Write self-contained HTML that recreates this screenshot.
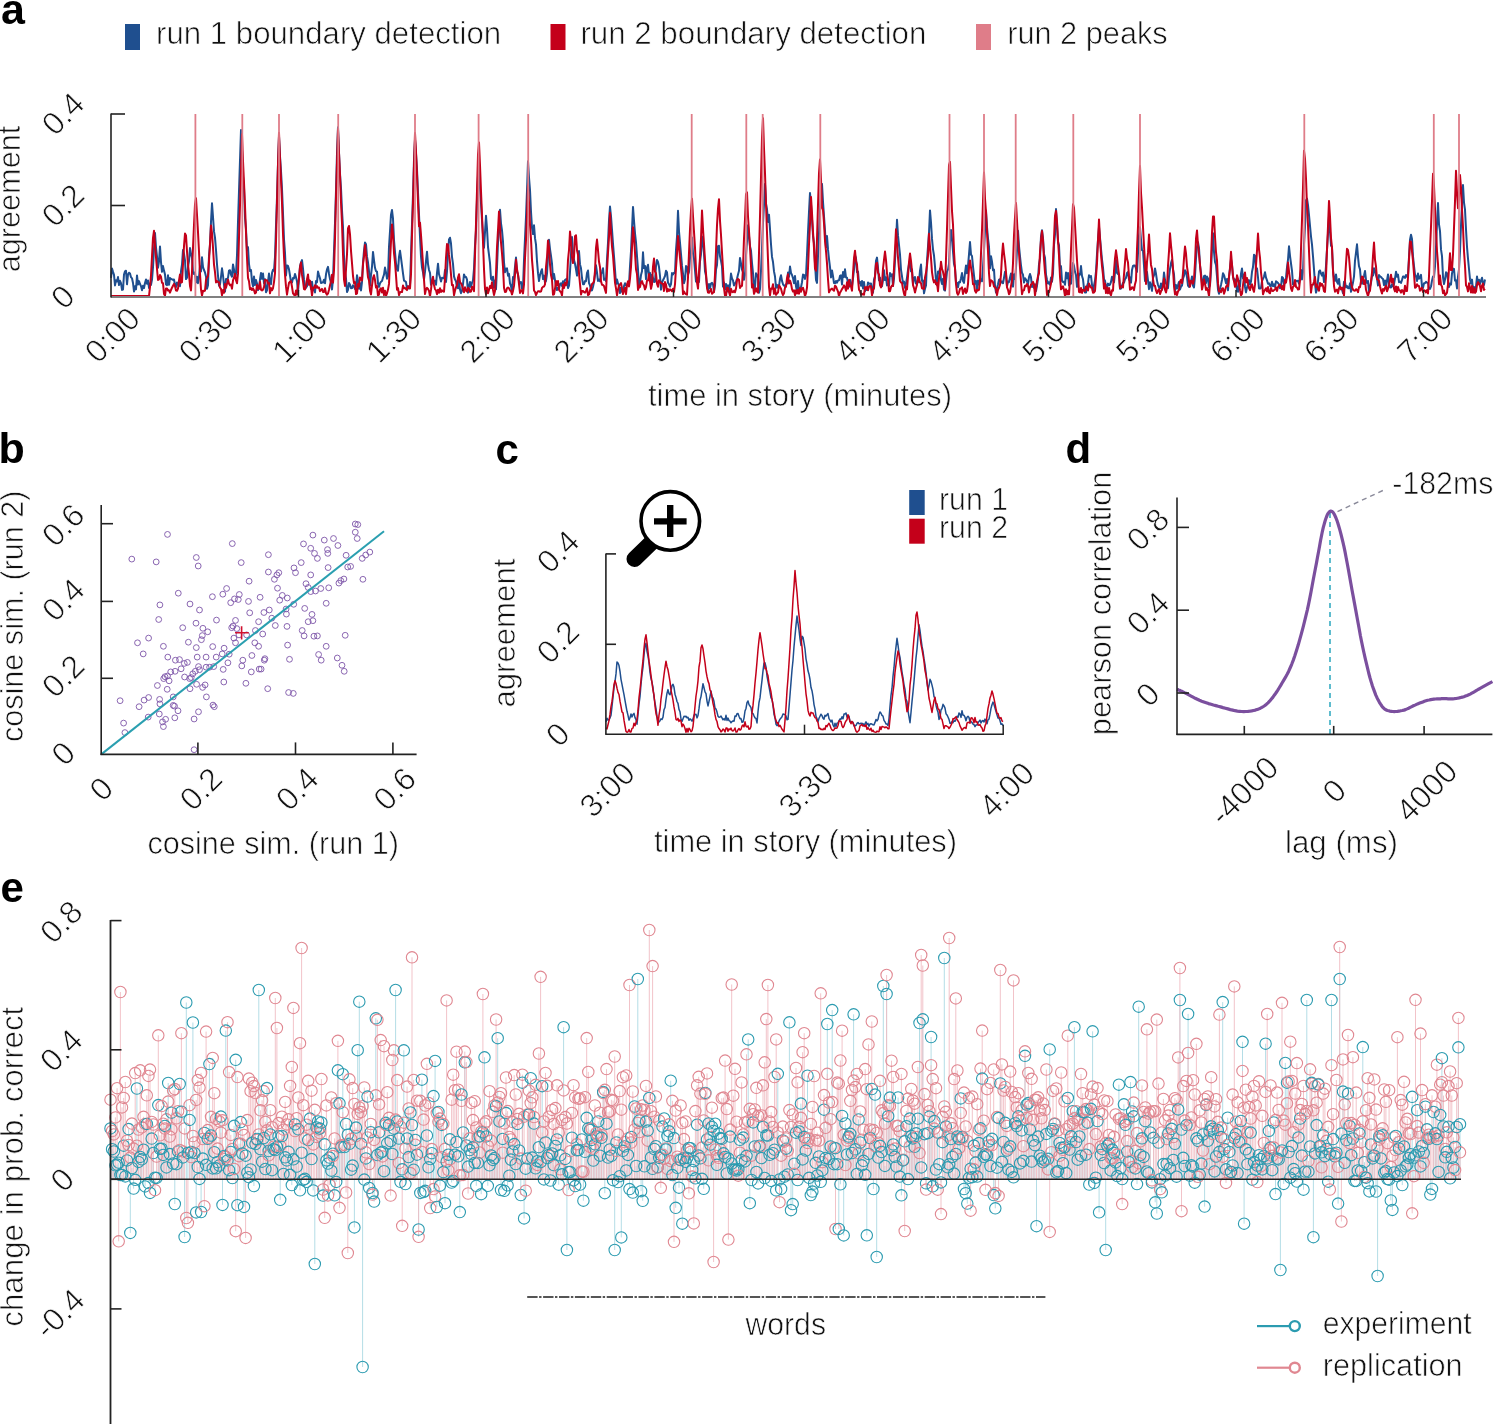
<!DOCTYPE html>
<html><head><meta charset="utf-8"><title>figure</title>
<style>
html,body{margin:0;padding:0;background:#fff;}
body{width:1493px;height:1424px;overflow:hidden;}
svg{display:block;font-family:"Liberation Sans", sans-serif;}
text.t{stroke:#fff;stroke-width:0.7px;}
svg{will-change:transform;}
</style></head><body>
<svg width="1493" height="1424" viewBox="0 0 1493 1424">
<rect width="1493" height="1424" fill="#fff"/>
<g id="panel-a">
<path d="M111.0,277.9 L112.0,268.5 L113.0,271.9 L114.0,274.8 L115.0,285.4 L116.0,280.2 L117.0,281.5 L118.0,277.1 L119.0,285.0 L120.0,280.8 L121.0,283.1 L122.0,289.9 L123.0,289.5 L124.0,274.5 L125.0,271.3 L126.0,270.7 L127.0,284.3 L128.0,274.4 L129.0,272.7 L130.0,273.6 L131.0,277.2 L132.0,278.3 L133.0,283.0 L134.0,291.5 L135.0,286.2 L136.0,289.4 L137.0,275.4 L138.0,284.6 L139.0,281.1 L140.0,284.0 L141.0,286.1 L142.0,290.3 L143.0,285.8 L144.0,288.0 L145.0,283.0 L146.0,279.5 L147.0,283.7 L148.0,280.4 L149.0,287.9 L150.0,283.6 L151.0,284.9 L152.0,279.6 L153.0,267.2 L154.0,249.0 L155.0,233.0 L156.0,247.6 L157.0,256.4 L158.0,267.8 L159.0,261.3 L160.0,246.6 L161.0,262.1 L162.0,271.8 L163.0,266.1 L164.0,270.6 L165.0,274.6 L166.0,284.5 L167.0,285.2 L168.0,275.3 L169.0,284.8 L170.0,278.0 L171.0,278.9 L172.0,279.4 L173.0,279.9 L174.0,279.5 L175.0,284.8 L176.0,286.9 L177.0,282.6 L178.0,284.7 L179.0,281.1 L180.0,286.2 L181.0,271.2 L182.0,264.5 L183.0,250.1 L184.0,253.9 L185.0,260.4 L186.0,279.1 L187.0,277.7 L188.0,266.8 L189.0,261.0 L190.0,248.1 L191.0,253.8 L192.0,257.9 L193.0,272.2 L194.0,273.9 L195.0,272.3 L196.0,282.6 L197.0,276.7 L198.0,283.2 L199.0,277.1 L200.0,266.5 L201.0,271.4 L202.0,257.3 L203.0,267.1 L204.0,270.0 L205.0,272.4 L206.0,276.4 L207.0,288.8 L208.0,285.3 L209.0,255.6 L210.0,244.8 L211.0,221.7 L212.0,203.2 L213.0,217.1 L214.0,231.4 L215.0,237.7 L216.0,250.0 L217.0,264.3 L218.0,275.9 L219.0,285.7 L220.0,284.4 L221.0,276.9 L222.0,268.3 L223.0,275.5 L224.0,284.8 L225.0,291.6 L226.0,279.0 L227.0,279.1 L228.0,277.8 L229.0,270.7 L230.0,270.2 L231.0,274.7 L232.0,276.7 L233.0,264.4 L234.0,269.6 L235.0,278.0 L236.0,273.7 L237.0,255.3 L238.0,222.1 L239.0,191.0 L240.0,160.3 L241.0,130.1 L242.0,150.0 L243.0,176.3 L244.0,187.9 L245.0,218.0 L246.0,229.2 L247.0,250.2 L248.0,247.1 L249.0,264.1 L250.0,271.1 L251.0,270.0 L252.0,281.6 L253.0,286.4 L254.0,276.5 L255.0,285.1 L256.0,280.0 L257.0,283.6 L258.0,290.0 L259.0,287.7 L260.0,279.5 L261.0,273.0 L262.0,278.8 L263.0,273.6 L264.0,283.2 L265.0,279.2 L266.0,292.2 L267.0,290.2 L268.0,281.6 L269.0,273.6 L270.0,282.3 L271.0,284.1 L272.0,273.1 L273.0,269.8 L274.0,270.8 L275.0,257.1 L276.0,225.5 L277.0,197.5 L278.0,163.6 L279.0,136.2 L280.0,156.2 L281.0,171.0 L282.0,189.0 L283.0,213.6 L284.0,239.4 L285.0,253.0 L286.0,275.5 L287.0,265.5 L288.0,266.0 L289.0,269.3 L290.0,275.5 L291.0,282.2 L292.0,282.5 L293.0,277.9 L294.0,278.4 L295.0,274.0 L296.0,277.3 L297.0,281.4 L298.0,292.0 L299.0,279.0 L300.0,266.3 L301.0,262.6 L302.0,260.1 L303.0,268.7 L304.0,279.4 L305.0,285.4 L306.0,287.8 L307.0,286.3 L308.0,279.3 L309.0,280.9 L310.0,282.5 L311.0,288.9 L312.0,281.7 L313.0,289.9 L314.0,289.9 L315.0,292.5 L316.0,281.1 L317.0,282.2 L318.0,271.5 L319.0,275.0 L320.0,278.2 L321.0,283.1 L322.0,282.4 L323.0,282.6 L324.0,279.7 L325.0,283.3 L326.0,274.3 L327.0,269.4 L328.0,266.9 L329.0,273.7 L330.0,279.0 L331.0,282.8 L332.0,289.5 L333.0,279.2 L334.0,251.4 L335.0,222.9 L336.0,190.8 L337.0,153.4 L338.0,127.3 L339.0,152.6 L340.0,173.7 L341.0,188.2 L342.0,210.6 L343.0,227.4 L344.0,256.9 L345.0,272.2 L346.0,278.6 L347.0,292.0 L348.0,289.8 L349.0,282.9 L350.0,284.8 L351.0,288.3 L352.0,288.1 L353.0,285.3 L354.0,286.3 L355.0,289.0 L356.0,286.4 L357.0,275.3 L358.0,280.4 L359.0,288.7 L360.0,283.2 L361.0,290.4 L362.0,281.9 L363.0,262.7 L364.0,250.8 L365.0,242.4 L366.0,244.2 L367.0,256.7 L368.0,262.5 L369.0,271.2 L370.0,285.7 L371.0,275.1 L372.0,266.7 L373.0,251.9 L374.0,260.3 L375.0,267.8 L376.0,271.2 L377.0,271.7 L378.0,283.4 L379.0,286.9 L380.0,283.3 L381.0,281.7 L382.0,281.0 L383.0,277.5 L384.0,274.7 L385.0,267.6 L386.0,272.4 L387.0,278.7 L388.0,276.4 L389.0,246.8 L390.0,231.4 L391.0,214.6 L392.0,210.0 L393.0,218.7 L394.0,240.2 L395.0,252.1 L396.0,263.3 L397.0,269.7 L398.0,270.8 L399.0,256.9 L400.0,250.7 L401.0,257.9 L402.0,265.6 L403.0,273.4 L404.0,280.7 L405.0,281.2 L406.0,282.1 L407.0,288.9 L408.0,286.3 L409.0,288.5 L410.0,285.3 L411.0,255.1 L412.0,224.2 L413.0,194.7 L414.0,159.7 L415.0,139.5 L416.0,153.8 L417.0,169.5 L418.0,192.5 L419.0,214.5 L420.0,236.8 L421.0,256.3 L422.0,267.6 L423.0,272.4 L424.0,279.4 L425.0,271.7 L426.0,261.1 L427.0,251.7 L428.0,264.1 L429.0,270.0 L430.0,272.9 L431.0,284.8 L432.0,282.8 L433.0,282.5 L434.0,280.8 L435.0,280.8 L436.0,284.8 L437.0,273.2 L438.0,263.7 L439.0,274.3 L440.0,277.5 L441.0,281.5 L442.0,277.7 L443.0,277.9 L444.0,278.5 L445.0,270.1 L446.0,281.9 L447.0,271.2 L448.0,253.8 L449.0,239.5 L450.0,237.7 L451.0,243.5 L452.0,256.8 L453.0,263.9 L454.0,276.4 L455.0,279.6 L456.0,281.3 L457.0,287.5 L458.0,288.3 L459.0,279.6 L460.0,289.6 L461.0,293.2 L462.0,290.8 L463.0,284.1 L464.0,274.4 L465.0,276.9 L466.0,276.9 L467.0,279.7 L468.0,292.7 L469.0,286.5 L470.0,282.0 L471.0,287.1 L472.0,282.8 L473.0,280.4 L474.0,268.8 L475.0,245.7 L476.0,230.6 L477.0,199.8 L478.0,176.0 L479.0,164.5 L480.0,188.0 L481.0,203.2 L482.0,220.0 L483.0,234.5 L484.0,247.8 L485.0,232.1 L486.0,215.8 L487.0,228.6 L488.0,247.0 L489.0,254.8 L490.0,263.0 L491.0,278.9 L492.0,280.1 L493.0,276.7 L494.0,287.7 L495.0,280.6 L496.0,289.3 L497.0,267.3 L498.0,242.5 L499.0,232.3 L500.0,209.8 L501.0,223.5 L502.0,230.3 L503.0,241.5 L504.0,262.3 L505.0,272.3 L506.0,268.8 L507.0,268.4 L508.0,275.7 L509.0,273.8 L510.0,283.4 L511.0,286.2 L512.0,291.4 L513.0,277.0 L514.0,278.7 L515.0,266.8 L516.0,257.6 L517.0,271.7 L518.0,274.3 L519.0,281.2 L520.0,283.2 L521.0,282.0 L522.0,288.6 L523.0,287.7 L524.0,260.2 L525.0,238.5 L526.0,216.7 L527.0,190.8 L528.0,161.3 L529.0,177.6 L530.0,190.1 L531.0,211.9 L532.0,227.8 L533.0,234.1 L534.0,225.3 L535.0,238.2 L536.0,244.7 L537.0,261.2 L538.0,273.2 L539.0,281.0 L540.0,275.0 L541.0,271.7 L542.0,269.2 L543.0,279.1 L544.0,275.6 L545.0,282.6 L546.0,280.9 L547.0,273.5 L548.0,257.2 L549.0,239.8 L550.0,249.1 L551.0,255.8 L552.0,263.6 L553.0,278.9 L554.0,274.0 L555.0,280.1 L556.0,286.7 L557.0,290.1 L558.0,287.7 L559.0,288.7 L560.0,284.1 L561.0,283.2 L562.0,285.9 L563.0,281.2 L564.0,283.1 L565.0,280.1 L566.0,279.2 L567.0,279.0 L568.0,288.0 L569.0,285.6 L570.0,271.7 L571.0,254.5 L572.0,237.1 L573.0,252.6 L574.0,260.1 L575.0,263.8 L576.0,269.4 L577.0,275.6 L578.0,261.3 L579.0,251.0 L580.0,264.4 L581.0,268.3 L582.0,278.0 L583.0,284.2 L584.0,284.2 L585.0,281.1 L586.0,281.2 L587.0,273.2 L588.0,270.5 L589.0,283.0 L590.0,285.4 L591.0,290.6 L592.0,290.3 L593.0,286.8 L594.0,281.8 L595.0,274.9 L596.0,265.3 L597.0,272.5 L598.0,281.0 L599.0,279.5 L600.0,281.3 L601.0,274.0 L602.0,271.8 L603.0,268.2 L604.0,279.8 L605.0,278.9 L606.0,281.1 L607.0,259.4 L608.0,242.9 L609.0,220.4 L610.0,206.6 L611.0,216.3 L612.0,229.8 L613.0,243.8 L614.0,256.3 L615.0,269.5 L616.0,284.1 L617.0,279.6 L618.0,283.4 L619.0,285.8 L620.0,293.0 L621.0,287.7 L622.0,291.7 L623.0,290.1 L624.0,286.1 L625.0,283.3 L626.0,285.4 L627.0,285.0 L628.0,283.4 L629.0,284.4 L630.0,266.4 L631.0,251.1 L632.0,229.0 L633.0,206.9 L634.0,220.7 L635.0,233.3 L636.0,242.3 L637.0,256.3 L638.0,269.3 L639.0,287.8 L640.0,282.9 L641.0,275.0 L642.0,271.3 L643.0,252.3 L644.0,268.1 L645.0,266.0 L646.0,279.1 L647.0,267.4 L648.0,264.8 L649.0,275.2 L650.0,272.9 L651.0,285.8 L652.0,274.8 L653.0,278.0 L654.0,281.9 L655.0,281.7 L656.0,266.0 L657.0,259.9 L658.0,261.9 L659.0,267.0 L660.0,276.0 L661.0,289.7 L662.0,282.5 L663.0,280.2 L664.0,278.2 L665.0,276.0 L666.0,270.8 L667.0,272.3 L668.0,282.6 L669.0,284.2 L670.0,286.7 L671.0,284.1 L672.0,273.1 L673.0,274.5 L674.0,272.8 L675.0,273.0 L676.0,249.9 L677.0,236.9 L678.0,210.8 L679.0,231.3 L680.0,242.9 L681.0,254.1 L682.0,265.9 L683.0,273.6 L684.0,283.2 L685.0,279.4 L686.0,266.0 L687.0,266.7 L688.0,274.6 L689.0,272.0 L690.0,258.0 L691.0,251.1 L692.0,237.5 L693.0,253.5 L694.0,258.8 L695.0,270.4 L696.0,281.6 L697.0,277.6 L698.0,279.4 L699.0,282.0 L700.0,261.5 L701.0,254.0 L702.0,236.6 L703.0,241.7 L704.0,253.6 L705.0,271.3 L706.0,275.9 L707.0,285.8 L708.0,290.3 L709.0,284.1 L710.0,288.2 L711.0,283.6 L712.0,282.9 L713.0,284.4 L714.0,291.4 L715.0,285.5 L716.0,269.6 L717.0,265.0 L718.0,246.1 L719.0,245.8 L720.0,256.3 L721.0,260.8 L722.0,266.4 L723.0,286.6 L724.0,282.5 L725.0,289.2 L726.0,283.9 L727.0,291.7 L728.0,285.3 L729.0,291.2 L730.0,284.8 L731.0,273.6 L732.0,278.4 L733.0,280.5 L734.0,285.5 L735.0,283.8 L736.0,282.0 L737.0,278.7 L738.0,274.5 L739.0,270.8 L740.0,257.9 L741.0,263.4 L742.0,269.7 L743.0,272.1 L744.0,279.8 L745.0,275.1 L746.0,255.3 L747.0,241.4 L748.0,225.3 L749.0,236.1 L750.0,246.2 L751.0,250.7 L752.0,263.2 L753.0,273.1 L754.0,289.6 L755.0,287.1 L756.0,273.3 L757.0,274.9 L758.0,277.6 L759.0,292.7 L760.0,289.1 L761.0,271.3 L762.0,247.5 L763.0,222.9 L764.0,204.8 L765.0,183.9 L766.0,203.6 L767.0,209.1 L768.0,222.0 L769.0,214.8 L770.0,229.1 L771.0,244.3 L772.0,256.9 L773.0,262.0 L774.0,271.4 L775.0,276.5 L776.0,287.8 L777.0,284.9 L778.0,287.7 L779.0,286.2 L780.0,278.8 L781.0,275.3 L782.0,280.9 L783.0,284.3 L784.0,285.6 L785.0,286.0 L786.0,284.4 L787.0,283.7 L788.0,272.6 L789.0,276.9 L790.0,266.5 L791.0,272.9 L792.0,275.0 L793.0,278.1 L794.0,283.3 L795.0,276.0 L796.0,286.4 L797.0,290.7 L798.0,281.0 L799.0,290.1 L800.0,290.5 L801.0,287.3 L802.0,282.2 L803.0,274.6 L804.0,275.0 L805.0,278.9 L806.0,275.5 L807.0,254.8 L808.0,232.4 L809.0,211.7 L810.0,193.0 L811.0,204.7 L812.0,219.3 L813.0,236.0 L814.0,243.2 L815.0,263.1 L816.0,280.0 L817.0,282.9 L818.0,256.1 L819.0,233.4 L820.0,211.9 L821.0,187.1 L822.0,184.0 L823.0,201.9 L824.0,216.2 L825.0,230.7 L826.0,247.2 L827.0,236.1 L828.0,249.4 L829.0,259.1 L830.0,267.2 L831.0,277.4 L832.0,270.4 L833.0,276.1 L834.0,283.1 L835.0,283.3 L836.0,281.0 L837.0,282.6 L838.0,280.4 L839.0,280.2 L840.0,275.9 L841.0,275.2 L842.0,284.4 L843.0,272.1 L844.0,277.0 L845.0,269.3 L846.0,277.5 L847.0,277.8 L848.0,282.7 L849.0,286.8 L850.0,279.7 L851.0,286.0 L852.0,286.2 L853.0,278.6 L854.0,269.7 L855.0,255.3 L856.0,258.1 L857.0,272.2 L858.0,271.6 L859.0,283.3 L860.0,281.8 L861.0,285.7 L862.0,280.9 L863.0,288.4 L864.0,282.1 L865.0,291.3 L866.0,288.3 L867.0,290.0 L868.0,282.4 L869.0,283.7 L870.0,283.8 L871.0,283.5 L872.0,290.8 L873.0,292.6 L874.0,279.5 L875.0,276.2 L876.0,260.9 L877.0,257.6 L878.0,267.8 L879.0,280.3 L880.0,277.7 L881.0,285.4 L882.0,286.1 L883.0,280.2 L884.0,270.2 L885.0,280.1 L886.0,277.2 L887.0,285.4 L888.0,284.1 L889.0,285.8 L890.0,273.0 L891.0,276.0 L892.0,274.2 L893.0,286.1 L894.0,278.4 L895.0,260.5 L896.0,243.0 L897.0,219.8 L898.0,235.4 L899.0,245.2 L900.0,254.6 L901.0,269.8 L902.0,276.4 L903.0,283.3 L904.0,281.6 L905.0,287.8 L906.0,283.6 L907.0,277.6 L908.0,270.0 L909.0,264.1 L910.0,262.6 L911.0,271.3 L912.0,269.3 L913.0,284.3 L914.0,278.2 L915.0,277.0 L916.0,283.7 L917.0,284.2 L918.0,279.5 L919.0,281.9 L920.0,270.6 L921.0,264.6 L922.0,280.9 L923.0,280.6 L924.0,293.3 L925.0,288.8 L926.0,285.4 L927.0,260.8 L928.0,246.5 L929.0,232.8 L930.0,210.4 L931.0,222.6 L932.0,238.9 L933.0,249.3 L934.0,255.5 L935.0,266.7 L936.0,280.4 L937.0,285.2 L938.0,271.6 L939.0,273.3 L940.0,268.6 L941.0,280.1 L942.0,284.0 L943.0,278.7 L944.0,289.7 L945.0,290.6 L946.0,281.3 L947.0,271.6 L948.0,269.6 L949.0,264.0 L950.0,242.2 L951.0,229.9 L952.0,239.1 L953.0,251.3 L954.0,264.1 L955.0,267.8 L956.0,282.7 L957.0,282.7 L958.0,287.2 L959.0,281.9 L960.0,282.3 L961.0,278.2 L962.0,273.1 L963.0,281.0 L964.0,282.9 L965.0,273.1 L966.0,265.5 L967.0,273.3 L968.0,265.9 L969.0,254.3 L970.0,242.0 L971.0,254.6 L972.0,256.0 L973.0,266.7 L974.0,275.6 L975.0,283.8 L976.0,281.0 L977.0,290.4 L978.0,280.5 L979.0,284.4 L980.0,281.1 L981.0,279.4 L982.0,281.3 L983.0,267.4 L984.0,250.6 L985.0,231.0 L986.0,210.5 L987.0,227.2 L988.0,238.5 L989.0,246.8 L990.0,268.3 L991.0,256.2 L992.0,261.6 L993.0,270.3 L994.0,269.6 L995.0,285.8 L996.0,292.5 L997.0,288.3 L998.0,284.3 L999.0,279.6 L1000.0,279.3 L1001.0,282.7 L1002.0,281.5 L1003.0,283.2 L1004.0,277.8 L1005.0,271.8 L1006.0,274.6 L1007.0,286.3 L1008.0,281.6 L1009.0,282.1 L1010.0,277.4 L1011.0,273.5 L1012.0,284.5 L1013.0,286.7 L1014.0,274.3 L1015.0,279.0 L1016.0,267.8 L1017.0,250.7 L1018.0,230.7 L1019.0,246.0 L1020.0,256.4 L1021.0,265.5 L1022.0,272.8 L1023.0,274.8 L1024.0,282.5 L1025.0,278.2 L1026.0,279.5 L1027.0,281.3 L1028.0,284.1 L1029.0,277.1 L1030.0,274.0 L1031.0,277.4 L1032.0,286.9 L1033.0,285.1 L1034.0,287.8 L1035.0,284.3 L1036.0,291.0 L1037.0,285.7 L1038.0,278.7 L1039.0,264.1 L1040.0,258.5 L1041.0,236.3 L1042.0,230.2 L1043.0,238.1 L1044.0,253.9 L1045.0,257.8 L1046.0,274.7 L1047.0,279.7 L1048.0,283.6 L1049.0,282.2 L1050.0,284.8 L1051.0,277.6 L1052.0,281.7 L1053.0,273.6 L1054.0,245.0 L1055.0,234.5 L1056.0,209.1 L1057.0,223.9 L1058.0,241.9 L1059.0,245.3 L1060.0,268.2 L1061.0,266.2 L1062.0,281.0 L1063.0,281.9 L1064.0,281.7 L1065.0,284.8 L1066.0,272.5 L1067.0,278.3 L1068.0,272.9 L1069.0,285.5 L1070.0,283.0 L1071.0,283.7 L1072.0,274.7 L1073.0,262.9 L1074.0,265.9 L1075.0,271.9 L1076.0,275.0 L1077.0,286.8 L1078.0,283.9 L1079.0,274.1 L1080.0,274.8 L1081.0,266.1 L1082.0,276.0 L1083.0,279.3 L1084.0,288.5 L1085.0,292.4 L1086.0,292.6 L1087.0,286.4 L1088.0,283.0 L1089.0,275.2 L1090.0,276.9 L1091.0,276.0 L1092.0,284.8 L1093.0,291.3 L1094.0,285.5 L1095.0,280.5 L1096.0,271.3 L1097.0,253.9 L1098.0,239.6 L1099.0,227.2 L1100.0,237.8 L1101.0,248.8 L1102.0,259.5 L1103.0,267.6 L1104.0,279.3 L1105.0,280.9 L1106.0,286.6 L1107.0,287.1 L1108.0,283.6 L1109.0,285.3 L1110.0,284.7 L1111.0,281.9 L1112.0,276.7 L1113.0,279.1 L1114.0,282.4 L1115.0,272.7 L1116.0,260.1 L1117.0,272.8 L1118.0,274.0 L1119.0,274.9 L1120.0,288.8 L1121.0,288.5 L1122.0,285.5 L1123.0,282.8 L1124.0,282.6 L1125.0,279.2 L1126.0,277.8 L1127.0,272.9 L1128.0,272.0 L1129.0,279.7 L1130.0,277.4 L1131.0,282.7 L1132.0,269.9 L1133.0,266.0 L1134.0,265.5 L1135.0,265.6 L1136.0,268.5 L1137.0,271.9 L1138.0,253.2 L1139.0,235.8 L1140.0,227.3 L1141.0,239.7 L1142.0,250.2 L1143.0,250.8 L1144.0,265.8 L1145.0,280.9 L1146.0,271.0 L1147.0,272.0 L1148.0,280.5 L1149.0,289.2 L1150.0,282.3 L1151.0,285.5 L1152.0,290.9 L1153.0,278.0 L1154.0,275.2 L1155.0,268.4 L1156.0,273.8 L1157.0,280.6 L1158.0,285.0 L1159.0,287.5 L1160.0,288.3 L1161.0,283.5 L1162.0,289.7 L1163.0,284.6 L1164.0,272.6 L1165.0,280.1 L1166.0,283.6 L1167.0,284.6 L1168.0,288.2 L1169.0,276.7 L1170.0,269.0 L1171.0,263.1 L1172.0,259.8 L1173.0,269.3 L1174.0,274.3 L1175.0,291.3 L1176.0,285.0 L1177.0,288.6 L1178.0,285.2 L1179.0,281.9 L1180.0,289.5 L1181.0,286.6 L1182.0,285.5 L1183.0,278.8 L1184.0,275.6 L1185.0,270.3 L1186.0,272.0 L1187.0,277.2 L1188.0,285.7 L1189.0,287.0 L1190.0,285.1 L1191.0,281.7 L1192.0,276.5 L1193.0,285.7 L1194.0,287.4 L1195.0,275.8 L1196.0,258.3 L1197.0,246.6 L1198.0,242.2 L1199.0,248.1 L1200.0,265.5 L1201.0,273.0 L1202.0,283.4 L1203.0,284.0 L1204.0,276.1 L1205.0,275.5 L1206.0,283.0 L1207.0,276.6 L1208.0,278.5 L1209.0,287.4 L1210.0,285.3 L1211.0,270.6 L1212.0,248.7 L1213.0,233.3 L1214.0,252.0 L1215.0,262.0 L1216.0,265.0 L1217.0,276.7 L1218.0,289.7 L1219.0,293.7 L1220.0,288.6 L1221.0,284.9 L1222.0,280.0 L1223.0,273.2 L1224.0,275.1 L1225.0,279.1 L1226.0,283.2 L1227.0,278.9 L1228.0,290.3 L1229.0,276.5 L1230.0,267.8 L1231.0,259.2 L1232.0,265.0 L1233.0,276.3 L1234.0,280.9 L1235.0,279.4 L1236.0,281.3 L1237.0,291.1 L1238.0,291.7 L1239.0,281.0 L1240.0,286.3 L1241.0,273.8 L1242.0,268.5 L1243.0,278.4 L1244.0,274.5 L1245.0,286.9 L1246.0,292.4 L1247.0,287.6 L1248.0,284.2 L1249.0,280.1 L1250.0,284.6 L1251.0,281.5 L1252.0,271.8 L1253.0,267.0 L1254.0,254.8 L1255.0,255.8 L1256.0,270.8 L1257.0,268.4 L1258.0,277.5 L1259.0,288.4 L1260.0,288.6 L1261.0,287.9 L1262.0,281.2 L1263.0,278.7 L1264.0,276.6 L1265.0,272.3 L1266.0,277.6 L1267.0,280.4 L1268.0,283.8 L1269.0,283.4 L1270.0,286.0 L1271.0,286.0 L1272.0,281.8 L1273.0,286.2 L1274.0,284.4 L1275.0,287.0 L1276.0,281.3 L1277.0,282.0 L1278.0,282.9 L1279.0,284.6 L1280.0,288.2 L1281.0,286.6 L1282.0,276.9 L1283.0,278.0 L1284.0,284.4 L1285.0,281.9 L1286.0,277.7 L1287.0,267.4 L1288.0,259.7 L1289.0,246.3 L1290.0,255.8 L1291.0,263.5 L1292.0,270.8 L1293.0,284.5 L1294.0,283.8 L1295.0,282.5 L1296.0,281.1 L1297.0,280.8 L1298.0,281.0 L1299.0,283.7 L1300.0,276.0 L1301.0,269.9 L1302.0,279.4 L1303.0,272.2 L1304.0,244.1 L1305.0,226.9 L1306.0,200.3 L1307.0,198.7 L1308.0,205.1 L1309.0,215.1 L1310.0,225.8 L1311.0,236.5 L1312.0,244.6 L1313.0,256.4 L1314.0,269.4 L1315.0,283.4 L1316.0,292.6 L1317.0,289.2 L1318.0,280.9 L1319.0,271.5 L1320.0,270.4 L1321.0,273.5 L1322.0,275.7 L1323.0,272.5 L1324.0,282.1 L1325.0,279.9 L1326.0,265.7 L1327.0,249.3 L1328.0,233.7 L1329.0,215.9 L1330.0,231.3 L1331.0,245.5 L1332.0,247.3 L1333.0,269.8 L1334.0,278.5 L1335.0,280.9 L1336.0,274.5 L1337.0,281.9 L1338.0,283.7 L1339.0,278.9 L1340.0,287.4 L1341.0,288.7 L1342.0,289.5 L1343.0,293.2 L1344.0,281.8 L1345.0,281.9 L1346.0,287.4 L1347.0,286.0 L1348.0,288.2 L1349.0,288.2 L1350.0,283.2 L1351.0,291.8 L1352.0,287.2 L1353.0,282.6 L1354.0,276.6 L1355.0,260.8 L1356.0,252.7 L1357.0,244.3 L1358.0,256.8 L1359.0,266.3 L1360.0,269.4 L1361.0,281.0 L1362.0,283.7 L1363.0,278.6 L1364.0,275.8 L1365.0,270.9 L1366.0,279.8 L1367.0,282.9 L1368.0,281.0 L1369.0,292.0 L1370.0,286.8 L1371.0,282.9 L1372.0,276.2 L1373.0,275.5 L1374.0,268.2 L1375.0,270.7 L1376.0,275.3 L1377.0,278.5 L1378.0,285.5 L1379.0,275.0 L1380.0,276.3 L1381.0,277.0 L1382.0,278.2 L1383.0,279.0 L1384.0,285.0 L1385.0,280.4 L1386.0,287.9 L1387.0,280.4 L1388.0,274.4 L1389.0,283.4 L1390.0,287.3 L1391.0,287.5 L1392.0,284.2 L1393.0,286.4 L1394.0,284.2 L1395.0,278.3 L1396.0,271.8 L1397.0,276.8 L1398.0,274.6 L1399.0,282.2 L1400.0,281.7 L1401.0,282.9 L1402.0,279.9 L1403.0,276.6 L1404.0,276.6 L1405.0,278.0 L1406.0,275.0 L1407.0,276.7 L1408.0,274.6 L1409.0,257.1 L1410.0,239.8 L1411.0,234.8 L1412.0,239.0 L1413.0,256.3 L1414.0,266.0 L1415.0,274.3 L1416.0,276.5 L1417.0,281.0 L1418.0,273.6 L1419.0,278.7 L1420.0,277.5 L1421.0,274.9 L1422.0,286.6 L1423.0,287.9 L1424.0,283.2 L1425.0,283.2 L1426.0,281.9 L1427.0,282.6 L1428.0,282.9 L1429.0,288.2 L1430.0,289.0 L1431.0,286.5 L1432.0,280.7 L1433.0,276.4 L1434.0,277.0 L1435.0,266.5 L1436.0,247.0 L1437.0,223.6 L1438.0,203.1 L1439.0,224.3 L1440.0,231.1 L1441.0,249.4 L1442.0,256.1 L1443.0,277.0 L1444.0,284.0 L1445.0,279.5 L1446.0,272.3 L1447.0,273.2 L1448.0,280.4 L1449.0,287.1 L1450.0,283.6 L1451.0,284.6 L1452.0,273.5 L1453.0,268.6 L1454.0,269.0 L1455.0,280.6 L1456.0,280.3 L1457.0,288.5 L1458.0,276.6 L1459.0,269.1 L1460.0,251.1 L1461.0,225.5 L1462.0,203.3 L1463.0,185.0 L1464.0,202.6 L1465.0,209.7 L1466.0,229.5 L1467.0,246.9 L1468.0,258.6 L1469.0,269.0 L1470.0,279.4 L1471.0,283.6 L1472.0,279.6 L1473.0,289.9 L1474.0,286.9 L1475.0,291.7 L1476.0,286.6 L1477.0,276.5 L1478.0,284.3 L1479.0,279.7 L1480.0,283.9 L1481.0,280.6 L1482.0,277.8 L1483.0,283.2 L1484.0,284.9 L1485.0,279.5" fill="none" stroke="#1f4f8f" stroke-width="2.0" stroke-linejoin="round"/>
<path d="M111.0,296.1 L112.0,296.1 L113.0,296.1 L114.0,296.1 L115.0,296.1 L116.0,296.1 L117.0,296.1 L118.0,296.1 L119.0,296.1 L120.0,296.1 L121.0,296.1 L122.0,296.1 L123.0,296.1 L124.0,296.1 L125.0,296.1 L126.0,296.1 L127.0,296.1 L128.0,296.1 L129.0,296.1 L130.0,296.1 L131.0,296.1 L132.0,296.1 L133.0,296.1 L134.0,296.1 L135.0,296.1 L136.0,296.1 L137.0,296.1 L138.0,296.1 L139.0,296.1 L140.0,296.1 L141.0,296.1 L142.0,296.1 L143.0,296.1 L144.0,296.1 L145.0,296.1 L146.0,296.1 L147.0,296.1 L148.0,296.1 L149.0,296.1 L150.0,286.8 L151.0,275.4 L152.0,256.6 L153.0,237.8 L154.0,230.8 L155.0,245.5 L156.0,257.3 L157.0,269.0 L158.0,280.0 L159.0,279.4 L160.0,275.0 L161.0,276.8 L162.0,282.8 L163.0,283.1 L164.0,294.0 L165.0,295.6 L166.0,288.4 L167.0,288.4 L168.0,290.5 L169.0,290.3 L170.0,292.7 L171.0,290.0 L172.0,287.7 L173.0,285.7 L174.0,283.9 L175.0,286.0 L176.0,290.6 L177.0,290.7 L178.0,288.6 L179.0,280.4 L180.0,274.5 L181.0,282.7 L182.0,282.2 L183.0,264.2 L184.0,246.2 L185.0,233.6 L186.0,235.4 L187.0,251.5 L188.0,264.4 L189.0,273.8 L190.0,286.0 L191.0,290.5 L192.0,271.8 L193.0,247.6 L194.0,225.1 L195.0,204.4 L196.0,198.2 L197.0,215.0 L198.0,232.1 L199.0,251.5 L200.0,273.8 L201.0,289.6 L202.0,295.6 L203.0,290.7 L204.0,291.2 L205.0,290.7 L206.0,280.0 L207.0,277.5 L208.0,276.0 L209.0,261.0 L210.0,243.7 L211.0,225.5 L212.0,233.2 L213.0,247.5 L214.0,264.6 L215.0,272.1 L216.0,282.5 L217.0,281.0 L218.0,282.0 L219.0,282.2 L220.0,287.7 L221.0,288.8 L222.0,295.4 L223.0,290.1 L224.0,292.8 L225.0,284.1 L226.0,287.7 L227.0,283.8 L228.0,279.6 L229.0,283.7 L230.0,285.3 L231.0,284.5 L232.0,288.7 L233.0,280.3 L234.0,277.7 L235.0,273.7 L236.0,280.1 L237.0,283.3 L238.0,273.4 L239.0,237.8 L240.0,205.3 L241.0,171.4 L242.0,134.3 L243.0,161.1 L244.0,182.7 L245.0,205.8 L246.0,232.4 L247.0,257.8 L248.0,277.9 L249.0,281.2 L250.0,289.3 L251.0,288.1 L252.0,290.0 L253.0,288.4 L254.0,290.3 L255.0,293.4 L256.0,292.5 L257.0,285.0 L258.0,288.1 L259.0,288.9 L260.0,281.8 L261.0,289.8 L262.0,290.5 L263.0,289.7 L264.0,287.2 L265.0,279.9 L266.0,280.3 L267.0,280.3 L268.0,283.6 L269.0,282.8 L270.0,293.3 L271.0,288.1 L272.0,290.3 L273.0,288.2 L274.0,282.1 L275.0,273.1 L276.0,241.5 L277.0,202.3 L278.0,164.8 L279.0,132.8 L280.0,158.3 L281.0,179.6 L282.0,202.7 L283.0,233.8 L284.0,256.6 L285.0,274.7 L286.0,286.7 L287.0,294.7 L288.0,288.4 L289.0,282.9 L290.0,281.6 L291.0,281.2 L292.0,286.8 L293.0,293.3 L294.0,294.6 L295.0,296.0 L296.0,290.5 L297.0,294.7 L298.0,285.7 L299.0,277.8 L300.0,267.3 L301.0,262.6 L302.0,274.9 L303.0,281.2 L304.0,289.1 L305.0,289.5 L306.0,285.8 L307.0,279.3 L308.0,274.4 L309.0,284.8 L310.0,280.6 L311.0,286.8 L312.0,295.6 L313.0,287.6 L314.0,288.3 L315.0,285.2 L316.0,287.7 L317.0,286.0 L318.0,287.9 L319.0,287.6 L320.0,291.2 L321.0,290.1 L322.0,288.9 L323.0,291.9 L324.0,292.0 L325.0,288.2 L326.0,293.1 L327.0,294.6 L328.0,293.6 L329.0,289.7 L330.0,285.2 L331.0,281.2 L332.0,274.7 L333.0,282.6 L334.0,270.2 L335.0,238.3 L336.0,196.8 L337.0,162.7 L338.0,129.2 L339.0,153.0 L340.0,175.1 L341.0,202.2 L342.0,223.2 L343.0,254.0 L344.0,279.5 L345.0,285.9 L346.0,269.2 L347.0,254.2 L348.0,228.4 L349.0,226.0 L350.0,234.3 L351.0,250.9 L352.0,263.1 L353.0,276.0 L354.0,283.0 L355.0,282.1 L356.0,294.1 L357.0,293.4 L358.0,284.1 L359.0,286.5 L360.0,277.5 L361.0,279.6 L362.0,280.5 L363.0,264.2 L364.0,256.4 L365.0,244.9 L366.0,254.7 L367.0,266.7 L368.0,277.3 L369.0,280.4 L370.0,290.7 L371.0,294.5 L372.0,285.4 L373.0,278.0 L374.0,275.2 L375.0,280.0 L376.0,287.5 L377.0,286.0 L378.0,296.2 L379.0,294.3 L380.0,289.3 L381.0,288.2 L382.0,292.6 L383.0,287.8 L384.0,295.1 L385.0,290.8 L386.0,295.8 L387.0,293.3 L388.0,289.6 L389.0,283.9 L390.0,261.3 L391.0,241.4 L392.0,224.4 L393.0,234.3 L394.0,253.1 L395.0,262.2 L396.0,275.4 L397.0,289.8 L398.0,288.0 L399.0,295.1 L400.0,292.3 L401.0,292.0 L402.0,292.0 L403.0,285.6 L404.0,288.3 L405.0,287.9 L406.0,289.1 L407.0,290.1 L408.0,286.3 L409.0,287.7 L410.0,288.4 L411.0,274.3 L412.0,234.7 L413.0,203.3 L414.0,165.6 L415.0,133.0 L416.0,151.7 L417.0,174.2 L418.0,202.2 L419.0,226.3 L420.0,222.7 L421.0,235.2 L422.0,249.3 L423.0,264.0 L424.0,279.8 L425.0,294.1 L426.0,289.4 L427.0,287.8 L428.0,289.0 L429.0,290.9 L430.0,296.3 L431.0,289.7 L432.0,280.4 L433.0,276.7 L434.0,284.9 L435.0,289.1 L436.0,290.3 L437.0,294.2 L438.0,289.8 L439.0,292.8 L440.0,288.3 L441.0,292.0 L442.0,290.3 L443.0,291.4 L444.0,291.7 L445.0,278.1 L446.0,257.9 L447.0,244.0 L448.0,244.7 L449.0,254.9 L450.0,262.3 L451.0,274.7 L452.0,285.2 L453.0,284.9 L454.0,295.2 L455.0,290.8 L456.0,287.2 L457.0,285.5 L458.0,277.5 L459.0,274.2 L460.0,282.2 L461.0,283.4 L462.0,285.3 L463.0,289.3 L464.0,292.2 L465.0,287.3 L466.0,290.6 L467.0,291.7 L468.0,287.8 L469.0,288.8 L470.0,291.9 L471.0,291.6 L472.0,286.7 L473.0,287.9 L474.0,291.3 L475.0,254.8 L476.0,223.7 L477.0,191.1 L478.0,154.7 L479.0,142.5 L480.0,165.4 L481.0,191.4 L482.0,215.3 L483.0,241.7 L484.0,268.9 L485.0,289.0 L486.0,294.4 L487.0,287.4 L488.0,293.2 L489.0,290.0 L490.0,285.9 L491.0,288.0 L492.0,282.3 L493.0,289.9 L494.0,295.1 L495.0,291.1 L496.0,273.8 L497.0,247.3 L498.0,230.0 L499.0,211.5 L500.0,227.4 L501.0,242.5 L502.0,253.4 L503.0,266.6 L504.0,287.8 L505.0,292.1 L506.0,291.8 L507.0,288.3 L508.0,287.5 L509.0,288.3 L510.0,290.4 L511.0,291.1 L512.0,294.4 L513.0,290.9 L514.0,285.9 L515.0,274.5 L516.0,259.7 L517.0,269.1 L518.0,274.7 L519.0,284.1 L520.0,292.9 L521.0,290.6 L522.0,290.0 L523.0,293.4 L524.0,284.4 L525.0,258.1 L526.0,240.3 L527.0,214.7 L528.0,184.4 L529.0,202.7 L530.0,224.9 L531.0,239.1 L532.0,259.9 L533.0,271.7 L534.0,290.5 L535.0,291.9 L536.0,295.1 L537.0,292.8 L538.0,291.3 L539.0,291.2 L540.0,291.8 L541.0,291.4 L542.0,287.9 L543.0,286.8 L544.0,286.6 L545.0,284.4 L546.0,267.0 L547.0,257.2 L548.0,240.6 L549.0,247.2 L550.0,264.7 L551.0,275.0 L552.0,279.8 L553.0,294.7 L554.0,294.4 L555.0,288.8 L556.0,281.1 L557.0,285.2 L558.0,281.0 L559.0,289.9 L560.0,291.2 L561.0,292.2 L562.0,295.4 L563.0,284.4 L564.0,288.1 L565.0,282.6 L566.0,285.3 L567.0,282.3 L568.0,259.8 L569.0,250.2 L570.0,231.6 L571.0,241.0 L572.0,257.2 L573.0,263.0 L574.0,256.7 L575.0,236.3 L576.0,235.3 L577.0,250.2 L578.0,254.7 L579.0,273.5 L580.0,284.0 L581.0,294.5 L582.0,291.1 L583.0,290.9 L584.0,292.1 L585.0,292.6 L586.0,291.1 L587.0,288.3 L588.0,295.1 L589.0,294.5 L590.0,290.4 L591.0,288.0 L592.0,284.1 L593.0,283.2 L594.0,281.3 L595.0,271.2 L596.0,247.8 L597.0,239.5 L598.0,250.2 L599.0,261.8 L600.0,267.2 L601.0,281.2 L602.0,284.8 L603.0,285.0 L604.0,285.9 L605.0,289.8 L606.0,292.9 L607.0,271.2 L608.0,252.6 L609.0,236.8 L610.0,212.8 L611.0,232.2 L612.0,246.7 L613.0,255.5 L614.0,269.3 L615.0,282.5 L616.0,288.3 L617.0,295.3 L618.0,289.8 L619.0,285.4 L620.0,284.5 L621.0,283.0 L622.0,288.3 L623.0,294.0 L624.0,290.8 L625.0,287.7 L626.0,294.2 L627.0,284.8 L628.0,281.2 L629.0,286.5 L630.0,278.5 L631.0,266.9 L632.0,247.7 L633.0,227.3 L634.0,237.0 L635.0,252.7 L636.0,269.3 L637.0,274.1 L638.0,290.0 L639.0,285.7 L640.0,287.0 L641.0,282.3 L642.0,281.1 L643.0,284.0 L644.0,285.4 L645.0,289.4 L646.0,287.0 L647.0,280.7 L648.0,280.6 L649.0,274.1 L650.0,281.3 L651.0,288.8 L652.0,284.3 L653.0,266.5 L654.0,258.5 L655.0,271.6 L656.0,273.3 L657.0,283.6 L658.0,286.8 L659.0,280.3 L660.0,282.0 L661.0,282.9 L662.0,283.7 L663.0,283.7 L664.0,291.0 L665.0,282.1 L666.0,284.4 L667.0,291.5 L668.0,289.1 L669.0,290.9 L670.0,289.4 L671.0,290.1 L672.0,291.3 L673.0,288.7 L674.0,291.8 L675.0,284.2 L676.0,267.9 L677.0,253.8 L678.0,235.9 L679.0,246.6 L680.0,257.9 L681.0,268.1 L682.0,278.2 L683.0,294.2 L684.0,291.5 L685.0,293.4 L686.0,294.1 L687.0,294.7 L688.0,277.2 L689.0,252.9 L690.0,229.2 L691.0,210.6 L692.0,198.8 L693.0,216.4 L694.0,231.8 L695.0,247.9 L696.0,268.9 L697.0,282.4 L698.0,288.6 L699.0,272.4 L700.0,257.5 L701.0,238.5 L702.0,210.6 L703.0,228.9 L704.0,244.0 L705.0,259.9 L706.0,273.4 L707.0,287.9 L708.0,292.6 L709.0,292.8 L710.0,290.9 L711.0,289.0 L712.0,293.7 L713.0,292.7 L714.0,292.1 L715.0,274.8 L716.0,251.4 L717.0,225.3 L718.0,208.6 L719.0,199.2 L720.0,220.8 L721.0,235.0 L722.0,252.4 L723.0,268.8 L724.0,288.0 L725.0,295.8 L726.0,296.3 L727.0,287.8 L728.0,288.0 L729.0,292.0 L730.0,295.5 L731.0,288.8 L732.0,291.9 L733.0,292.2 L734.0,290.7 L735.0,292.3 L736.0,288.6 L737.0,280.0 L738.0,278.9 L739.0,279.8 L740.0,288.0 L741.0,286.2 L742.0,285.9 L743.0,267.7 L744.0,238.4 L745.0,219.3 L746.0,194.3 L747.0,192.4 L748.0,216.6 L749.0,231.2 L750.0,247.3 L751.0,265.9 L752.0,287.5 L753.0,284.6 L754.0,293.8 L755.0,291.4 L756.0,288.3 L757.0,291.5 L758.0,292.6 L759.0,252.8 L760.0,216.5 L761.0,177.2 L762.0,137.5 L763.0,118.2 L764.0,148.6 L765.0,173.4 L766.0,203.4 L767.0,232.8 L768.0,259.7 L769.0,287.0 L770.0,295.4 L771.0,288.4 L772.0,288.8 L773.0,284.3 L774.0,293.8 L775.0,288.6 L776.0,294.8 L777.0,293.4 L778.0,292.5 L779.0,285.3 L780.0,286.9 L781.0,288.8 L782.0,292.6 L783.0,295.1 L784.0,293.2 L785.0,287.6 L786.0,286.8 L787.0,278.2 L788.0,274.3 L789.0,283.4 L790.0,280.7 L791.0,283.6 L792.0,289.1 L793.0,291.5 L794.0,290.3 L795.0,295.3 L796.0,290.2 L797.0,293.5 L798.0,289.7 L799.0,293.7 L800.0,288.0 L801.0,291.8 L802.0,288.5 L803.0,287.7 L804.0,291.2 L805.0,296.3 L806.0,293.2 L807.0,287.6 L808.0,268.2 L809.0,244.3 L810.0,224.0 L811.0,196.9 L812.0,213.2 L813.0,231.9 L814.0,248.1 L815.0,268.6 L816.0,270.8 L817.0,239.1 L818.0,204.5 L819.0,173.4 L820.0,159.4 L821.0,179.3 L822.0,208.1 L823.0,209.8 L824.0,223.2 L825.0,240.8 L826.0,251.1 L827.0,263.4 L828.0,279.2 L829.0,292.3 L830.0,290.2 L831.0,289.2 L832.0,288.5 L833.0,289.8 L834.0,290.8 L835.0,285.8 L836.0,286.6 L837.0,289.2 L838.0,291.6 L839.0,296.2 L840.0,292.6 L841.0,291.0 L842.0,289.1 L843.0,287.6 L844.0,285.4 L845.0,287.1 L846.0,290.8 L847.0,282.3 L848.0,288.7 L849.0,280.1 L850.0,285.3 L851.0,286.5 L852.0,290.8 L853.0,273.5 L854.0,258.2 L855.0,250.7 L856.0,260.9 L857.0,264.5 L858.0,278.9 L859.0,289.7 L860.0,291.3 L861.0,294.5 L862.0,294.6 L863.0,293.8 L864.0,294.8 L865.0,287.1 L866.0,288.6 L867.0,286.9 L868.0,290.2 L869.0,286.7 L870.0,285.9 L871.0,286.4 L872.0,295.5 L873.0,289.8 L874.0,288.5 L875.0,276.3 L876.0,263.9 L877.0,262.7 L878.0,272.6 L879.0,274.5 L880.0,285.1 L881.0,287.4 L882.0,284.1 L883.0,268.5 L884.0,259.9 L885.0,251.5 L886.0,260.0 L887.0,273.3 L888.0,279.3 L889.0,291.2 L890.0,291.2 L891.0,287.1 L892.0,285.5 L893.0,285.9 L894.0,268.2 L895.0,249.2 L896.0,229.3 L897.0,243.4 L898.0,257.7 L899.0,268.6 L900.0,281.0 L901.0,282.4 L902.0,283.1 L903.0,289.1 L904.0,293.6 L905.0,296.5 L906.0,286.8 L907.0,289.4 L908.0,276.2 L909.0,262.0 L910.0,253.5 L911.0,260.9 L912.0,271.3 L913.0,285.1 L914.0,288.1 L915.0,292.6 L916.0,288.3 L917.0,284.7 L918.0,277.0 L919.0,279.1 L920.0,282.4 L921.0,283.1 L922.0,288.4 L923.0,288.4 L924.0,288.9 L925.0,277.5 L926.0,272.8 L927.0,265.3 L928.0,255.9 L929.0,233.7 L930.0,246.9 L931.0,258.2 L932.0,272.1 L933.0,278.9 L934.0,282.4 L935.0,280.3 L936.0,284.3 L937.0,282.8 L938.0,291.2 L939.0,278.4 L940.0,272.9 L941.0,261.7 L942.0,268.8 L943.0,271.8 L944.0,276.8 L945.0,289.4 L946.0,258.7 L947.0,229.0 L948.0,196.5 L949.0,165.1 L950.0,161.9 L951.0,187.5 L952.0,211.0 L953.0,224.7 L954.0,251.4 L955.0,268.2 L956.0,284.1 L957.0,292.7 L958.0,294.7 L959.0,292.6 L960.0,288.7 L961.0,288.6 L962.0,287.3 L963.0,293.9 L964.0,290.8 L965.0,288.5 L966.0,293.1 L967.0,291.2 L968.0,284.0 L969.0,267.4 L970.0,260.5 L971.0,267.6 L972.0,273.6 L973.0,284.2 L974.0,284.0 L975.0,290.8 L976.0,292.6 L977.0,289.9 L978.0,290.4 L979.0,289.9 L980.0,279.6 L981.0,253.4 L982.0,230.2 L983.0,201.3 L984.0,172.4 L985.0,198.6 L986.0,211.9 L987.0,231.8 L988.0,251.7 L989.0,273.1 L990.0,286.1 L991.0,280.2 L992.0,281.0 L993.0,282.2 L994.0,286.4 L995.0,287.3 L996.0,289.0 L997.0,295.0 L998.0,289.8 L999.0,287.8 L1000.0,284.8 L1001.0,274.3 L1002.0,255.6 L1003.0,243.6 L1004.0,253.6 L1005.0,261.2 L1006.0,272.1 L1007.0,287.4 L1008.0,289.8 L1009.0,294.3 L1010.0,292.3 L1011.0,285.9 L1012.0,280.7 L1013.0,263.4 L1014.0,235.4 L1015.0,217.4 L1016.0,203.1 L1017.0,220.8 L1018.0,239.6 L1019.0,252.7 L1020.0,267.9 L1021.0,281.5 L1022.0,294.2 L1023.0,290.5 L1024.0,290.3 L1025.0,285.7 L1026.0,286.3 L1027.0,284.0 L1028.0,285.7 L1029.0,292.4 L1030.0,287.4 L1031.0,284.5 L1032.0,283.7 L1033.0,281.9 L1034.0,284.5 L1035.0,295.4 L1036.0,288.1 L1037.0,281.2 L1038.0,276.1 L1039.0,273.1 L1040.0,252.1 L1041.0,240.3 L1042.0,231.1 L1043.0,240.6 L1044.0,259.5 L1045.0,272.3 L1046.0,281.1 L1047.0,294.9 L1048.0,291.6 L1049.0,292.2 L1050.0,288.3 L1051.0,283.6 L1052.0,278.4 L1053.0,260.9 L1054.0,238.5 L1055.0,215.9 L1056.0,210.9 L1057.0,221.3 L1058.0,240.4 L1059.0,255.8 L1060.0,276.6 L1061.0,289.3 L1062.0,287.9 L1063.0,286.3 L1064.0,290.1 L1065.0,296.0 L1066.0,289.2 L1067.0,294.5 L1068.0,290.8 L1069.0,294.4 L1070.0,279.2 L1071.0,249.4 L1072.0,228.6 L1073.0,204.2 L1074.0,207.7 L1075.0,225.1 L1076.0,243.0 L1077.0,260.2 L1078.0,274.7 L1079.0,291.9 L1080.0,292.4 L1081.0,288.0 L1082.0,292.9 L1083.0,289.9 L1084.0,290.3 L1085.0,290.9 L1086.0,286.4 L1087.0,289.0 L1088.0,290.4 L1089.0,283.5 L1090.0,286.0 L1091.0,287.6 L1092.0,287.6 L1093.0,292.8 L1094.0,292.6 L1095.0,290.9 L1096.0,276.6 L1097.0,263.3 L1098.0,240.2 L1099.0,219.6 L1100.0,239.2 L1101.0,254.4 L1102.0,266.2 L1103.0,274.9 L1104.0,288.6 L1105.0,283.6 L1106.0,293.1 L1107.0,287.5 L1108.0,293.3 L1109.0,288.0 L1110.0,293.3 L1111.0,295.4 L1112.0,290.3 L1113.0,290.7 L1114.0,271.2 L1115.0,258.7 L1116.0,250.3 L1117.0,257.7 L1118.0,266.6 L1119.0,274.1 L1120.0,288.3 L1121.0,286.4 L1122.0,286.5 L1123.0,287.5 L1124.0,274.7 L1125.0,262.3 L1126.0,249.1 L1127.0,258.5 L1128.0,262.6 L1129.0,276.4 L1130.0,289.7 L1131.0,289.2 L1132.0,287.3 L1133.0,287.4 L1134.0,290.1 L1135.0,284.2 L1136.0,280.5 L1137.0,249.1 L1138.0,226.6 L1139.0,192.9 L1140.0,166.0 L1141.0,192.8 L1142.0,207.8 L1143.0,227.0 L1144.0,245.5 L1145.0,262.6 L1146.0,283.9 L1147.0,261.8 L1148.0,252.9 L1149.0,234.5 L1150.0,251.2 L1151.0,264.9 L1152.0,269.1 L1153.0,279.2 L1154.0,285.7 L1155.0,285.8 L1156.0,290.5 L1157.0,293.1 L1158.0,290.5 L1159.0,289.1 L1160.0,294.1 L1161.0,291.4 L1162.0,289.3 L1163.0,286.2 L1164.0,278.6 L1165.0,289.6 L1166.0,292.5 L1167.0,287.5 L1168.0,265.7 L1169.0,251.4 L1170.0,233.3 L1171.0,245.3 L1172.0,255.0 L1173.0,269.2 L1174.0,285.8 L1175.0,294.5 L1176.0,292.0 L1177.0,295.1 L1178.0,291.4 L1179.0,289.9 L1180.0,281.5 L1181.0,279.8 L1182.0,283.1 L1183.0,273.0 L1184.0,258.2 L1185.0,246.5 L1186.0,253.4 L1187.0,266.6 L1188.0,273.4 L1189.0,281.2 L1190.0,286.7 L1191.0,280.7 L1192.0,281.4 L1193.0,283.7 L1194.0,278.8 L1195.0,262.6 L1196.0,238.7 L1197.0,230.4 L1198.0,245.0 L1199.0,253.8 L1200.0,264.7 L1201.0,276.2 L1202.0,289.6 L1203.0,285.0 L1204.0,279.5 L1205.0,283.5 L1206.0,289.9 L1207.0,288.1 L1208.0,290.7 L1209.0,296.1 L1210.0,283.5 L1211.0,261.1 L1212.0,232.4 L1213.0,216.6 L1214.0,216.5 L1215.0,236.8 L1216.0,252.2 L1217.0,260.4 L1218.0,283.4 L1219.0,291.4 L1220.0,290.8 L1221.0,292.2 L1222.0,288.7 L1223.0,288.2 L1224.0,293.7 L1225.0,290.8 L1226.0,286.9 L1227.0,285.4 L1228.0,286.3 L1229.0,276.8 L1230.0,269.1 L1231.0,251.8 L1232.0,264.5 L1233.0,276.6 L1234.0,281.2 L1235.0,286.8 L1236.0,285.8 L1237.0,275.3 L1238.0,279.0 L1239.0,283.8 L1240.0,290.2 L1241.0,295.3 L1242.0,294.0 L1243.0,285.0 L1244.0,277.3 L1245.0,272.5 L1246.0,282.6 L1247.0,277.9 L1248.0,283.3 L1249.0,288.0 L1250.0,290.2 L1251.0,285.8 L1252.0,284.3 L1253.0,289.1 L1254.0,291.8 L1255.0,284.4 L1256.0,265.8 L1257.0,250.8 L1258.0,233.6 L1259.0,249.3 L1260.0,257.9 L1261.0,272.6 L1262.0,280.9 L1263.0,294.3 L1264.0,291.4 L1265.0,289.9 L1266.0,288.2 L1267.0,291.5 L1268.0,287.1 L1269.0,292.4 L1270.0,293.3 L1271.0,288.0 L1272.0,290.7 L1273.0,291.1 L1274.0,290.1 L1275.0,289.5 L1276.0,287.4 L1277.0,290.9 L1278.0,287.1 L1279.0,285.2 L1280.0,284.5 L1281.0,286.8 L1282.0,289.3 L1283.0,285.7 L1284.0,290.0 L1285.0,280.0 L1286.0,282.6 L1287.0,276.7 L1288.0,262.5 L1289.0,271.3 L1290.0,279.1 L1291.0,288.3 L1292.0,291.0 L1293.0,286.7 L1294.0,286.0 L1295.0,280.1 L1296.0,286.9 L1297.0,287.6 L1298.0,289.5 L1299.0,289.3 L1300.0,280.1 L1301.0,248.9 L1302.0,219.8 L1303.0,187.6 L1304.0,150.8 L1305.0,158.8 L1306.0,178.6 L1307.0,206.3 L1308.0,225.0 L1309.0,251.1 L1310.0,274.8 L1311.0,292.6 L1312.0,284.9 L1313.0,284.7 L1314.0,281.8 L1315.0,277.0 L1316.0,286.9 L1317.0,284.6 L1318.0,289.1 L1319.0,290.7 L1320.0,282.9 L1321.0,285.8 L1322.0,283.8 L1323.0,286.0 L1324.0,291.2 L1325.0,292.0 L1326.0,276.3 L1327.0,249.7 L1328.0,226.4 L1329.0,200.9 L1330.0,216.8 L1331.0,238.0 L1332.0,247.7 L1333.0,271.0 L1334.0,286.0 L1335.0,291.7 L1336.0,290.3 L1337.0,289.6 L1338.0,293.2 L1339.0,288.2 L1340.0,286.9 L1341.0,289.4 L1342.0,287.6 L1343.0,289.3 L1344.0,295.8 L1345.0,280.0 L1346.0,263.7 L1347.0,248.8 L1348.0,250.2 L1349.0,257.2 L1350.0,269.3 L1351.0,282.3 L1352.0,287.0 L1353.0,289.7 L1354.0,290.5 L1355.0,290.8 L1356.0,289.2 L1357.0,289.8 L1358.0,292.2 L1359.0,287.1 L1360.0,287.3 L1361.0,281.1 L1362.0,276.4 L1363.0,277.3 L1364.0,284.0 L1365.0,280.2 L1366.0,289.8 L1367.0,293.0 L1368.0,296.1 L1369.0,292.3 L1370.0,290.7 L1371.0,281.4 L1372.0,272.5 L1373.0,255.9 L1374.0,242.6 L1375.0,259.8 L1376.0,266.5 L1377.0,279.2 L1378.0,279.7 L1379.0,280.9 L1380.0,286.2 L1381.0,290.4 L1382.0,293.5 L1383.0,289.0 L1384.0,290.8 L1385.0,287.8 L1386.0,285.9 L1387.0,291.3 L1388.0,288.6 L1389.0,285.4 L1390.0,280.2 L1391.0,274.7 L1392.0,282.5 L1393.0,278.8 L1394.0,288.7 L1395.0,291.4 L1396.0,286.4 L1397.0,292.2 L1398.0,287.0 L1399.0,290.3 L1400.0,290.5 L1401.0,292.7 L1402.0,290.1 L1403.0,290.9 L1404.0,294.1 L1405.0,285.7 L1406.0,290.9 L1407.0,291.1 L1408.0,277.5 L1409.0,259.7 L1410.0,241.5 L1411.0,242.0 L1412.0,251.3 L1413.0,260.8 L1414.0,273.9 L1415.0,287.7 L1416.0,287.3 L1417.0,284.3 L1418.0,285.9 L1419.0,285.9 L1420.0,290.7 L1421.0,289.1 L1422.0,287.7 L1423.0,291.9 L1424.0,290.3 L1425.0,290.6 L1426.0,292.4 L1427.0,290.1 L1428.0,293.5 L1429.0,276.4 L1430.0,249.5 L1431.0,226.6 L1432.0,201.1 L1433.0,173.7 L1434.0,185.9 L1435.0,208.9 L1436.0,231.1 L1437.0,251.2 L1438.0,263.9 L1439.0,284.3 L1440.0,275.5 L1441.0,284.8 L1442.0,286.5 L1443.0,293.2 L1444.0,290.5 L1445.0,295.3 L1446.0,294.1 L1447.0,292.7 L1448.0,284.3 L1449.0,268.4 L1450.0,253.2 L1451.0,270.1 L1452.0,270.0 L1453.0,254.5 L1454.0,227.9 L1455.0,201.4 L1456.0,170.7 L1457.0,192.6 L1458.0,208.2 L1459.0,199.8 L1460.0,175.1 L1461.0,187.7 L1462.0,209.6 L1463.0,227.2 L1464.0,251.0 L1465.0,265.8 L1466.0,285.2 L1467.0,287.1 L1468.0,291.4 L1469.0,283.3 L1470.0,287.9 L1471.0,292.5 L1472.0,285.9 L1473.0,292.7 L1474.0,288.3 L1475.0,292.9 L1476.0,291.6 L1477.0,285.1 L1478.0,282.2 L1479.0,283.3 L1480.0,286.1 L1481.0,291.2 L1482.0,285.6 L1483.0,283.6 L1484.0,289.9 L1485.0,288.9" fill="none" stroke="#c4001a" stroke-width="2.0" stroke-linejoin="round"/>
<line x1="195.4" y1="114.0" x2="195.4" y2="297.0" stroke="#df7d89" stroke-width="1.8"/>
<line x1="242.3" y1="114.0" x2="242.3" y2="297.0" stroke="#df7d89" stroke-width="1.8"/>
<line x1="279.0" y1="114.0" x2="279.0" y2="297.0" stroke="#df7d89" stroke-width="1.8"/>
<line x1="338.2" y1="114.0" x2="338.2" y2="297.0" stroke="#df7d89" stroke-width="1.8"/>
<line x1="415.0" y1="114.0" x2="415.0" y2="297.0" stroke="#df7d89" stroke-width="1.8"/>
<line x1="478.6" y1="114.0" x2="478.6" y2="297.0" stroke="#df7d89" stroke-width="1.8"/>
<line x1="528.2" y1="114.0" x2="528.2" y2="297.0" stroke="#df7d89" stroke-width="1.8"/>
<line x1="691.7" y1="114.0" x2="691.7" y2="297.0" stroke="#df7d89" stroke-width="1.8"/>
<line x1="746.3" y1="114.0" x2="746.3" y2="297.0" stroke="#df7d89" stroke-width="1.8"/>
<line x1="762.7" y1="114.0" x2="762.7" y2="297.0" stroke="#df7d89" stroke-width="1.8"/>
<line x1="820.3" y1="114.0" x2="820.3" y2="297.0" stroke="#df7d89" stroke-width="1.8"/>
<line x1="949.5" y1="114.0" x2="949.5" y2="297.0" stroke="#df7d89" stroke-width="1.8"/>
<line x1="984.0" y1="114.0" x2="984.0" y2="297.0" stroke="#df7d89" stroke-width="1.8"/>
<line x1="1015.7" y1="114.0" x2="1015.7" y2="297.0" stroke="#df7d89" stroke-width="1.8"/>
<line x1="1073.3" y1="114.0" x2="1073.3" y2="297.0" stroke="#df7d89" stroke-width="1.8"/>
<line x1="1140.0" y1="114.0" x2="1140.0" y2="297.0" stroke="#df7d89" stroke-width="1.8"/>
<line x1="1304.3" y1="114.0" x2="1304.3" y2="297.0" stroke="#df7d89" stroke-width="1.8"/>
<line x1="1433.8" y1="114.0" x2="1433.8" y2="297.0" stroke="#df7d89" stroke-width="1.8"/>
<line x1="1459.0" y1="114.0" x2="1459.0" y2="297.0" stroke="#df7d89" stroke-width="1.8"/>
<line x1="111.0" y1="297.0" x2="1486.0" y2="297.0" stroke="#808080" stroke-width="2"/>
<line x1="111.0" y1="113.5" x2="111.0" y2="297.5" stroke="#222" stroke-width="1.6"/>
<line x1="111.0" y1="114.0" x2="125.0" y2="114.0" stroke="#222" stroke-width="1.6"/>
<line x1="111.0" y1="205.5" x2="125.0" y2="205.5" stroke="#222" stroke-width="1.6"/>
<line x1="298.5" y1="297.0" x2="298.5" y2="290.0" stroke="#222" stroke-width="1.5"/>
<line x1="486.0" y1="297.0" x2="486.0" y2="290.0" stroke="#222" stroke-width="1.5"/>
<line x1="673.5" y1="297.0" x2="673.5" y2="290.0" stroke="#222" stroke-width="1.5"/>
<line x1="861.0" y1="297.0" x2="861.0" y2="290.0" stroke="#222" stroke-width="1.5"/>
<line x1="1048.5" y1="297.0" x2="1048.5" y2="290.0" stroke="#222" stroke-width="1.5"/>
<line x1="1236.0" y1="297.0" x2="1236.0" y2="290.0" stroke="#222" stroke-width="1.5"/>
<line x1="1423.5" y1="297.0" x2="1423.5" y2="290.0" stroke="#222" stroke-width="1.5"/>
</g>
<rect x="125" y="24" width="15" height="26" fill="#1f4f8f"/>
<rect x="550.5" y="24" width="15" height="26" fill="#c4001a"/>
<rect x="976" y="24" width="15" height="26" fill="#df7d89"/>
<text class="t" x="156.1" y="43.7" font-size="31" text-anchor="start" font-weight="normal" fill="#111" textLength="345" lengthAdjust="spacingAndGlyphs">run 1 boundary detection</text>
<text class="t" x="580.4" y="43.7" font-size="31" text-anchor="start" font-weight="normal" fill="#111" textLength="346" lengthAdjust="spacingAndGlyphs">run 2 boundary detection</text>
<text class="t" x="1007.2" y="43.7" font-size="31" text-anchor="start" font-weight="normal" fill="#111" textLength="160.5" lengthAdjust="spacingAndGlyphs">run 2 peaks</text>
<text x="1.0" y="23.5" font-size="43" text-anchor="start" font-weight="bold" fill="#000">a</text>
<text class="t" x="0.0" y="0.0" transform="translate(20.0,199.0) rotate(-90)" font-size="31" text-anchor="middle" font-weight="normal" fill="#111" textLength="146.5" lengthAdjust="spacingAndGlyphs">agreement</text>
<text class="t" transform="translate(62.5,113.5) rotate(-45)" x="0" y="11.5" font-size="32" text-anchor="middle" fill="#111">0.4</text>
<text class="t" transform="translate(62.5,205.0) rotate(-45)" x="0" y="11.5" font-size="32" text-anchor="middle" fill="#111">0.2</text>
<text class="t" transform="translate(62.5,296.5) rotate(-45)" x="0" y="11.5" font-size="32" text-anchor="middle" fill="#111">0</text>
<text class="t" transform="translate(112.0,334.5) rotate(-45)" x="0" y="11.5" font-size="32" text-anchor="middle" fill="#111">0:00</text>
<text class="t" transform="translate(205.8,334.5) rotate(-45)" x="0" y="11.5" font-size="32" text-anchor="middle" fill="#111">0:30</text>
<text class="t" transform="translate(299.5,334.5) rotate(-45)" x="0" y="11.5" font-size="32" text-anchor="middle" fill="#111">1:00</text>
<text class="t" transform="translate(393.2,334.5) rotate(-45)" x="0" y="11.5" font-size="32" text-anchor="middle" fill="#111">1:30</text>
<text class="t" transform="translate(487.0,334.5) rotate(-45)" x="0" y="11.5" font-size="32" text-anchor="middle" fill="#111">2:00</text>
<text class="t" transform="translate(580.8,334.5) rotate(-45)" x="0" y="11.5" font-size="32" text-anchor="middle" fill="#111">2:30</text>
<text class="t" transform="translate(674.5,334.5) rotate(-45)" x="0" y="11.5" font-size="32" text-anchor="middle" fill="#111">3:00</text>
<text class="t" transform="translate(768.2,334.5) rotate(-45)" x="0" y="11.5" font-size="32" text-anchor="middle" fill="#111">3:30</text>
<text class="t" transform="translate(862.0,334.5) rotate(-45)" x="0" y="11.5" font-size="32" text-anchor="middle" fill="#111">4:00</text>
<text class="t" transform="translate(955.8,334.5) rotate(-45)" x="0" y="11.5" font-size="32" text-anchor="middle" fill="#111">4:30</text>
<text class="t" transform="translate(1049.5,334.5) rotate(-45)" x="0" y="11.5" font-size="32" text-anchor="middle" fill="#111">5:00</text>
<text class="t" transform="translate(1143.2,334.5) rotate(-45)" x="0" y="11.5" font-size="32" text-anchor="middle" fill="#111">5:30</text>
<text class="t" transform="translate(1237.0,334.5) rotate(-45)" x="0" y="11.5" font-size="32" text-anchor="middle" fill="#111">6:00</text>
<text class="t" transform="translate(1330.8,334.5) rotate(-45)" x="0" y="11.5" font-size="32" text-anchor="middle" fill="#111">6:30</text>
<text class="t" transform="translate(1424.5,334.5) rotate(-45)" x="0" y="11.5" font-size="32" text-anchor="middle" fill="#111">7:00</text>
<text class="t" x="648.0" y="406.4" font-size="31" text-anchor="start" font-weight="normal" fill="#111" textLength="304" lengthAdjust="spacingAndGlyphs">time in story (minutes)</text>
<g id="panel-b">
<g fill="none" stroke="#7d55a8" stroke-width="0.9"><circle cx="167.5" cy="534.4" r="2.9"/><circle cx="131.8" cy="559.1" r="2.9"/><circle cx="156.2" cy="561.9" r="2.9"/><circle cx="196.3" cy="557.5" r="2.9"/><circle cx="198.2" cy="566.0" r="2.9"/><circle cx="232.3" cy="543.6" r="2.9"/><circle cx="241.2" cy="562.6" r="2.9"/><circle cx="268.4" cy="554.7" r="2.9"/><circle cx="355.3" cy="524.0" r="2.9"/><circle cx="357.8" cy="524.6" r="2.9"/><circle cx="355.3" cy="532.2" r="2.9"/><circle cx="357.2" cy="538.5" r="2.9"/><circle cx="312.9" cy="535.1" r="2.9"/><circle cx="324.3" cy="540.1" r="2.9"/><circle cx="333.5" cy="538.5" r="2.9"/><circle cx="337.9" cy="545.5" r="2.9"/><circle cx="303.5" cy="543.9" r="2.9"/><circle cx="310.7" cy="548.3" r="2.9"/><circle cx="314.5" cy="553.4" r="2.9"/><circle cx="317.4" cy="558.4" r="2.9"/><circle cx="327.5" cy="549.6" r="2.9"/><circle cx="327.8" cy="553.4" r="2.9"/><circle cx="346.1" cy="555.3" r="2.9"/><circle cx="301.2" cy="562.6" r="2.9"/><circle cx="294.0" cy="567.9" r="2.9"/><circle cx="295.5" cy="572.7" r="2.9"/><circle cx="328.1" cy="567.6" r="2.9"/><circle cx="347.7" cy="567.0" r="2.9"/><circle cx="350.6" cy="566.4" r="2.9"/><circle cx="362.2" cy="558.4" r="2.9"/><circle cx="365.7" cy="555.0" r="2.9"/><circle cx="369.8" cy="552.1" r="2.9"/><circle cx="362.9" cy="579.3" r="2.9"/><circle cx="343.9" cy="579.0" r="2.9"/><circle cx="340.8" cy="580.6" r="2.9"/><circle cx="338.9" cy="583.1" r="2.9"/><circle cx="268.4" cy="572.0" r="2.9"/><circle cx="278.8" cy="572.7" r="2.9"/><circle cx="276.9" cy="574.9" r="2.9"/><circle cx="274.4" cy="579.3" r="2.9"/><circle cx="249.1" cy="581.2" r="2.9"/><circle cx="310.7" cy="574.9" r="2.9"/><circle cx="306.0" cy="583.7" r="2.9"/><circle cx="308.2" cy="587.5" r="2.9"/><circle cx="310.7" cy="591.6" r="2.9"/><circle cx="315.5" cy="591.0" r="2.9"/><circle cx="320.8" cy="588.5" r="2.9"/><circle cx="328.7" cy="587.8" r="2.9"/><circle cx="326.2" cy="603.3" r="2.9"/><circle cx="178.3" cy="593.2" r="2.9"/><circle cx="159.9" cy="604.9" r="2.9"/><circle cx="158.7" cy="619.5" r="2.9"/><circle cx="190.0" cy="604.0" r="2.9"/><circle cx="199.5" cy="610.0" r="2.9"/><circle cx="212.4" cy="596.7" r="2.9"/><circle cx="222.8" cy="594.2" r="2.9"/><circle cx="226.6" cy="588.5" r="2.9"/><circle cx="230.7" cy="602.7" r="2.9"/><circle cx="234.5" cy="598.9" r="2.9"/><circle cx="239.3" cy="594.5" r="2.9"/><circle cx="238.3" cy="599.5" r="2.9"/><circle cx="248.5" cy="601.4" r="2.9"/><circle cx="260.1" cy="597.3" r="2.9"/><circle cx="249.7" cy="612.8" r="2.9"/><circle cx="263.9" cy="612.5" r="2.9"/><circle cx="269.3" cy="610.0" r="2.9"/><circle cx="271.8" cy="618.2" r="2.9"/><circle cx="277.5" cy="588.2" r="2.9"/><circle cx="282.3" cy="595.4" r="2.9"/><circle cx="279.7" cy="600.2" r="2.9"/><circle cx="287.3" cy="598.0" r="2.9"/><circle cx="286.1" cy="609.0" r="2.9"/><circle cx="286.4" cy="614.1" r="2.9"/><circle cx="293.7" cy="604.3" r="2.9"/><circle cx="304.7" cy="608.4" r="2.9"/><circle cx="216.5" cy="620.1" r="2.9"/><circle cx="196.0" cy="623.2" r="2.9"/><circle cx="202.9" cy="628.3" r="2.9"/><circle cx="207.7" cy="631.8" r="2.9"/><circle cx="202.3" cy="635.6" r="2.9"/><circle cx="201.4" cy="639.7" r="2.9"/><circle cx="182.7" cy="627.7" r="2.9"/><circle cx="235.5" cy="620.4" r="2.9"/><circle cx="231.7" cy="627.7" r="2.9"/><circle cx="236.8" cy="628.6" r="2.9"/><circle cx="233.0" cy="626.1" r="2.9"/><circle cx="239.0" cy="634.9" r="2.9"/><circle cx="233.9" cy="638.1" r="2.9"/><circle cx="235.5" cy="642.8" r="2.9"/><circle cx="246.6" cy="634.9" r="2.9"/><circle cx="255.4" cy="630.5" r="2.9"/><circle cx="258.6" cy="621.7" r="2.9"/><circle cx="262.7" cy="634.0" r="2.9"/><circle cx="275.3" cy="625.5" r="2.9"/><circle cx="287.0" cy="626.4" r="2.9"/><circle cx="302.2" cy="630.5" r="2.9"/><circle cx="304.1" cy="635.9" r="2.9"/><circle cx="308.2" cy="621.7" r="2.9"/><circle cx="312.9" cy="620.7" r="2.9"/><circle cx="312.0" cy="614.4" r="2.9"/><circle cx="313.9" cy="636.2" r="2.9"/><circle cx="317.4" cy="635.9" r="2.9"/><circle cx="345.2" cy="635.3" r="2.9"/><circle cx="137.5" cy="642.8" r="2.9"/><circle cx="148.6" cy="638.1" r="2.9"/><circle cx="163.4" cy="646.3" r="2.9"/><circle cx="188.4" cy="642.2" r="2.9"/><circle cx="196.3" cy="647.6" r="2.9"/><circle cx="212.7" cy="646.6" r="2.9"/><circle cx="224.1" cy="648.2" r="2.9"/><circle cx="229.2" cy="654.2" r="2.9"/><circle cx="222.2" cy="653.9" r="2.9"/><circle cx="206.1" cy="657.1" r="2.9"/><circle cx="197.2" cy="657.1" r="2.9"/><circle cx="167.8" cy="657.1" r="2.9"/><circle cx="175.4" cy="660.2" r="2.9"/><circle cx="179.5" cy="659.6" r="2.9"/><circle cx="187.4" cy="662.4" r="2.9"/><circle cx="184.3" cy="663.4" r="2.9"/><circle cx="181.1" cy="668.8" r="2.9"/><circle cx="175.1" cy="671.3" r="2.9"/><circle cx="170.7" cy="671.9" r="2.9"/><circle cx="167.5" cy="676.0" r="2.9"/><circle cx="165.0" cy="676.7" r="2.9"/><circle cx="163.7" cy="678.6" r="2.9"/><circle cx="169.1" cy="680.8" r="2.9"/><circle cx="184.6" cy="677.0" r="2.9"/><circle cx="189.7" cy="678.6" r="2.9"/><circle cx="191.2" cy="677.6" r="2.9"/><circle cx="192.8" cy="673.8" r="2.9"/><circle cx="195.3" cy="671.3" r="2.9"/><circle cx="199.5" cy="669.7" r="2.9"/><circle cx="198.5" cy="666.6" r="2.9"/><circle cx="206.1" cy="667.2" r="2.9"/><circle cx="209.6" cy="667.2" r="2.9"/><circle cx="213.7" cy="666.6" r="2.9"/><circle cx="216.2" cy="657.1" r="2.9"/><circle cx="227.9" cy="662.8" r="2.9"/><circle cx="223.2" cy="669.4" r="2.9"/><circle cx="251.9" cy="655.5" r="2.9"/><circle cx="242.8" cy="660.2" r="2.9"/><circle cx="241.8" cy="665.9" r="2.9"/><circle cx="251.3" cy="671.9" r="2.9"/><circle cx="258.6" cy="646.3" r="2.9"/><circle cx="254.8" cy="642.8" r="2.9"/><circle cx="259.2" cy="669.1" r="2.9"/><circle cx="261.1" cy="669.1" r="2.9"/><circle cx="264.3" cy="660.2" r="2.9"/><circle cx="264.9" cy="658.7" r="2.9"/><circle cx="287.6" cy="645.1" r="2.9"/><circle cx="289.5" cy="659.3" r="2.9"/><circle cx="318.6" cy="654.5" r="2.9"/><circle cx="321.2" cy="660.2" r="2.9"/><circle cx="326.2" cy="646.3" r="2.9"/><circle cx="337.3" cy="658.0" r="2.9"/><circle cx="342.0" cy="665.3" r="2.9"/><circle cx="344.2" cy="671.3" r="2.9"/><circle cx="143.2" cy="653.9" r="2.9"/><circle cx="157.4" cy="685.5" r="2.9"/><circle cx="167.2" cy="689.3" r="2.9"/><circle cx="190.0" cy="688.7" r="2.9"/><circle cx="196.6" cy="684.3" r="2.9"/><circle cx="202.6" cy="687.4" r="2.9"/><circle cx="205.1" cy="684.9" r="2.9"/><circle cx="206.4" cy="696.9" r="2.9"/><circle cx="223.8" cy="682.0" r="2.9"/><circle cx="245.9" cy="683.3" r="2.9"/><circle cx="267.7" cy="688.7" r="2.9"/><circle cx="288.6" cy="692.5" r="2.9"/><circle cx="293.3" cy="693.4" r="2.9"/><circle cx="120.1" cy="700.7" r="2.9"/><circle cx="139.1" cy="706.7" r="2.9"/><circle cx="144.1" cy="700.1" r="2.9"/><circle cx="148.6" cy="697.5" r="2.9"/><circle cx="159.6" cy="699.4" r="2.9"/><circle cx="159.9" cy="703.9" r="2.9"/><circle cx="173.2" cy="696.9" r="2.9"/><circle cx="173.2" cy="705.4" r="2.9"/><circle cx="174.5" cy="706.1" r="2.9"/><circle cx="178.0" cy="710.8" r="2.9"/><circle cx="148.2" cy="717.1" r="2.9"/><circle cx="159.3" cy="714.0" r="2.9"/><circle cx="162.5" cy="721.9" r="2.9"/><circle cx="165.6" cy="719.3" r="2.9"/><circle cx="163.4" cy="726.6" r="2.9"/><circle cx="174.8" cy="717.8" r="2.9"/><circle cx="194.1" cy="719.0" r="2.9"/><circle cx="198.5" cy="711.8" r="2.9"/><circle cx="213.0" cy="705.1" r="2.9"/><circle cx="214.3" cy="706.7" r="2.9"/><circle cx="123.6" cy="723.1" r="2.9"/><circle cx="124.9" cy="732.6" r="2.9"/><circle cx="194.1" cy="749.7" r="2.9"/></g>
<line x1="101.2" y1="754.4" x2="384.0" y2="531.3" stroke="#2a9fb0" stroke-width="2"/>
<path d="M235,632.8 H248.7 M241.6,626.2 V639.6" stroke="#d0102e" stroke-width="1.6" fill="none"/>
<line x1="101.2" y1="505.0" x2="101.2" y2="755.0" stroke="#222" stroke-width="1.6"/>
<line x1="100.5" y1="754.4" x2="416.6" y2="754.4" stroke="#222" stroke-width="1.6"/>
<line x1="101.2" y1="523.7" x2="113.0" y2="523.7" stroke="#222" stroke-width="1.6"/>
<line x1="101.2" y1="601.4" x2="113.0" y2="601.4" stroke="#222" stroke-width="1.6"/>
<line x1="101.2" y1="678.3" x2="113.0" y2="678.3" stroke="#222" stroke-width="1.6"/>
<line x1="197.9" y1="754.4" x2="197.9" y2="742.4" stroke="#222" stroke-width="1.6"/>
<line x1="295.5" y1="754.4" x2="295.5" y2="742.4" stroke="#222" stroke-width="1.6"/>
<line x1="392.9" y1="754.4" x2="392.9" y2="742.4" stroke="#222" stroke-width="1.6"/>
</g>
<text x="-1.5" y="463.3" font-size="43" text-anchor="start" font-weight="bold" fill="#000">b</text>
<text class="t" x="0.0" y="0.0" transform="translate(23.3,616.3) rotate(-90)" font-size="31" text-anchor="middle" font-weight="normal" fill="#111" textLength="251.5" lengthAdjust="spacingAndGlyphs">cosine sim. (run 2)</text>
<text class="t" transform="translate(62.8,524.7) rotate(-45)" x="0" y="11.5" font-size="32" text-anchor="middle" fill="#111">0.6</text>
<text class="t" transform="translate(62.8,599.5) rotate(-45)" x="0" y="11.5" font-size="32" text-anchor="middle" fill="#111">0.4</text>
<text class="t" transform="translate(62.8,675.7) rotate(-45)" x="0" y="11.5" font-size="32" text-anchor="middle" fill="#111">0.2</text>
<text class="t" transform="translate(62.8,753.0) rotate(-45)" x="0" y="11.5" font-size="32" text-anchor="middle" fill="#111">0</text>
<text class="t" transform="translate(100.9,788.6) rotate(-45)" x="0" y="11.5" font-size="32" text-anchor="middle" fill="#111">0</text>
<text class="t" transform="translate(200.5,788.6) rotate(-45)" x="0" y="11.5" font-size="32" text-anchor="middle" fill="#111">0.2</text>
<text class="t" transform="translate(296.8,788.6) rotate(-45)" x="0" y="11.5" font-size="32" text-anchor="middle" fill="#111">0.4</text>
<text class="t" transform="translate(394.3,788.6) rotate(-45)" x="0" y="11.5" font-size="32" text-anchor="middle" fill="#111">0.6</text>
<text class="t" x="147.4" y="853.7" font-size="31" text-anchor="start" font-weight="normal" fill="#111" textLength="251.5" lengthAdjust="spacingAndGlyphs">cosine sim. (run 1)</text>
<g id="panel-c">
<path d="M606.0,721.7 L607.0,718.2 L608.0,720.1 L609.0,719.8 L610.0,717.9 L611.0,715.3 L612.0,706.3 L613.0,697.1 L614.0,687.9 L615.0,681.6 L616.0,673.9 L617.0,661.9 L618.0,663.0 L619.0,665.6 L620.0,671.4 L621.0,679.3 L622.0,684.4 L623.0,689.7 L624.0,694.6 L625.0,700.4 L626.0,706.0 L627.0,711.3 L628.0,715.4 L629.0,720.1 L630.0,717.8 L631.0,713.9 L632.0,716.9 L633.0,714.5 L634.0,713.4 L635.0,717.6 L636.0,719.6 L637.0,724.2 L638.0,714.3 L639.0,703.9 L640.0,696.6 L641.0,684.2 L642.0,674.4 L643.0,667.2 L644.0,654.9 L645.0,645.9 L646.0,643.3 L647.0,651.3 L648.0,656.2 L649.0,662.5 L650.0,672.3 L651.0,678.6 L652.0,682.3 L653.0,687.5 L654.0,697.2 L655.0,702.8 L656.0,708.7 L657.0,716.4 L658.0,722.6 L659.0,721.9 L660.0,720.7 L661.0,718.8 L662.0,719.5 L663.0,717.1 L664.0,709.7 L665.0,707.5 L666.0,699.5 L667.0,693.2 L668.0,689.6 L669.0,693.7 L670.0,694.8 L671.0,691.5 L672.0,685.4 L673.0,684.3 L674.0,687.3 L675.0,694.2 L676.0,697.4 L677.0,701.5 L678.0,703.4 L679.0,709.4 L680.0,711.7 L681.0,719.0 L682.0,721.5 L683.0,718.7 L684.0,716.2 L685.0,716.7 L686.0,716.3 L687.0,717.7 L688.0,717.3 L689.0,720.3 L690.0,718.9 L691.0,719.7 L692.0,721.1 L693.0,719.1 L694.0,715.2 L695.0,714.4 L696.0,714.3 L697.0,717.9 L698.0,715.5 L699.0,708.7 L700.0,700.3 L701.0,696.6 L702.0,690.1 L703.0,683.7 L704.0,687.8 L705.0,691.9 L706.0,693.6 L707.0,701.1 L708.0,705.9 L709.0,701.4 L710.0,696.6 L711.0,691.1 L712.0,696.9 L713.0,698.0 L714.0,701.5 L715.0,708.1 L716.0,709.1 L717.0,712.1 L718.0,716.2 L719.0,717.2 L720.0,717.0 L721.0,716.1 L722.0,717.9 L723.0,719.8 L724.0,718.7 L725.0,720.1 L726.0,715.3 L727.0,720.4 L728.0,718.1 L729.0,720.6 L730.0,721.1 L731.0,722.8 L732.0,721.6 L733.0,720.9 L734.0,721.3 L735.0,715.9 L736.0,716.4 L737.0,713.7 L738.0,713.4 L739.0,716.2 L740.0,718.8 L741.0,718.6 L742.0,722.2 L743.0,722.0 L744.0,718.1 L745.0,711.0 L746.0,708.4 L747.0,702.7 L748.0,701.0 L749.0,704.6 L750.0,706.0 L751.0,707.6 L752.0,713.4 L753.0,713.5 L754.0,715.8 L755.0,717.8 L756.0,718.5 L757.0,722.9 L758.0,711.8 L759.0,702.5 L760.0,697.9 L761.0,688.6 L762.0,680.3 L763.0,670.9 L764.0,663.1 L765.0,662.8 L766.0,667.0 L767.0,676.0 L768.0,681.3 L769.0,686.5 L770.0,692.0 L771.0,697.8 L772.0,699.2 L773.0,705.3 L774.0,714.2 L775.0,717.9 L776.0,724.2 L777.0,725.6 L778.0,724.6 L779.0,721.1 L780.0,719.2 L781.0,718.1 L782.0,716.7 L783.0,713.9 L784.0,714.3 L785.0,714.6 L786.0,716.0 L787.0,719.7 L788.0,719.4 L789.0,707.4 L790.0,695.0 L791.0,682.4 L792.0,670.0 L793.0,660.3 L794.0,646.8 L795.0,636.1 L796.0,625.4 L797.0,616.1 L798.0,623.2 L799.0,630.0 L800.0,638.9 L801.0,645.4 L802.0,636.2 L803.0,637.2 L804.0,642.8 L805.0,649.0 L806.0,658.8 L807.0,664.1 L808.0,670.8 L809.0,674.2 L810.0,679.5 L811.0,687.6 L812.0,690.7 L813.0,696.7 L814.0,704.6 L815.0,709.2 L816.0,716.3 L817.0,718.7 L818.0,721.9 L819.0,718.3 L820.0,716.2 L821.0,714.2 L822.0,715.6 L823.0,718.1 L824.0,719.1 L825.0,715.2 L826.0,716.1 L827.0,714.8 L828.0,713.6 L829.0,718.7 L830.0,720.2 L831.0,721.9 L832.0,720.1 L833.0,725.0 L834.0,727.0 L835.0,723.3 L836.0,726.6 L837.0,723.3 L838.0,722.9 L839.0,720.8 L840.0,718.9 L841.0,719.2 L842.0,716.8 L843.0,718.8 L844.0,714.1 L845.0,713.9 L846.0,713.0 L847.0,717.1 L848.0,715.6 L849.0,716.2 L850.0,721.5 L851.0,721.7 L852.0,722.0 L853.0,722.2 L854.0,725.9 L855.0,725.9 L856.0,725.3 L857.0,723.4 L858.0,722.5 L859.0,723.8 L860.0,723.7 L861.0,723.2 L862.0,723.5 L863.0,723.5 L864.0,725.3 L865.0,723.7 L866.0,721.8 L867.0,724.6 L868.0,723.4 L869.0,726.3 L870.0,724.0 L871.0,723.7 L872.0,724.1 L873.0,724.8 L874.0,724.9 L875.0,722.4 L876.0,719.4 L877.0,720.9 L878.0,719.3 L879.0,714.5 L880.0,711.9 L881.0,713.2 L882.0,715.4 L883.0,716.1 L884.0,720.3 L885.0,721.8 L886.0,724.0 L887.0,724.1 L888.0,725.7 L889.0,718.6 L890.0,706.5 L891.0,695.3 L892.0,688.2 L893.0,676.4 L894.0,667.7 L895.0,655.7 L896.0,646.9 L897.0,638.3 L898.0,645.2 L899.0,652.8 L900.0,657.4 L901.0,664.5 L902.0,672.1 L903.0,677.9 L904.0,684.8 L905.0,689.4 L906.0,698.9 L907.0,701.8 L908.0,710.8 L909.0,716.9 L910.0,722.7 L911.0,712.5 L912.0,701.6 L913.0,691.9 L914.0,681.4 L915.0,669.4 L916.0,657.9 L917.0,649.1 L918.0,636.7 L919.0,624.7 L920.0,630.6 L921.0,638.9 L922.0,646.2 L923.0,651.3 L924.0,658.7 L925.0,664.7 L926.0,672.4 L927.0,682.5 L928.0,690.0 L929.0,685.6 L930.0,679.3 L931.0,681.4 L932.0,685.1 L933.0,689.4 L934.0,696.7 L935.0,698.3 L936.0,705.2 L937.0,709.2 L938.0,712.2 L939.0,719.5 L940.0,717.3 L941.0,710.0 L942.0,708.5 L943.0,704.3 L944.0,705.9 L945.0,708.1 L946.0,713.7 L947.0,714.9 L948.0,717.0 L949.0,719.4 L950.0,723.3 L951.0,723.3 L952.0,721.5 L953.0,722.7 L954.0,720.7 L955.0,721.3 L956.0,719.3 L957.0,716.2 L958.0,717.3 L959.0,712.9 L960.0,714.1 L961.0,717.4 L962.0,710.7 L963.0,715.2 L964.0,715.3 L965.0,717.2 L966.0,720.8 L967.0,717.2 L968.0,716.3 L969.0,717.5 L970.0,721.9 L971.0,721.6 L972.0,722.5 L973.0,724.1 L974.0,724.7 L975.0,726.6 L976.0,724.9 L977.0,725.1 L978.0,722.9 L979.0,721.4 L980.0,720.1 L981.0,723.0 L982.0,721.0 L983.0,720.5 L984.0,722.0 L985.0,719.1 L986.0,720.7 L987.0,723.7 L988.0,719.8 L989.0,719.2 L990.0,714.2 L991.0,708.3 L992.0,704.7 L993.0,702.1 L994.0,704.5 L995.0,708.1 L996.0,711.5 L997.0,714.9 L998.0,718.1 L999.0,718.0 L1000.0,720.6 L1001.0,724.3 L1002.0,723.8 L1003.0,725.5" fill="none" stroke="#1f4f8f" stroke-width="1.5" stroke-linejoin="round"/>
<path d="M606.0,727.7 L607.0,728.9 L608.0,724.8 L609.0,720.6 L610.0,714.4 L611.0,706.6 L612.0,701.4 L613.0,693.7 L614.0,684.4 L615.0,680.7 L616.0,683.5 L617.0,688.2 L618.0,692.4 L619.0,694.5 L620.0,701.2 L621.0,706.3 L622.0,712.0 L623.0,712.8 L624.0,720.2 L625.0,726.0 L626.0,731.4 L627.0,732.3 L628.0,731.8 L629.0,729.5 L630.0,731.9 L631.0,731.9 L632.0,728.4 L633.0,728.1 L634.0,723.2 L635.0,725.7 L636.0,722.4 L637.0,719.4 L638.0,710.7 L639.0,697.7 L640.0,689.7 L641.0,680.4 L642.0,669.3 L643.0,660.7 L644.0,648.6 L645.0,639.1 L646.0,634.8 L647.0,642.5 L648.0,651.6 L649.0,661.2 L650.0,667.7 L651.0,675.3 L652.0,682.9 L653.0,690.3 L654.0,695.0 L655.0,705.8 L656.0,713.7 L657.0,717.3 L658.0,725.3 L659.0,715.1 L660.0,709.5 L661.0,699.0 L662.0,691.8 L663.0,682.9 L664.0,674.9 L665.0,667.7 L666.0,661.2 L667.0,666.7 L668.0,669.8 L669.0,675.7 L670.0,681.6 L671.0,690.2 L672.0,694.8 L673.0,700.2 L674.0,706.9 L675.0,712.2 L676.0,719.5 L677.0,720.0 L678.0,718.4 L679.0,721.4 L680.0,719.9 L681.0,721.2 L682.0,726.7 L683.0,724.1 L684.0,725.7 L685.0,728.5 L686.0,732.3 L687.0,728.5 L688.0,732.0 L689.0,728.2 L690.0,729.5 L691.0,731.8 L692.0,730.8 L693.0,726.3 L694.0,716.9 L695.0,706.5 L696.0,696.0 L697.0,689.5 L698.0,680.8 L699.0,667.0 L700.0,661.4 L701.0,647.8 L702.0,644.9 L703.0,648.8 L704.0,656.0 L705.0,662.6 L706.0,671.1 L707.0,676.7 L708.0,681.1 L709.0,683.6 L710.0,689.9 L711.0,692.0 L712.0,697.2 L713.0,703.3 L714.0,707.7 L715.0,714.7 L716.0,719.4 L717.0,721.5 L718.0,726.7 L719.0,728.6 L720.0,729.8 L721.0,731.9 L722.0,730.9 L723.0,729.0 L724.0,729.9 L725.0,732.0 L726.0,728.1 L727.0,728.0 L728.0,731.2 L729.0,728.9 L730.0,729.8 L731.0,728.1 L732.0,730.5 L733.0,731.0 L734.0,730.0 L735.0,728.0 L736.0,732.1 L737.0,732.0 L738.0,729.7 L739.0,728.5 L740.0,730.2 L741.0,729.4 L742.0,726.1 L743.0,725.1 L744.0,726.9 L745.0,721.8 L746.0,726.1 L747.0,727.0 L748.0,725.9 L749.0,729.2 L750.0,728.9 L751.0,726.4 L752.0,712.8 L753.0,705.4 L754.0,695.0 L755.0,683.0 L756.0,673.2 L757.0,661.8 L758.0,649.7 L759.0,640.0 L760.0,632.7 L761.0,639.0 L762.0,645.6 L763.0,653.5 L764.0,660.1 L765.0,668.7 L766.0,668.1 L767.0,672.9 L768.0,675.8 L769.0,683.6 L770.0,687.4 L771.0,692.0 L772.0,699.2 L773.0,704.6 L774.0,710.5 L775.0,717.4 L776.0,720.3 L777.0,723.2 L778.0,722.5 L779.0,726.6 L780.0,725.4 L781.0,727.2 L782.0,729.3 L783.0,730.5 L784.0,731.9 L785.0,720.6 L786.0,707.4 L787.0,690.9 L788.0,678.2 L789.0,663.3 L790.0,648.0 L791.0,629.9 L792.0,617.6 L793.0,599.3 L794.0,586.6 L795.0,570.6 L796.0,582.6 L797.0,592.3 L798.0,605.7 L799.0,615.3 L800.0,623.8 L801.0,638.2 L802.0,647.0 L803.0,659.5 L804.0,670.6 L805.0,682.8 L806.0,693.8 L807.0,700.6 L808.0,710.2 L809.0,714.1 L810.0,716.0 L811.0,712.3 L812.0,712.9 L813.0,713.1 L814.0,715.7 L815.0,717.6 L816.0,718.1 L817.0,721.1 L818.0,722.4 L819.0,728.4 L820.0,728.2 L821.0,729.5 L822.0,729.2 L823.0,729.8 L824.0,728.3 L825.0,729.5 L826.0,725.5 L827.0,726.6 L828.0,724.6 L829.0,723.3 L830.0,725.4 L831.0,728.3 L832.0,729.9 L833.0,730.6 L834.0,729.7 L835.0,728.0 L836.0,728.3 L837.0,728.0 L838.0,725.5 L839.0,721.1 L840.0,721.0 L841.0,721.5 L842.0,725.8 L843.0,727.5 L844.0,726.0 L845.0,722.9 L846.0,720.9 L847.0,719.7 L848.0,714.7 L849.0,717.9 L850.0,721.7 L851.0,723.8 L852.0,721.4 L853.0,723.1 L854.0,725.1 L855.0,728.2 L856.0,731.1 L857.0,732.1 L858.0,731.3 L859.0,730.4 L860.0,726.0 L861.0,725.1 L862.0,724.5 L863.0,726.2 L864.0,725.5 L865.0,726.4 L866.0,724.6 L867.0,729.3 L868.0,727.6 L869.0,729.2 L870.0,730.1 L871.0,728.2 L872.0,731.4 L873.0,730.2 L874.0,731.8 L875.0,732.1 L876.0,732.4 L877.0,731.1 L878.0,731.7 L879.0,731.5 L880.0,726.8 L881.0,729.6 L882.0,726.4 L883.0,726.8 L884.0,727.0 L885.0,727.8 L886.0,726.9 L887.0,727.6 L888.0,728.8 L889.0,728.7 L890.0,718.9 L891.0,709.6 L892.0,701.2 L893.0,692.2 L894.0,684.6 L895.0,672.3 L896.0,664.7 L897.0,657.4 L898.0,651.0 L899.0,654.4 L900.0,663.9 L901.0,670.0 L902.0,675.4 L903.0,681.2 L904.0,690.3 L905.0,696.8 L906.0,703.3 L907.0,711.7 L908.0,709.4 L909.0,701.3 L910.0,685.2 L911.0,676.9 L912.0,664.9 L913.0,649.8 L914.0,638.0 L915.0,628.7 L916.0,615.3 L917.0,612.0 L918.0,619.6 L919.0,630.7 L920.0,636.5 L921.0,644.4 L922.0,649.4 L923.0,655.0 L924.0,661.5 L925.0,670.6 L926.0,675.0 L927.0,681.6 L928.0,689.3 L929.0,698.0 L930.0,702.3 L931.0,707.5 L932.0,712.4 L933.0,706.3 L934.0,700.6 L935.0,697.3 L936.0,703.2 L937.0,703.9 L938.0,708.9 L939.0,709.5 L940.0,713.7 L941.0,718.7 L942.0,719.4 L943.0,723.9 L944.0,728.5 L945.0,725.7 L946.0,725.7 L947.0,726.3 L948.0,726.9 L949.0,728.5 L950.0,727.3 L951.0,725.2 L952.0,723.1 L953.0,718.6 L954.0,719.0 L955.0,717.7 L956.0,716.7 L957.0,719.4 L958.0,721.0 L959.0,722.6 L960.0,725.9 L961.0,727.9 L962.0,730.3 L963.0,728.9 L964.0,727.9 L965.0,727.4 L966.0,728.5 L967.0,723.2 L968.0,722.4 L969.0,722.3 L970.0,723.2 L971.0,717.9 L972.0,717.8 L973.0,719.3 L974.0,722.8 L975.0,717.5 L976.0,722.2 L977.0,721.7 L978.0,724.8 L979.0,725.3 L980.0,724.5 L981.0,726.7 L982.0,727.9 L983.0,731.2 L984.0,730.8 L985.0,726.0 L986.0,723.2 L987.0,716.2 L988.0,708.3 L989.0,703.9 L990.0,698.0 L991.0,695.2 L992.0,690.9 L993.0,694.3 L994.0,698.6 L995.0,703.7 L996.0,708.8 L997.0,713.4 L998.0,713.4 L999.0,717.1 L1000.0,718.4 L1001.0,717.6 L1002.0,720.9 L1003.0,721.7" fill="none" stroke="#c4001a" stroke-width="1.5" stroke-linejoin="round"/>
<line x1="605.9" y1="553.4" x2="605.9" y2="734.5" stroke="#222" stroke-width="1.6"/>
<line x1="605.3" y1="734.2" x2="1003.9" y2="734.2" stroke="#222" stroke-width="1.6"/>
<line x1="605.9" y1="553.9" x2="616.0" y2="553.9" stroke="#222" stroke-width="1.6"/>
<line x1="605.9" y1="644.3" x2="616.0" y2="644.3" stroke="#222" stroke-width="1.6"/>
<line x1="804.5" y1="734.2" x2="804.5" y2="724.7" stroke="#222" stroke-width="1.5"/>
<line x1="1003.2" y1="734.2" x2="1003.2" y2="724.7" stroke="#222" stroke-width="1.5"/>
<line x1="652" y1="542" x2="634.5" y2="559" stroke="#000" stroke-width="16" stroke-linecap="round"/>
<circle cx="670.3" cy="520.9" r="29.3" fill="#fff" stroke="#000" stroke-width="3.6"/>
<path d="M654,521.4 H686.6 M670.2,505 V537" stroke="#000" stroke-width="6.4" fill="none"/>
</g>
<text x="495.5" y="463.5" font-size="42" text-anchor="start" font-weight="bold" fill="#000">c</text>
<rect x="909.2" y="490" width="15.5" height="25" fill="#1f4f8f"/>
<rect x="909.2" y="518.7" width="15.5" height="25" fill="#c4001a"/>
<text class="t" x="939.0" y="510.0" font-size="31" text-anchor="start" font-weight="normal" fill="#111" textLength="69" lengthAdjust="spacingAndGlyphs">run 1</text>
<text class="t" x="939.0" y="538.0" font-size="31" text-anchor="start" font-weight="normal" fill="#111" textLength="69" lengthAdjust="spacingAndGlyphs">run 2</text>
<text class="t" x="0.0" y="0.0" transform="translate(515.0,633.1) rotate(-90)" font-size="31" text-anchor="middle" font-weight="normal" fill="#111" textLength="149" lengthAdjust="spacingAndGlyphs">agreement</text>
<text class="t" transform="translate(557.5,551.2) rotate(-45)" x="0" y="11.5" font-size="32" text-anchor="middle" fill="#111">0.4</text>
<text class="t" transform="translate(557.5,641.6) rotate(-45)" x="0" y="11.5" font-size="32" text-anchor="middle" fill="#111">0.2</text>
<text class="t" transform="translate(557.5,734.0) rotate(-45)" x="0" y="11.5" font-size="32" text-anchor="middle" fill="#111">0</text>
<text class="t" transform="translate(607.0,789.2) rotate(-45)" x="0" y="11.5" font-size="32" text-anchor="middle" fill="#111">3:00</text>
<text class="t" transform="translate(805.8,789.2) rotate(-45)" x="0" y="11.5" font-size="32" text-anchor="middle" fill="#111">3:30</text>
<text class="t" transform="translate(1006.3,789.2) rotate(-45)" x="0" y="11.5" font-size="32" text-anchor="middle" fill="#111">4:00</text>
<text class="t" x="654.0" y="852.2" font-size="31" text-anchor="start" font-weight="normal" fill="#111" textLength="303" lengthAdjust="spacingAndGlyphs">time in story (minutes)</text>
<g id="panel-d">
<line x1="1330.0" y1="513.0" x2="1330.0" y2="734.0" stroke="#2aa7bf" stroke-width="1.5" stroke-dasharray="5,4"/>
<line x1="1337.5" y1="511.6" x2="1385.0" y2="489.5" stroke="#8a8a9a" stroke-width="1.4" stroke-dasharray="5,4"/>
<path d="M1177.0,689.2 L1177.7,689.5 L1178.4,689.9 L1179.4,690.3 L1180.5,690.8 L1181.7,691.3 L1183.0,691.9 L1184.4,692.6 L1185.9,693.3 L1187.5,694.1 L1189.3,695.1 L1191.1,696.1 L1193.1,697.2 L1195.2,698.3 L1197.3,699.3 L1199.5,700.3 L1201.7,701.2 L1203.9,702.0 L1206.2,702.8 L1208.5,703.6 L1211.0,704.3 L1213.4,705.0 L1215.8,705.6 L1218.2,706.3 L1220.6,706.9 L1223.0,707.6 L1225.4,708.2 L1227.9,708.9 L1230.3,709.6 L1232.7,710.1 L1235.1,710.7 L1237.4,711.1 L1239.6,711.3 L1241.7,711.5 L1243.8,711.6 L1245.9,711.5 L1247.9,711.4 L1249.8,711.2 L1251.7,710.9 L1253.6,710.5 L1255.4,710.1 L1257.1,709.5 L1258.8,708.9 L1260.4,708.2 L1261.9,707.4 L1263.4,706.5 L1264.9,705.5 L1266.5,704.2 L1268.0,702.8 L1269.6,701.2 L1271.2,699.3 L1272.8,697.4 L1274.3,695.2 L1275.9,693.0 L1277.5,690.6 L1279.1,688.0 L1280.7,685.4 L1282.2,682.8 L1283.8,680.1 L1285.4,677.4 L1287.0,674.5 L1288.6,671.4 L1290.1,668.0 L1291.7,664.3 L1293.3,660.1 L1294.9,655.5 L1296.5,650.5 L1298.2,645.1 L1299.8,639.4 L1301.4,633.6 L1303.0,627.6 L1304.5,621.7 L1305.9,615.9 L1307.3,610.1 L1308.6,604.1 L1309.8,598.1 L1311.0,592.0 L1312.1,586.0 L1313.2,580.0 L1314.3,574.2 L1315.4,568.5 L1316.5,562.9 L1317.5,557.2 L1318.6,551.5 L1319.6,546.0 L1320.5,540.7 L1321.5,535.8 L1322.4,531.3 L1323.3,527.4 L1324.2,524.1 L1325.0,521.2 L1325.8,518.7 L1326.6,516.6 L1327.3,514.8 L1328.1,513.4 L1328.9,512.4 L1329.6,511.6 L1330.4,511.2 L1331.2,511.1 L1331.9,511.4 L1332.7,512.0 L1333.5,513.0 L1334.3,514.3 L1335.1,516.0 L1336.0,518.0 L1336.9,520.3 L1337.8,523.0 L1338.7,526.0 L1339.7,529.4 L1340.7,533.1 L1341.7,537.2 L1342.8,541.6 L1343.9,546.4 L1345.0,551.7 L1346.1,557.5 L1347.3,563.7 L1348.5,570.3 L1349.7,577.0 L1350.9,583.8 L1352.1,590.5 L1353.3,596.9 L1354.5,603.4 L1355.7,609.9 L1356.9,616.5 L1358.1,623.0 L1359.3,629.5 L1360.4,635.8 L1361.6,641.8 L1362.8,647.5 L1364.0,653.0 L1365.2,658.3 L1366.4,663.4 L1367.6,668.3 L1368.7,673.0 L1369.9,677.5 L1371.1,681.6 L1372.3,685.4 L1373.5,688.9 L1374.7,692.1 L1375.8,695.1 L1377.0,697.7 L1378.2,700.1 L1379.4,702.3 L1380.6,704.2 L1381.8,706.0 L1382.9,707.4 L1384.1,708.5 L1385.2,709.4 L1386.3,710.0 L1387.5,710.5 L1388.7,710.8 L1389.9,711.1 L1391.3,711.3 L1392.7,711.5 L1394.2,711.6 L1395.8,711.5 L1397.4,711.4 L1399.0,711.2 L1400.7,710.8 L1402.3,710.5 L1403.9,710.1 L1405.5,709.6 L1407.1,708.9 L1408.6,708.2 L1410.2,707.4 L1411.8,706.6 L1413.4,705.8 L1415.0,705.1 L1416.5,704.4 L1418.1,703.7 L1419.7,703.1 L1421.3,702.5 L1422.9,701.9 L1424.4,701.3 L1426.0,700.8 L1427.6,700.3 L1429.2,700.0 L1430.8,699.6 L1432.3,699.4 L1433.9,699.2 L1435.5,699.0 L1437.1,698.9 L1438.7,698.8 L1440.2,698.8 L1441.8,698.7 L1443.4,698.7 L1445.0,698.7 L1446.5,698.7 L1448.1,698.8 L1449.7,698.9 L1451.3,698.9 L1452.9,698.8 L1454.4,698.7 L1456.0,698.5 L1457.6,698.2 L1459.2,697.9 L1460.8,697.5 L1462.3,697.1 L1463.9,696.7 L1465.5,696.1 L1467.1,695.5 L1468.7,694.8 L1470.2,694.1 L1471.8,693.2 L1473.4,692.3 L1475.0,691.4 L1476.6,690.4 L1478.1,689.5 L1479.7,688.6 L1481.4,687.7 L1483.2,686.7 L1485.0,685.7 L1486.8,684.7 L1488.6,683.7 L1490.1,682.9 L1491.4,682.2 L1492.4,681.6" fill="none" stroke="#7b4f9e" stroke-width="3.2" stroke-linejoin="round"/>
<line x1="1177.0" y1="497.4" x2="1177.0" y2="734.9" stroke="#222" stroke-width="1.6"/>
<line x1="1176.5" y1="734.4" x2="1492.4" y2="734.4" stroke="#222" stroke-width="1.6"/>
<line x1="1177.0" y1="527.4" x2="1189.0" y2="527.4" stroke="#222" stroke-width="1.6"/>
<line x1="1177.0" y1="610.2" x2="1189.0" y2="610.2" stroke="#222" stroke-width="1.6"/>
<line x1="1177.0" y1="693.0" x2="1189.0" y2="693.0" stroke="#222" stroke-width="1.6"/>
<line x1="1244.3" y1="734.4" x2="1244.3" y2="725.9" stroke="#222" stroke-width="1.6"/>
<line x1="1333.7" y1="734.4" x2="1333.7" y2="725.9" stroke="#222" stroke-width="1.6"/>
<line x1="1424.1" y1="734.4" x2="1424.1" y2="725.9" stroke="#222" stroke-width="1.6"/>
</g>
<text x="1065.5" y="463.3" font-size="42" text-anchor="start" font-weight="bold" fill="#000">d</text>
<text class="t" x="1392.3" y="494.3" font-size="31" text-anchor="start" font-weight="normal" fill="#111" textLength="101" lengthAdjust="spacingAndGlyphs">-182ms</text>
<text class="t" x="0.0" y="0.0" transform="translate(1111.0,603.4) rotate(-90)" font-size="31" text-anchor="middle" font-weight="normal" fill="#111" textLength="263.5" lengthAdjust="spacingAndGlyphs">pearson correlation</text>
<text class="t" transform="translate(1147.5,529.0) rotate(-45)" x="0" y="11.5" font-size="32" text-anchor="middle" fill="#111">0.8</text>
<text class="t" transform="translate(1147.5,612.7) rotate(-45)" x="0" y="11.5" font-size="32" text-anchor="middle" fill="#111">0.4</text>
<text class="t" transform="translate(1147.5,694.0) rotate(-45)" x="0" y="11.5" font-size="32" text-anchor="middle" fill="#111">0</text>
<text class="t" transform="translate(1243.5,790.5) rotate(-45)" x="0" y="11.5" font-size="32" text-anchor="middle" fill="#111">-4000</text>
<text class="t" transform="translate(1334.0,790.5) rotate(-45)" x="0" y="11.5" font-size="32" text-anchor="middle" fill="#111">0</text>
<text class="t" transform="translate(1426.4,790.5) rotate(-45)" x="0" y="11.5" font-size="32" text-anchor="middle" fill="#111">4000</text>
<text class="t" x="1285.0" y="853.0" font-size="31" text-anchor="start" font-weight="normal" fill="#111" textLength="113" lengthAdjust="spacingAndGlyphs">lag (ms)</text>
<g id="panel-e">
<path d="M110.5,1179.3V1128.4M112.1,1179.3V1149.2M113.8,1179.3V1151.5M115.4,1179.3V1165.3M117.1,1179.3V1164.6M118.7,1179.3V1162.7M120.4,1179.3V1175.0M122.0,1179.3V1174.9M123.7,1179.3V1145.7M125.3,1179.3V1176.4M127.0,1179.3V1160.4M128.6,1179.3V1129.1M130.3,1179.3V1232.9M131.9,1179.3V1168.0M133.6,1179.3V1188.6M135.2,1179.3V1179.8M136.9,1179.3V1088.5M138.5,1179.3V1161.9M140.2,1179.3V1156.9M141.8,1179.3V1159.3M143.5,1179.3V1149.7M145.1,1179.3V1186.4M146.8,1179.3V1123.9M148.4,1179.3V1183.1M150.0,1179.3V1192.9M151.7,1179.3V1138.6M153.3,1179.3V1153.0M155.0,1179.3V1177.7M156.6,1179.3V1177.9M158.3,1179.3V1105.1M159.9,1179.3V1148.8M161.6,1179.3V1148.7M163.2,1179.3V1154.9M164.9,1179.3V1125.9M166.5,1179.3V1167.4M168.2,1179.3V1083.0M169.8,1179.3V1154.1M171.5,1179.3V1112.7M173.1,1179.3V1163.5M174.8,1179.3V1204.0M176.4,1179.3V1164.2M178.1,1179.3V1151.4M179.7,1179.3V1084.0M181.4,1179.3V1111.7M183.0,1179.3V1157.4M184.6,1179.3V1237.0M186.3,1179.3V1002.5M187.9,1179.3V1152.9M189.6,1179.3V1119.9M191.2,1179.3V1152.1M192.9,1179.3V1022.5M194.5,1179.3V1153.1M196.2,1179.3V1212.4M197.8,1179.3V1167.0M199.5,1179.3V1178.9M201.1,1179.3V1212.0M202.8,1179.3V1158.6M204.4,1179.3V1133.0M206.1,1179.3V1164.8M207.7,1179.3V1138.8M209.4,1179.3V1064.1M211.0,1179.3V1135.5M212.7,1179.3V1168.4M214.3,1179.3V1152.2M216.0,1179.3V1168.3M217.6,1179.3V1162.0M219.3,1179.3V1165.5M220.9,1179.3V1116.6M222.5,1179.3V1204.9M224.2,1179.3V1156.0M225.8,1179.3V1030.6M227.5,1179.3V1160.4M229.1,1179.3V1170.2M230.8,1179.3V1151.9M232.4,1179.3V1178.0M234.1,1179.3V1125.8M235.7,1179.3V1059.8M237.4,1179.3V1205.2M239.0,1179.3V1143.7M240.7,1179.3V1122.1M242.3,1179.3V1153.5M244.0,1179.3V1206.9M245.6,1179.3V1155.7M247.3,1179.3V1172.7M248.9,1179.3V1177.2M250.6,1179.3V1169.4M252.2,1179.3V1142.8M253.9,1179.3V1186.0M255.5,1179.3V1144.1M257.1,1179.3V1139.0M258.8,1179.3V990.0M260.4,1179.3V1149.2M262.1,1179.3V1161.7M263.7,1179.3V1138.0M265.4,1179.3V1169.0M267.0,1179.3V1088.1M268.7,1179.3V1151.0M270.3,1179.3V1134.4M272.0,1179.3V1170.2M273.6,1179.3V1149.1M275.3,1179.3V1150.1M276.9,1179.3V1146.9M278.6,1179.3V1136.2M280.2,1179.3V1199.8M281.9,1179.3V1136.0M283.5,1179.3V1173.9M285.2,1179.3V1157.3M286.8,1179.3V1160.4M288.5,1179.3V1151.8M290.1,1179.3V1174.8M291.8,1179.3V1185.1M293.4,1179.3V1159.3M295.0,1179.3V1124.4M296.7,1179.3V1166.5M298.3,1179.3V1129.3M300.0,1179.3V1190.3M301.6,1179.3V1152.7M303.3,1179.3V1179.9M304.9,1179.3V1178.8M306.6,1179.3V1181.8M308.2,1179.3V1140.1M309.9,1179.3V1118.6M311.5,1179.3V1159.1M313.2,1179.3V1190.4M314.8,1179.3V1264.0M316.5,1179.3V1127.4M318.1,1179.3V1121.5M319.8,1179.3V1128.6M321.4,1179.3V1122.5M323.1,1179.3V1195.6M324.7,1179.3V1144.3M326.4,1179.3V1160.3M328.0,1179.3V1163.5M329.6,1179.3V1157.6M331.3,1179.3V1170.7M332.9,1179.3V1153.7M334.6,1179.3V1195.3M336.2,1179.3V1181.9M337.9,1179.3V1070.3M339.5,1179.3V1103.3M341.2,1179.3V1147.1M342.8,1179.3V1074.2M344.5,1179.3V1147.0M346.1,1179.3V1124.0M347.8,1179.3V1134.7M349.4,1179.3V1143.8M351.1,1179.3V1169.7M352.7,1179.3V1165.6M354.4,1179.3V1227.4M356.0,1179.3V1127.6M357.7,1179.3V1050.2M359.3,1179.3V1001.7M361.0,1179.3V1143.7M362.6,1179.3V1367.0M364.3,1179.3V1179.6M365.9,1179.3V1158.4M367.5,1179.3V1096.6M369.2,1179.3V1187.9M370.8,1179.3V1132.2M372.5,1179.3V1193.0M374.1,1179.3V1201.6M375.8,1179.3V1018.3M377.4,1179.3V1155.0M379.1,1179.3V1132.3M380.7,1179.3V1152.7M382.4,1179.3V1151.7M384.0,1179.3V1171.2M385.7,1179.3V1122.8M387.3,1179.3V1143.2M389.0,1179.3V1124.8M390.6,1179.3V1141.0M392.3,1179.3V1154.0M393.9,1179.3V1128.7M395.6,1179.3V990.0M397.2,1179.3V1121.5M398.9,1179.3V1138.6M400.5,1179.3V1181.8M402.2,1179.3V1169.3M403.8,1179.3V1050.3M405.4,1179.3V1184.1M407.1,1179.3V1138.4M408.7,1179.3V1157.1M410.4,1179.3V1112.5M412.0,1179.3V1125.0M413.7,1179.3V1169.7M415.3,1179.3V1139.9M417.0,1179.3V1154.7M418.6,1179.3V1229.5M420.3,1179.3V1192.9M421.9,1179.3V1079.7M423.6,1179.3V1192.0M425.2,1179.3V1190.8M426.9,1179.3V1135.5M428.5,1179.3V1167.3M430.2,1179.3V1159.1M431.8,1179.3V1153.2M433.5,1179.3V1096.1M435.1,1179.3V1060.9M436.8,1179.3V1207.0M438.4,1179.3V1111.9M440.0,1179.3V1185.7M441.7,1179.3V1124.9M443.3,1179.3V1172.1M445.0,1179.3V1203.2M446.6,1179.3V1161.6M448.3,1179.3V1154.7M449.9,1179.3V1139.3M451.6,1179.3V1182.5M453.2,1179.3V1180.9M454.9,1179.3V1154.7M456.5,1179.3V1142.0M458.2,1179.3V1156.3M459.8,1179.3V1212.1M461.5,1179.3V1094.5M463.1,1179.3V1132.5M464.8,1179.3V1062.3M466.4,1179.3V1145.5M468.1,1179.3V1166.6M469.7,1179.3V1150.1M471.4,1179.3V1154.0M473.0,1179.3V1147.3M474.7,1179.3V1162.9M476.3,1179.3V1185.8M477.9,1179.3V1162.9M479.6,1179.3V1136.3M481.2,1179.3V1194.2M482.9,1179.3V1132.4M484.5,1179.3V1057.3M486.2,1179.3V1136.4M487.8,1179.3V1185.8M489.5,1179.3V1165.3M491.1,1179.3V1155.4M492.8,1179.3V1159.9M494.4,1179.3V1158.1M496.1,1179.3V1106.2M497.7,1179.3V1038.2M499.4,1179.3V1121.4M501.0,1179.3V1190.0M502.7,1179.3V1138.9M504.3,1179.3V1190.8M506.0,1179.3V1113.1M507.6,1179.3V1185.3M509.3,1179.3V1175.7M510.9,1179.3V1159.6M512.5,1179.3V1151.5M514.2,1179.3V1144.1M515.8,1179.3V1164.0M517.5,1179.3V1123.9M519.1,1179.3V1150.4M520.8,1179.3V1195.0M522.4,1179.3V1082.7M524.1,1179.3V1218.4M525.7,1179.3V1168.7M527.4,1179.3V1158.6M529.0,1179.3V1114.5M530.7,1179.3V1078.2M532.3,1179.3V1157.6M534.0,1179.3V1123.6M535.6,1179.3V1168.3M537.3,1179.3V1161.2M538.9,1179.3V1147.2M540.6,1179.3V1162.2M542.2,1179.3V1086.2M543.9,1179.3V1179.4M545.5,1179.3V1142.5M547.2,1179.3V1158.0M548.8,1179.3V1155.0M550.4,1179.3V1180.5M552.1,1179.3V1153.4M553.7,1179.3V1165.1M555.4,1179.3V1146.0M557.0,1179.3V1139.4M558.7,1179.3V1184.7M560.3,1179.3V1155.3M562.0,1179.3V1174.3M563.6,1179.3V1027.2M565.3,1179.3V1158.9M566.9,1179.3V1250.0M568.6,1179.3V1172.0M570.2,1179.3V1172.0M571.9,1179.3V1137.7M573.5,1179.3V1180.4M575.2,1179.3V1186.1M576.8,1179.3V1150.3M578.5,1179.3V1150.1M580.1,1179.3V1184.5M581.8,1179.3V1139.4M583.4,1179.3V1200.7M585.0,1179.3V1151.8M586.7,1179.3V1117.8M588.3,1179.3V1128.3M590.0,1179.3V1129.8M591.6,1179.3V1139.9M593.3,1179.3V1160.6M594.9,1179.3V1144.3M596.6,1179.3V1136.3M598.2,1179.3V1121.4M599.9,1179.3V1155.7M601.5,1179.3V1137.8M603.2,1179.3V1091.9M604.8,1179.3V1193.2M606.5,1179.3V1123.7M608.1,1179.3V1157.5M609.8,1179.3V1149.5M611.4,1179.3V1155.8M613.1,1179.3V1180.2M614.7,1179.3V1250.0M616.4,1179.3V1142.4M618.0,1179.3V1182.0M619.7,1179.3V1176.2M621.3,1179.3V1237.4M622.9,1179.3V1150.8M624.6,1179.3V1146.4M626.2,1179.3V1170.4M627.9,1179.3V1154.9M629.5,1179.3V1189.1M631.2,1179.3V1137.0M632.8,1179.3V1192.6M634.5,1179.3V1106.5M636.1,1179.3V1166.0M637.8,1179.3V979.0M639.4,1179.3V1120.5M641.1,1179.3V1191.2M642.7,1179.3V1200.8M644.4,1179.3V1166.3M646.0,1179.3V1121.6M647.7,1179.3V1130.6M649.3,1179.3V1097.9M651.0,1179.3V1157.5M652.6,1179.3V1168.8M654.3,1179.3V1149.0M655.9,1179.3V1146.2M657.6,1179.3V1167.2M659.2,1179.3V1157.9M660.8,1179.3V1155.2M662.5,1179.3V1126.6M664.1,1179.3V1118.5M665.8,1179.3V1149.4M667.4,1179.3V1135.9M669.1,1179.3V1131.3M670.7,1179.3V1080.7M672.4,1179.3V1175.1M674.0,1179.3V1138.1M675.7,1179.3V1207.8M677.3,1179.3V1167.8M679.0,1179.3V1187.7M680.6,1179.3V1160.0M682.3,1179.3V1223.7M683.9,1179.3V1158.0M685.6,1179.3V1161.8M687.2,1179.3V1157.9M688.9,1179.3V1147.9M690.5,1179.3V1148.2M692.2,1179.3V1170.0M693.8,1179.3V1161.2M695.4,1179.3V1178.3M697.1,1179.3V1124.7M698.7,1179.3V1155.6M700.4,1179.3V1158.3M702.0,1179.3V1178.8M703.7,1179.3V1188.8M705.3,1179.3V1092.9M707.0,1179.3V1139.4M708.6,1179.3V1123.5M710.3,1179.3V1144.7M711.9,1179.3V1126.9M713.6,1179.3V1131.0M715.2,1179.3V1123.7M716.9,1179.3V1164.8M718.5,1179.3V1133.7M720.2,1179.3V1138.1M721.8,1179.3V1138.8M723.5,1179.3V1153.3M725.1,1179.3V1157.0M726.8,1179.3V1173.5M728.4,1179.3V1158.6M730.1,1179.3V1136.6M731.7,1179.3V1163.5M733.3,1179.3V1169.6M735.0,1179.3V1169.6M736.6,1179.3V1170.5M738.3,1179.3V1169.2M739.9,1179.3V1139.8M741.6,1179.3V1160.2M743.2,1179.3V1137.6M744.9,1179.3V1161.4M746.5,1179.3V1155.8M748.2,1179.3V1039.4M749.8,1179.3V1203.2M751.5,1179.3V1180.0M753.1,1179.3V1122.4M754.8,1179.3V1146.5M756.4,1179.3V1172.0M758.1,1179.3V1183.4M759.7,1179.3V1145.7M761.4,1179.3V1158.1M763.0,1179.3V1127.0M764.7,1179.3V1178.0M766.3,1179.3V1135.3M767.9,1179.3V1135.6M769.6,1179.3V1154.8M771.2,1179.3V1180.9M772.9,1179.3V1153.2M774.5,1179.3V1149.7M776.2,1179.3V1190.4M777.8,1179.3V1073.8M779.5,1179.3V1179.4M781.1,1179.3V1188.9M782.8,1179.3V1140.4M784.4,1179.3V1176.7M786.1,1179.3V1148.7M787.7,1179.3V1174.5M789.4,1179.3V1022.3M791.0,1179.3V1210.2M792.7,1179.3V1204.1M794.3,1179.3V1163.7M796.0,1179.3V1132.7M797.6,1179.3V1180.0M799.3,1179.3V1131.4M800.9,1179.3V1103.6M802.6,1179.3V1159.4M804.2,1179.3V1137.1M805.8,1179.3V1150.6M807.5,1179.3V1075.7M809.1,1179.3V1177.8M810.8,1179.3V1195.1M812.4,1179.3V1191.6M814.1,1179.3V1183.5M815.7,1179.3V1162.8M817.4,1179.3V1175.5M819.0,1179.3V1156.4M820.7,1179.3V1181.8M822.3,1179.3V1170.4M824.0,1179.3V1109.7M825.6,1179.3V1157.9M827.3,1179.3V1024.0M828.9,1179.3V1159.0M830.6,1179.3V1146.5M832.2,1179.3V1010.1M833.9,1179.3V1164.2M835.5,1179.3V1148.2M837.2,1179.3V1164.2M838.8,1179.3V1228.9M840.4,1179.3V1184.3M842.1,1179.3V1115.9M843.7,1179.3V1235.4M845.4,1179.3V1123.4M847.0,1179.3V1154.5M848.7,1179.3V1136.6M850.3,1179.3V1133.8M852.0,1179.3V1153.0M853.6,1179.3V1014.3M855.3,1179.3V1149.3M856.9,1179.3V1173.9M858.6,1179.3V1119.4M860.2,1179.3V1142.5M861.9,1179.3V1165.3M863.5,1179.3V1160.8M865.2,1179.3V1174.8M866.8,1179.3V1235.3M868.5,1179.3V1153.9M870.1,1179.3V1138.0M871.8,1179.3V1089.0M873.4,1179.3V1189.0M875.1,1179.3V1094.6M876.7,1179.3V1257.0M878.3,1179.3V1157.5M880.0,1179.3V1145.8M881.6,1179.3V1152.0M883.3,1179.3V986.0M884.9,1179.3V1165.9M886.6,1179.3V994.0M888.2,1179.3V1116.2M889.9,1179.3V1097.6M891.5,1179.3V1150.2M893.2,1179.3V1144.4M894.8,1179.3V1156.8M896.5,1179.3V1166.5M898.1,1179.3V1097.5M899.8,1179.3V1176.6M901.4,1179.3V1195.3M903.1,1179.3V1160.4M904.7,1179.3V1141.3M906.4,1179.3V1126.2M908.0,1179.3V1179.1M909.7,1179.3V1118.6M911.3,1179.3V1136.1M912.9,1179.3V1138.4M914.6,1179.3V1146.8M916.2,1179.3V1133.3M917.9,1179.3V1118.7M919.5,1179.3V1023.0M921.2,1179.3V1167.4M922.8,1179.3V1019.3M924.5,1179.3V1134.2M926.1,1179.3V1183.3M927.8,1179.3V1133.2M929.4,1179.3V1116.7M931.1,1179.3V1037.0M932.7,1179.3V1186.3M934.4,1179.3V1121.1M936.0,1179.3V1169.5M937.7,1179.3V1132.5M939.3,1179.3V1164.2M941.0,1179.3V1182.4M942.6,1179.3V1142.2M944.3,1179.3V958.0M945.9,1179.3V1126.4M947.6,1179.3V1167.3M949.2,1179.3V1164.3M950.8,1179.3V1139.0M952.5,1179.3V1156.8M954.1,1179.3V1173.6M955.8,1179.3V1154.0M957.4,1179.3V1136.4M959.1,1179.3V1139.2M960.7,1179.3V1098.4M962.4,1179.3V1137.0M964.0,1179.3V1189.0M965.7,1179.3V1193.2M967.3,1179.3V1203.6M969.0,1179.3V1177.8M970.6,1179.3V1168.7M972.3,1179.3V1177.2M973.9,1179.3V1145.6M975.6,1179.3V1162.6M977.2,1179.3V1176.6M978.9,1179.3V1143.1M980.5,1179.3V1128.3M982.2,1179.3V1078.6M983.8,1179.3V1156.8M985.5,1179.3V1154.2M987.1,1179.3V1155.3M988.7,1179.3V1141.4M990.4,1179.3V1166.0M992.0,1179.3V1138.8M993.7,1179.3V1195.1M995.3,1179.3V1208.3M997.0,1179.3V1167.7M998.6,1179.3V1118.1M1000.3,1179.3V1083.4M1001.9,1179.3V1161.8M1003.6,1179.3V1141.9M1005.2,1179.3V1122.8M1006.9,1179.3V1150.5M1008.5,1179.3V1169.6M1010.2,1179.3V1146.3M1011.8,1179.3V1171.9M1013.5,1179.3V1177.3M1015.1,1179.3V1123.2M1016.8,1179.3V1126.1M1018.4,1179.3V1116.3M1020.1,1179.3V1163.4M1021.7,1179.3V1130.4M1023.3,1179.3V1160.8M1025.0,1179.3V1055.8M1026.6,1179.3V1104.7M1028.3,1179.3V1103.1M1029.9,1179.3V1129.4M1031.6,1179.3V1161.6M1033.2,1179.3V1140.6M1034.9,1179.3V1145.2M1036.5,1179.3V1226.2M1038.2,1179.3V1136.6M1039.8,1179.3V1155.7M1041.5,1179.3V1158.5M1043.1,1179.3V1162.2M1044.8,1179.3V1160.3M1046.4,1179.3V1133.9M1048.1,1179.3V1158.8M1049.7,1179.3V1049.4M1051.4,1179.3V1130.9M1053.0,1179.3V1128.9M1054.7,1179.3V1124.0M1056.3,1179.3V1172.4M1058.0,1179.3V1171.1M1059.6,1179.3V1142.9M1061.2,1179.3V1147.8M1062.9,1179.3V1163.2M1064.5,1179.3V1147.2M1066.2,1179.3V1173.1M1067.8,1179.3V1098.0M1069.5,1179.3V1149.6M1071.1,1179.3V1136.3M1072.8,1179.3V1111.2M1074.4,1179.3V1027.2M1076.1,1179.3V1142.0M1077.7,1179.3V1159.7M1079.4,1179.3V1136.5M1081.0,1179.3V1155.8M1082.7,1179.3V1112.1M1084.3,1179.3V1112.2M1086.0,1179.3V1154.7M1087.6,1179.3V1122.7M1089.3,1179.3V1184.5M1090.9,1179.3V1108.8M1092.6,1179.3V1031.3M1094.2,1179.3V1182.9M1095.8,1179.3V1177.7M1097.5,1179.3V1121.1M1099.1,1179.3V1212.3M1100.8,1179.3V1155.0M1102.4,1179.3V1149.2M1104.1,1179.3V1163.0M1105.7,1179.3V1250.0M1107.4,1179.3V1145.7M1109.0,1179.3V1143.6M1110.7,1179.3V1170.4M1112.3,1179.3V1149.6M1114.0,1179.3V1152.9M1115.6,1179.3V1162.4M1117.3,1179.3V1176.1M1118.9,1179.3V1084.7M1120.6,1179.3V1168.0M1122.2,1179.3V1179.1M1123.9,1179.3V1104.3M1125.5,1179.3V1124.8M1127.2,1179.3V1151.6M1128.8,1179.3V1161.9M1130.5,1179.3V1082.1M1132.1,1179.3V1111.4M1133.7,1179.3V1116.3M1135.4,1179.3V1168.4M1137.0,1179.3V1184.1M1138.7,1179.3V1006.7M1140.3,1179.3V1155.0M1142.0,1179.3V1138.3M1143.6,1179.3V1156.9M1145.3,1179.3V1121.2M1146.9,1179.3V1171.5M1148.6,1179.3V1173.2M1150.2,1179.3V1132.5M1151.9,1179.3V1182.4M1153.5,1179.3V1137.8M1155.2,1179.3V1202.3M1156.8,1179.3V1213.5M1158.5,1179.3V1142.5M1160.1,1179.3V1179.2M1161.8,1179.3V1192.3M1163.4,1179.3V1164.1M1165.1,1179.3V1175.6M1166.7,1179.3V1163.9M1168.3,1179.3V1133.4M1170.0,1179.3V1168.2M1171.6,1179.3V1128.8M1173.3,1179.3V1159.9M1174.9,1179.3V1143.8M1176.6,1179.3V1176.7M1178.2,1179.3V1109.4M1179.9,1179.3V1000.0M1181.5,1179.3V1129.5M1183.2,1179.3V1157.8M1184.8,1179.3V1166.0M1186.5,1179.3V1125.1M1188.1,1179.3V1013.9M1189.8,1179.3V1175.7M1191.4,1179.3V1165.3M1193.1,1179.3V1166.7M1194.7,1179.3V1182.7M1196.4,1179.3V1138.3M1198.0,1179.3V1140.9M1199.7,1179.3V1174.5M1201.3,1179.3V1163.6M1203.0,1179.3V1134.5M1204.6,1179.3V1206.6M1206.2,1179.3V1104.8M1207.9,1179.3V1140.8M1209.5,1179.3V1131.2M1211.2,1179.3V1126.3M1212.8,1179.3V1128.8M1214.5,1179.3V1171.4M1216.1,1179.3V1156.5M1217.8,1179.3V1130.1M1219.4,1179.3V1151.8M1221.1,1179.3V1137.1M1222.7,1179.3V1002.1M1224.4,1179.3V1149.0M1226.0,1179.3V1169.3M1227.7,1179.3V1117.7M1229.3,1179.3V1151.9M1231.0,1179.3V1171.9M1232.6,1179.3V1165.5M1234.3,1179.3V1138.0M1235.9,1179.3V1134.1M1237.6,1179.3V1173.1M1239.2,1179.3V1142.0M1240.9,1179.3V1121.0M1242.5,1179.3V1041.8M1244.1,1179.3V1223.7M1245.8,1179.3V1149.3M1247.4,1179.3V1164.2M1249.1,1179.3V1153.1M1250.7,1179.3V1132.6M1252.4,1179.3V1179.7M1254.0,1179.3V1162.1M1255.7,1179.3V1169.6M1257.3,1179.3V1165.7M1259.0,1179.3V1155.2M1260.6,1179.3V1159.1M1262.3,1179.3V1169.4M1263.9,1179.3V1156.2M1265.6,1179.3V1043.7M1267.2,1179.3V1158.3M1268.9,1179.3V1130.9M1270.5,1179.3V1147.6M1272.2,1179.3V1170.2M1273.8,1179.3V1122.5M1275.5,1179.3V1194.1M1277.1,1179.3V1158.6M1278.7,1179.3V1159.4M1280.4,1179.3V1270.0M1282.0,1179.3V1150.5M1283.7,1179.3V1183.9M1285.3,1179.3V1062.9M1287.0,1179.3V1082.7M1288.6,1179.3V1152.0M1290.3,1179.3V1177.7M1291.9,1179.3V1146.1M1293.6,1179.3V1169.1M1295.2,1179.3V1173.2M1296.9,1179.3V1181.6M1298.5,1179.3V1137.4M1300.2,1179.3V1118.5M1301.8,1179.3V1155.6M1303.5,1179.3V1189.7M1305.1,1179.3V1171.6M1306.8,1179.3V1000.0M1308.4,1179.3V1171.7M1310.1,1179.3V1146.4M1311.7,1179.3V1082.8M1313.4,1179.3V1237.2M1315.0,1179.3V1153.4M1316.6,1179.3V1125.1M1318.3,1179.3V1084.6M1319.9,1179.3V1146.0M1321.6,1179.3V1152.3M1323.2,1179.3V1135.3M1324.9,1179.3V1156.2M1326.5,1179.3V1148.9M1328.2,1179.3V1181.7M1329.8,1179.3V1153.8M1331.5,1179.3V1000.0M1333.1,1179.3V1139.1M1334.8,1179.3V1156.3M1336.4,1179.3V1152.7M1338.1,1179.3V1203.6M1339.7,1179.3V979.0M1341.4,1179.3V1133.6M1343.0,1179.3V1091.6M1344.7,1179.3V1162.8M1346.3,1179.3V1140.0M1348.0,1179.3V1093.6M1349.6,1179.3V1125.9M1351.2,1179.3V1155.2M1352.9,1179.3V1138.5M1354.5,1179.3V1180.9M1356.2,1179.3V1180.9M1357.8,1179.3V1170.5M1359.5,1179.3V1133.5M1361.1,1179.3V1170.9M1362.8,1179.3V1047.1M1364.4,1179.3V1162.2M1366.1,1179.3V1177.7M1367.7,1179.3V1183.2M1369.4,1179.3V1191.4M1371.0,1179.3V1144.5M1372.7,1179.3V1158.4M1374.3,1179.3V1155.7M1376.0,1179.3V1191.5M1377.6,1179.3V1276.0M1379.3,1179.3V1136.3M1380.9,1179.3V1158.4M1382.6,1179.3V1135.2M1384.2,1179.3V1172.6M1385.9,1179.3V1171.1M1387.5,1179.3V1179.0M1389.1,1179.3V1179.7M1390.8,1179.3V1200.4M1392.4,1179.3V1209.9M1394.1,1179.3V1172.5M1395.7,1179.3V1136.0M1397.4,1179.3V1176.1M1399.0,1179.3V1148.5M1400.7,1179.3V1170.5M1402.3,1179.3V1185.1M1404.0,1179.3V1146.4M1405.6,1179.3V1166.3M1407.3,1179.3V1164.6M1408.9,1179.3V1158.0M1410.6,1179.3V1154.2M1412.2,1179.3V1096.8M1413.9,1179.3V1157.5M1415.5,1179.3V1155.3M1417.2,1179.3V1110.2M1418.8,1179.3V1151.5M1420.5,1179.3V1166.4M1422.1,1179.3V1146.0M1423.7,1179.3V1153.0M1425.4,1179.3V1106.7M1427.0,1179.3V1129.3M1428.7,1179.3V1138.8M1430.3,1179.3V1194.6M1432.0,1179.3V1188.9M1433.6,1179.3V1112.0M1435.3,1179.3V1133.3M1436.9,1179.3V1139.1M1438.6,1179.3V1171.9M1440.2,1179.3V1114.9M1441.9,1179.3V1058.2M1443.5,1179.3V1126.4M1445.2,1179.3V1157.3M1446.8,1179.3V1151.8M1448.5,1179.3V1126.7M1450.1,1179.3V1178.3M1451.8,1179.3V1157.9M1453.4,1179.3V1167.5M1455.1,1179.3V1146.9M1456.7,1179.3V1127.0M1458.4,1179.3V1047.3M1460.0,1179.3V1124.2" stroke="#acd9e3" stroke-width="0.9" fill="none"/>
<path d="M110.5,1179.3V1099.7M112.1,1179.3V1131.0M113.8,1179.3V1134.4M115.4,1179.3V1117.4M117.1,1179.3V1088.2M118.7,1179.3V1241.3M120.4,1179.3V992.0M122.0,1179.3V1107.4M123.7,1179.3V1097.9M125.3,1179.3V1082.0M127.0,1179.3V1140.7M128.6,1179.3V1145.0M130.3,1179.3V1157.6M131.9,1179.3V1123.6M133.6,1179.3V1148.6M135.2,1179.3V1073.1M136.9,1179.3V1145.7M138.5,1179.3V1129.6M140.2,1179.3V1070.3M141.8,1179.3V1127.3M143.5,1179.3V1116.8M145.1,1179.3V1123.9M146.8,1179.3V1095.3M148.4,1179.3V1075.9M150.0,1179.3V1069.6M151.7,1179.3V1121.9M153.3,1179.3V1124.5M155.0,1179.3V1190.2M156.6,1179.3V1156.6M158.3,1179.3V1035.3M159.9,1179.3V1135.3M161.6,1179.3V1106.1M163.2,1179.3V1123.7M164.9,1179.3V1128.6M166.5,1179.3V1119.3M168.2,1179.3V1101.6M169.8,1179.3V1136.6M171.5,1179.3V1129.4M173.1,1179.3V1090.3M174.8,1179.3V1089.1M176.4,1179.3V1118.3M178.1,1179.3V1111.2M179.7,1179.3V1149.9M181.4,1179.3V1033.2M183.0,1179.3V1151.4M184.6,1179.3V1128.4M186.3,1179.3V1218.0M187.9,1179.3V1222.8M189.6,1179.3V1105.2M191.2,1179.3V1157.0M192.9,1179.3V1136.0M194.5,1179.3V1142.4M196.2,1179.3V1099.9M197.8,1179.3V1080.1M199.5,1179.3V1087.6M201.1,1179.3V1072.9M202.8,1179.3V1139.0M204.4,1179.3V1206.2M206.1,1179.3V1031.6M207.7,1179.3V1130.1M209.4,1179.3V1137.8M211.0,1179.3V1116.8M212.7,1179.3V1057.9M214.3,1179.3V1093.2M216.0,1179.3V1118.9M217.6,1179.3V1148.6M219.3,1179.3V1121.4M220.9,1179.3V1132.7M222.5,1179.3V1120.3M224.2,1179.3V1159.2M225.8,1179.3V1156.8M227.5,1179.3V1022.2M229.1,1179.3V1072.1M230.8,1179.3V1134.9M232.4,1179.3V1149.0M234.1,1179.3V1168.9M235.7,1179.3V1231.2M237.4,1179.3V1077.1M239.0,1179.3V1156.2M240.7,1179.3V1143.8M242.3,1179.3V1129.5M244.0,1179.3V1134.9M245.6,1179.3V1237.9M247.3,1179.3V1120.1M248.9,1179.3V1078.6M250.6,1179.3V1091.2M252.2,1179.3V1082.7M253.9,1179.3V1086.1M255.5,1179.3V1093.0M257.1,1179.3V1139.9M258.8,1179.3V1134.5M260.4,1179.3V1110.3M262.1,1179.3V1100.3M263.7,1179.3V1091.1M265.4,1179.3V1121.8M267.0,1179.3V1130.3M268.7,1179.3V1155.3M270.3,1179.3V1110.2M272.0,1179.3V1127.2M273.6,1179.3V1146.7M275.3,1179.3V998.0M276.9,1179.3V1028.0M278.6,1179.3V1123.1M280.2,1179.3V1145.8M281.9,1179.3V1116.7M283.5,1179.3V1129.7M285.2,1179.3V1101.9M286.8,1179.3V1124.4M288.5,1179.3V1119.3M290.1,1179.3V1085.9M291.8,1179.3V1066.9M293.4,1179.3V1007.9M295.0,1179.3V1131.1M296.7,1179.3V1118.2M298.3,1179.3V1097.5M300.0,1179.3V1043.2M301.6,1179.3V948.0M303.3,1179.3V1105.2M304.9,1179.3V1138.5M306.6,1179.3V1124.7M308.2,1179.3V1080.8M309.9,1179.3V1128.9M311.5,1179.3V1090.7M313.2,1179.3V1144.4M314.8,1179.3V1109.8M316.5,1179.3V1136.9M318.1,1179.3V1129.4M319.8,1179.3V1133.2M321.4,1179.3V1079.0M323.1,1179.3V1189.5M324.7,1179.3V1217.8M326.4,1179.3V1105.4M328.0,1179.3V1195.4M329.6,1179.3V1185.0M331.3,1179.3V1097.4M332.9,1179.3V1156.1M334.6,1179.3V1138.4M336.2,1179.3V1103.2M337.9,1179.3V1040.8M339.5,1179.3V1207.8M341.2,1179.3V1145.3M342.8,1179.3V1112.2M344.5,1179.3V1144.9M346.1,1179.3V1192.5M347.8,1179.3V1253.0M349.4,1179.3V1079.3M351.1,1179.3V1139.0M352.7,1179.3V1088.1M354.4,1179.3V1103.9M356.0,1179.3V1136.0M357.7,1179.3V1113.8M359.3,1179.3V1107.4M361.0,1179.3V1112.1M362.6,1179.3V1106.2M364.3,1179.3V1087.5M365.9,1179.3V1152.3M367.5,1179.3V1137.4M369.2,1179.3V1164.1M370.8,1179.3V1124.0M372.5,1179.3V1194.6M374.1,1179.3V1139.9M375.8,1179.3V1095.3M377.4,1179.3V1019.8M379.1,1179.3V1104.3M380.7,1179.3V1040.1M382.4,1179.3V1156.4M384.0,1179.3V1046.2M385.7,1179.3V1124.8M387.3,1179.3V1092.2M389.0,1179.3V1117.8M390.6,1179.3V1195.6M392.3,1179.3V1060.0M393.9,1179.3V1050.3M395.6,1179.3V1119.6M397.2,1179.3V1080.1M398.9,1179.3V1163.0M400.5,1179.3V1126.7M402.2,1179.3V1225.8M403.8,1179.3V1122.7M405.4,1179.3V1148.6M407.1,1179.3V1086.6M408.7,1179.3V1108.4M410.4,1179.3V1173.1M412.0,1179.3V957.3M413.7,1179.3V1079.9M415.3,1179.3V1144.7M417.0,1179.3V1100.7M418.6,1179.3V1236.8M420.3,1179.3V1100.8M421.9,1179.3V1152.0M423.6,1179.3V1119.6M425.2,1179.3V1105.5M426.9,1179.3V1063.8M428.5,1179.3V1103.0M430.2,1179.3V1208.1M431.8,1179.3V1149.1M433.5,1179.3V1189.1M435.1,1179.3V1196.4M436.8,1179.3V1113.0M438.4,1179.3V1121.6M440.0,1179.3V1118.6M441.7,1179.3V1157.2M443.3,1179.3V1123.9M445.0,1179.3V1148.8M446.6,1179.3V1000.4M448.3,1179.3V1170.1M449.9,1179.3V1159.4M451.6,1179.3V1099.7M453.2,1179.3V1074.7M454.9,1179.3V1090.2M456.5,1179.3V1051.7M458.2,1179.3V1089.7M459.8,1179.3V1175.3M461.5,1179.3V1100.8M463.1,1179.3V1174.9M464.8,1179.3V1051.6M466.4,1179.3V1062.1M468.1,1179.3V1193.5M469.7,1179.3V1138.3M471.4,1179.3V1102.9M473.0,1179.3V1120.1M474.7,1179.3V1101.2M476.3,1179.3V1127.4M477.9,1179.3V1137.2M479.6,1179.3V1152.5M481.2,1179.3V1131.6M482.9,1179.3V994.0M484.5,1179.3V1123.4M486.2,1179.3V1121.3M487.8,1179.3V1146.0M489.5,1179.3V1091.2M491.1,1179.3V1140.6M492.8,1179.3V1111.8M494.4,1179.3V1105.4M496.1,1179.3V1019.5M497.7,1179.3V1102.4M499.4,1179.3V1097.0M501.0,1179.3V1093.2M502.7,1179.3V1152.7M504.3,1179.3V1123.4M506.0,1179.3V1077.5M507.6,1179.3V1111.1M509.3,1179.3V1137.0M510.9,1179.3V1139.5M512.5,1179.3V1121.9M514.2,1179.3V1075.1M515.8,1179.3V1094.5M517.5,1179.3V1118.9M519.1,1179.3V1113.8M520.8,1179.3V1158.6M522.4,1179.3V1074.7M524.1,1179.3V1116.7M525.7,1179.3V1190.7M527.4,1179.3V1114.6M529.0,1179.3V1090.7M530.7,1179.3V1103.0M532.3,1179.3V1097.3M534.0,1179.3V1117.1M535.6,1179.3V1084.8M537.3,1179.3V1164.9M538.9,1179.3V1053.5M540.6,1179.3V976.8M542.2,1179.3V1132.5M543.9,1179.3V1121.4M545.5,1179.3V1072.9M547.2,1179.3V1085.8M548.8,1179.3V1116.7M550.4,1179.3V1156.1M552.1,1179.3V1109.9M553.7,1179.3V1124.0M555.4,1179.3V1108.1M557.0,1179.3V1085.3M558.7,1179.3V1132.7M560.3,1179.3V1169.3M562.0,1179.3V1119.9M563.6,1179.3V1090.4M565.3,1179.3V1117.1M566.9,1179.3V1123.5M568.6,1179.3V1190.0M570.2,1179.3V1151.2M571.9,1179.3V1112.9M573.5,1179.3V1085.2M575.2,1179.3V1097.4M576.8,1179.3V1144.2M578.5,1179.3V1098.8M580.1,1179.3V1098.4M581.8,1179.3V1171.5M583.4,1179.3V1171.7M585.0,1179.3V1097.2M586.7,1179.3V1038.1M588.3,1179.3V1071.9M590.0,1179.3V1146.9M591.6,1179.3V1128.6M593.3,1179.3V1148.7M594.9,1179.3V1105.5M596.6,1179.3V1133.0M598.2,1179.3V1135.9M599.9,1179.3V1112.7M601.5,1179.3V1135.0M603.2,1179.3V1093.1M604.8,1179.3V1089.8M606.5,1179.3V1069.1M608.1,1179.3V1112.2M609.8,1179.3V1111.3M611.4,1179.3V1099.8M613.1,1179.3V1100.6M614.7,1179.3V1056.5M616.4,1179.3V1150.9M618.0,1179.3V1134.5M619.7,1179.3V1091.1M621.3,1179.3V1109.7M622.9,1179.3V1077.2M624.6,1179.3V1142.1M626.2,1179.3V1075.5M627.9,1179.3V1138.4M629.5,1179.3V985.0M631.2,1179.3V1142.5M632.8,1179.3V1091.5M634.5,1179.3V1129.5M636.1,1179.3V1108.5M637.8,1179.3V1122.9M639.4,1179.3V1132.1M641.1,1179.3V1109.3M642.7,1179.3V1105.5M644.4,1179.3V1110.0M646.0,1179.3V1085.9M647.7,1179.3V1140.7M649.3,1179.3V930.0M651.0,1179.3V1111.2M652.6,1179.3V966.1M654.3,1179.3V1116.7M655.9,1179.3V1096.5M657.6,1179.3V1167.6M659.2,1179.3V1120.6M660.8,1179.3V1187.8M662.5,1179.3V1154.7M664.1,1179.3V1158.7M665.8,1179.3V1148.5M667.4,1179.3V1168.8M669.1,1179.3V1124.3M670.7,1179.3V1161.1M672.4,1179.3V1100.8M674.0,1179.3V1241.8M675.7,1179.3V1110.6M677.3,1179.3V1156.7M679.0,1179.3V1159.4M680.6,1179.3V1105.4M682.3,1179.3V1123.1M683.9,1179.3V1139.1M685.6,1179.3V1121.5M687.2,1179.3V1150.0M688.9,1179.3V1193.3M690.5,1179.3V1151.8M692.2,1179.3V1176.6M693.8,1179.3V1223.4M695.4,1179.3V1111.1M697.1,1179.3V1085.3M698.7,1179.3V1076.8M700.4,1179.3V1093.6M702.0,1179.3V1147.6M703.7,1179.3V1120.4M705.3,1179.3V1093.8M707.0,1179.3V1073.4M708.6,1179.3V1160.3M710.3,1179.3V1137.0M711.9,1179.3V1107.7M713.6,1179.3V1262.0M715.2,1179.3V1149.5M716.9,1179.3V1156.0M718.5,1179.3V1157.8M720.2,1179.3V1149.2M721.8,1179.3V1098.2M723.5,1179.3V1097.6M725.1,1179.3V1060.6M726.8,1179.3V1109.1M728.4,1179.3V1239.6M730.1,1179.3V1129.6M731.7,1179.3V984.5M733.3,1179.3V1095.7M735.0,1179.3V1068.8M736.6,1179.3V1121.7M738.3,1179.3V1175.7M739.9,1179.3V1152.7M741.6,1179.3V1082.4M743.2,1179.3V1134.4M744.9,1179.3V1122.5M746.5,1179.3V1054.3M748.2,1179.3V1121.2M749.8,1179.3V1108.8M751.5,1179.3V1155.7M753.1,1179.3V1114.2M754.8,1179.3V1109.5M756.4,1179.3V1087.8M758.1,1179.3V1115.8M759.7,1179.3V1146.8M761.4,1179.3V1115.4M763.0,1179.3V1085.3M764.7,1179.3V1062.3M766.3,1179.3V1019.1M767.9,1179.3V985.0M769.6,1179.3V1121.5M771.2,1179.3V1112.1M772.9,1179.3V1126.9M774.5,1179.3V1077.0M776.2,1179.3V1039.4M777.8,1179.3V1132.5M779.5,1179.3V1202.2M781.1,1179.3V1155.7M782.8,1179.3V1126.6M784.4,1179.3V1141.7M786.1,1179.3V1138.5M787.7,1179.3V1150.8M789.4,1179.3V1110.1M791.0,1179.3V1127.0M792.7,1179.3V1114.4M794.3,1179.3V1173.8M796.0,1179.3V1068.0M797.6,1179.3V1082.3M799.3,1179.3V1126.8M800.9,1179.3V1117.8M802.6,1179.3V1052.2M804.2,1179.3V1033.2M805.8,1179.3V1138.2M807.5,1179.3V1142.9M809.1,1179.3V1138.6M810.8,1179.3V1123.9M812.4,1179.3V1106.9M814.1,1179.3V1076.0M815.7,1179.3V1140.3M817.4,1179.3V1132.7M819.0,1179.3V1140.7M820.7,1179.3V993.3M822.3,1179.3V1162.2M824.0,1179.3V1095.1M825.6,1179.3V1127.8M827.3,1179.3V1073.8M828.9,1179.3V1102.6M830.6,1179.3V1119.2M832.2,1179.3V1102.1M833.9,1179.3V1147.7M835.5,1179.3V1229.0M837.2,1179.3V1082.6M838.8,1179.3V1083.7M840.4,1179.3V1060.5M842.1,1179.3V1030.7M843.7,1179.3V1134.8M845.4,1179.3V1165.0M847.0,1179.3V1140.6M848.7,1179.3V1138.0M850.3,1179.3V1100.8M852.0,1179.3V1090.0M853.6,1179.3V1080.6M855.3,1179.3V1087.1M856.9,1179.3V1073.9M858.6,1179.3V1153.3M860.2,1179.3V1111.4M861.9,1179.3V1139.7M863.5,1179.3V1129.7M865.2,1179.3V1069.1M866.8,1179.3V1089.2M868.5,1179.3V1044.4M870.1,1179.3V1129.4M871.8,1179.3V1021.5M873.4,1179.3V1130.1M875.1,1179.3V1146.1M876.7,1179.3V1133.0M878.3,1179.3V1142.7M880.0,1179.3V1080.8M881.6,1179.3V1110.3M883.3,1179.3V1113.1M884.9,1179.3V1123.6M886.6,1179.3V975.0M888.2,1179.3V1105.3M889.9,1179.3V1106.2M891.5,1179.3V1060.7M893.2,1179.3V1076.9M894.8,1179.3V1148.6M896.5,1179.3V1125.9M898.1,1179.3V1125.8M899.8,1179.3V1131.2M901.4,1179.3V1073.9M903.1,1179.3V1159.8M904.7,1179.3V1231.0M906.4,1179.3V1111.0M908.0,1179.3V1098.6M909.7,1179.3V1146.6M911.3,1179.3V1088.9M912.9,1179.3V1100.6M914.6,1179.3V1103.7M916.2,1179.3V1136.9M917.9,1179.3V1067.0M919.5,1179.3V1153.1M921.2,1179.3V955.0M922.8,1179.3V965.5M924.5,1179.3V1094.1M926.1,1179.3V1189.6M927.8,1179.3V1104.9M929.4,1179.3V1111.2M931.1,1179.3V1065.2M932.7,1179.3V1079.1M934.4,1179.3V1128.6M936.0,1179.3V1088.2M937.7,1179.3V1189.7M939.3,1179.3V1133.2M941.0,1179.3V1214.1M942.6,1179.3V1116.8M944.3,1179.3V1106.5M945.9,1179.3V1111.8M947.6,1179.3V1135.7M949.2,1179.3V938.0M950.8,1179.3V1123.3M952.5,1179.3V1128.2M954.1,1179.3V1079.1M955.8,1179.3V998.4M957.4,1179.3V1070.5M959.1,1179.3V1148.2M960.7,1179.3V1112.9M962.4,1179.3V1138.4M964.0,1179.3V1092.6M965.7,1179.3V1126.4M967.3,1179.3V1140.9M969.0,1179.3V1098.1M970.6,1179.3V1210.7M972.3,1179.3V1096.6M973.9,1179.3V1169.3M975.6,1179.3V1151.3M977.2,1179.3V1104.2M978.9,1179.3V1129.7M980.5,1179.3V1068.6M982.2,1179.3V1030.6M983.8,1179.3V1120.7M985.5,1179.3V1189.8M987.1,1179.3V1089.2M988.7,1179.3V1145.4M990.4,1179.3V1082.9M992.0,1179.3V1145.1M993.7,1179.3V1069.5M995.3,1179.3V1193.1M997.0,1179.3V1117.1M998.6,1179.3V1195.9M1000.3,1179.3V970.0M1001.9,1179.3V1064.4M1003.6,1179.3V1090.5M1005.2,1179.3V1086.9M1006.9,1179.3V1125.9M1008.5,1179.3V1148.5M1010.2,1179.3V1071.6M1011.8,1179.3V1092.0M1013.5,1179.3V980.4M1015.1,1179.3V1097.1M1016.8,1179.3V1107.4M1018.4,1179.3V1093.2M1020.1,1179.3V1120.4M1021.7,1179.3V1110.2M1023.3,1179.3V1146.2M1025.0,1179.3V1051.3M1026.6,1179.3V1117.9M1028.3,1179.3V1073.0M1029.9,1179.3V1105.9M1031.6,1179.3V1078.8M1033.2,1179.3V1119.8M1034.9,1179.3V1099.7M1036.5,1179.3V1100.0M1038.2,1179.3V1097.3M1039.8,1179.3V1110.6M1041.5,1179.3V1118.3M1043.1,1179.3V1103.4M1044.8,1179.3V1110.1M1046.4,1179.3V1069.5M1048.1,1179.3V1169.4M1049.7,1179.3V1231.9M1051.4,1179.3V1152.2M1053.0,1179.3V1090.9M1054.7,1179.3V1123.4M1056.3,1179.3V1088.5M1058.0,1179.3V1130.4M1059.6,1179.3V1155.8M1061.2,1179.3V1072.5M1062.9,1179.3V1149.8M1064.5,1179.3V1101.3M1066.2,1179.3V1129.2M1067.8,1179.3V1035.7M1069.5,1179.3V1125.5M1071.1,1179.3V1142.2M1072.8,1179.3V1123.7M1074.4,1179.3V1118.3M1076.1,1179.3V1111.2M1077.7,1179.3V1120.0M1079.4,1179.3V1118.7M1081.0,1179.3V1074.0M1082.7,1179.3V1093.2M1084.3,1179.3V1124.0M1086.0,1179.3V1109.1M1087.6,1179.3V1110.2M1089.3,1179.3V1149.1M1090.9,1179.3V1094.4M1092.6,1179.3V1086.6M1094.2,1179.3V1104.6M1095.8,1179.3V1134.1M1097.5,1179.3V1088.1M1099.1,1179.3V1112.0M1100.8,1179.3V1146.4M1102.4,1179.3V1114.1M1104.1,1179.3V1100.4M1105.7,1179.3V1143.1M1107.4,1179.3V1101.2M1109.0,1179.3V1135.0M1110.7,1179.3V1158.0M1112.3,1179.3V1158.4M1114.0,1179.3V1136.8M1115.6,1179.3V1114.4M1117.3,1179.3V1154.6M1118.9,1179.3V1118.9M1120.6,1179.3V1118.2M1122.2,1179.3V1204.1M1123.9,1179.3V1122.1M1125.5,1179.3V1120.9M1127.2,1179.3V1141.1M1128.8,1179.3V1119.0M1130.5,1179.3V1160.7M1132.1,1179.3V1167.2M1133.7,1179.3V1102.6M1135.4,1179.3V1150.8M1137.0,1179.3V1133.1M1138.7,1179.3V1163.2M1140.3,1179.3V1141.3M1142.0,1179.3V1085.4M1143.6,1179.3V1111.9M1145.3,1179.3V1107.4M1146.9,1179.3V1029.3M1148.6,1179.3V1113.6M1150.2,1179.3V1111.7M1151.9,1179.3V1180.3M1153.5,1179.3V1111.2M1155.2,1179.3V1111.2M1156.8,1179.3V1019.6M1158.5,1179.3V1083.6M1160.1,1179.3V1189.2M1161.8,1179.3V1132.4M1163.4,1179.3V1098.9M1165.1,1179.3V1120.3M1166.7,1179.3V1139.0M1168.3,1179.3V1115.6M1170.0,1179.3V1109.9M1171.6,1179.3V1124.6M1173.3,1179.3V1137.1M1174.9,1179.3V1098.2M1176.6,1179.3V1100.2M1178.2,1179.3V1057.4M1179.9,1179.3V968.0M1181.5,1179.3V1211.2M1183.2,1179.3V1086.1M1184.8,1179.3V1120.6M1186.5,1179.3V1080.9M1188.1,1179.3V1052.9M1189.8,1179.3V1125.1M1191.4,1179.3V1117.5M1193.1,1179.3V1080.2M1194.7,1179.3V1094.5M1196.4,1179.3V1043.8M1198.0,1179.3V1176.8M1199.7,1179.3V1110.3M1201.3,1179.3V1122.5M1203.0,1179.3V1150.6M1204.6,1179.3V1098.9M1206.2,1179.3V1104.3M1207.9,1179.3V1096.4M1209.5,1179.3V1164.2M1211.2,1179.3V1077.2M1212.8,1179.3V1134.0M1214.5,1179.3V1106.4M1216.1,1179.3V1099.2M1217.8,1179.3V1121.8M1219.4,1179.3V1014.6M1221.1,1179.3V1127.6M1222.7,1179.3V1156.7M1224.4,1179.3V1139.3M1226.0,1179.3V1182.9M1227.7,1179.3V1145.0M1229.3,1179.3V1173.6M1231.0,1179.3V1171.9M1232.6,1179.3V1094.6M1234.3,1179.3V986.4M1235.9,1179.3V1121.7M1237.6,1179.3V1102.3M1239.2,1179.3V1130.0M1240.9,1179.3V1141.2M1242.5,1179.3V1070.9M1244.1,1179.3V1107.7M1245.8,1179.3V1089.7M1247.4,1179.3V1132.3M1249.1,1179.3V1107.0M1250.7,1179.3V1118.5M1252.4,1179.3V1096.7M1254.0,1179.3V1085.9M1255.7,1179.3V1105.4M1257.3,1179.3V1182.1M1259.0,1179.3V1081.3M1260.6,1179.3V1166.4M1262.3,1179.3V1115.8M1263.9,1179.3V1143.0M1265.6,1179.3V1091.9M1267.2,1179.3V1013.9M1268.9,1179.3V1150.0M1270.5,1179.3V1085.5M1272.2,1179.3V1155.8M1273.8,1179.3V1147.6M1275.5,1179.3V1120.1M1277.1,1179.3V1092.6M1278.7,1179.3V1109.9M1280.4,1179.3V1152.4M1282.0,1179.3V1002.8M1283.7,1179.3V1120.6M1285.3,1179.3V1124.7M1287.0,1179.3V1103.3M1288.6,1179.3V1081.5M1290.3,1179.3V1041.7M1291.9,1179.3V1080.9M1293.6,1179.3V1132.2M1295.2,1179.3V1093.6M1296.9,1179.3V1063.1M1298.5,1179.3V1124.6M1300.2,1179.3V1110.1M1301.8,1179.3V1104.0M1303.5,1179.3V1086.0M1305.1,1179.3V1113.8M1306.8,1179.3V1110.9M1308.4,1179.3V1161.0M1310.1,1179.3V1069.3M1311.7,1179.3V1083.7M1313.4,1179.3V1110.3M1315.0,1179.3V1086.2M1316.6,1179.3V1102.7M1318.3,1179.3V1084.0M1319.9,1179.3V1147.0M1321.6,1179.3V1167.3M1323.2,1179.3V1093.6M1324.9,1179.3V1088.7M1326.5,1179.3V1140.8M1328.2,1179.3V1126.8M1329.8,1179.3V1189.5M1331.5,1179.3V1065.2M1333.1,1179.3V1114.2M1334.8,1179.3V1154.1M1336.4,1179.3V1080.0M1338.1,1179.3V1166.8M1339.7,1179.3V947.0M1341.4,1179.3V1221.5M1343.0,1179.3V1059.4M1344.7,1179.3V1104.3M1346.3,1179.3V1123.2M1348.0,1179.3V1035.0M1349.6,1179.3V1143.2M1351.2,1179.3V1123.1M1352.9,1179.3V1057.2M1354.5,1179.3V1125.0M1356.2,1179.3V1092.6M1357.8,1179.3V1152.8M1359.5,1179.3V1129.8M1361.1,1179.3V1142.2M1362.8,1179.3V1121.3M1364.4,1179.3V1176.9M1366.1,1179.3V1110.2M1367.7,1179.3V1078.2M1369.4,1179.3V1097.8M1371.0,1179.3V1124.4M1372.7,1179.3V1156.0M1374.3,1179.3V1079.4M1376.0,1179.3V1109.6M1377.6,1179.3V1148.0M1379.3,1179.3V1139.6M1380.9,1179.3V1133.4M1382.6,1179.3V1128.3M1384.2,1179.3V1089.5M1385.9,1179.3V1101.8M1387.5,1179.3V1143.2M1389.1,1179.3V1090.2M1390.8,1179.3V1166.9M1392.4,1179.3V1155.7M1394.1,1179.3V1137.5M1395.7,1179.3V1150.1M1397.4,1179.3V1037.2M1399.0,1179.3V1142.2M1400.7,1179.3V1100.1M1402.3,1179.3V1104.7M1404.0,1179.3V1081.8M1405.6,1179.3V1122.5M1407.3,1179.3V1118.8M1408.9,1179.3V1133.3M1410.6,1179.3V1134.0M1412.2,1179.3V1213.3M1413.9,1179.3V1176.2M1415.5,1179.3V999.8M1417.2,1179.3V1126.1M1418.8,1179.3V1132.6M1420.5,1179.3V1033.6M1422.1,1179.3V1090.1M1423.7,1179.3V1162.8M1425.4,1179.3V1104.2M1427.0,1179.3V1138.4M1428.7,1179.3V1134.7M1430.3,1179.3V1137.2M1432.0,1179.3V1095.3M1433.6,1179.3V1136.9M1435.3,1179.3V1106.7M1436.9,1179.3V1064.7M1438.6,1179.3V1135.4M1440.2,1179.3V1084.7M1441.9,1179.3V1082.2M1443.5,1179.3V1095.6M1445.2,1179.3V1149.0M1446.8,1179.3V1132.3M1448.5,1179.3V1086.1M1450.1,1179.3V1071.5M1451.8,1179.3V1095.5M1453.4,1179.3V1137.4M1455.1,1179.3V1170.1M1456.7,1179.3V1083.2M1458.4,1179.3V1017.9M1460.0,1179.3V1152.3" stroke="#f1bcc3" stroke-width="0.9" fill="none"/>
<g fill="none" stroke-width="1.1"><circle cx="110.5" cy="1128.4" r="5.7" stroke="#2b9bb0"/><circle cx="110.5" cy="1099.7" r="5.7" stroke="#e08791"/><circle cx="112.1" cy="1131.0" r="5.7" stroke="#e08791"/><circle cx="112.1" cy="1149.2" r="5.7" stroke="#2b9bb0"/><circle cx="113.8" cy="1134.4" r="5.7" stroke="#e08791"/><circle cx="113.8" cy="1151.5" r="5.7" stroke="#2b9bb0"/><circle cx="115.4" cy="1165.3" r="5.7" stroke="#2b9bb0"/><circle cx="115.4" cy="1117.4" r="5.7" stroke="#e08791"/><circle cx="117.1" cy="1088.2" r="5.7" stroke="#e08791"/><circle cx="117.1" cy="1164.6" r="5.7" stroke="#2b9bb0"/><circle cx="118.7" cy="1241.3" r="5.7" stroke="#e08791"/><circle cx="118.7" cy="1162.7" r="5.7" stroke="#2b9bb0"/><circle cx="120.4" cy="1175.0" r="5.7" stroke="#2b9bb0"/><circle cx="120.4" cy="992.0" r="5.7" stroke="#e08791"/><circle cx="122.0" cy="1107.4" r="5.7" stroke="#e08791"/><circle cx="122.0" cy="1174.9" r="5.7" stroke="#2b9bb0"/><circle cx="123.7" cy="1097.9" r="5.7" stroke="#e08791"/><circle cx="123.7" cy="1145.7" r="5.7" stroke="#2b9bb0"/><circle cx="125.3" cy="1082.0" r="5.7" stroke="#e08791"/><circle cx="125.3" cy="1176.4" r="5.7" stroke="#2b9bb0"/><circle cx="127.0" cy="1160.4" r="5.7" stroke="#2b9bb0"/><circle cx="127.0" cy="1140.7" r="5.7" stroke="#e08791"/><circle cx="128.6" cy="1129.1" r="5.7" stroke="#2b9bb0"/><circle cx="128.6" cy="1145.0" r="5.7" stroke="#e08791"/><circle cx="130.3" cy="1232.9" r="5.7" stroke="#2b9bb0"/><circle cx="130.3" cy="1157.6" r="5.7" stroke="#e08791"/><circle cx="131.9" cy="1123.6" r="5.7" stroke="#e08791"/><circle cx="131.9" cy="1168.0" r="5.7" stroke="#2b9bb0"/><circle cx="133.6" cy="1148.6" r="5.7" stroke="#e08791"/><circle cx="133.6" cy="1188.6" r="5.7" stroke="#2b9bb0"/><circle cx="135.2" cy="1179.8" r="5.7" stroke="#2b9bb0"/><circle cx="135.2" cy="1073.1" r="5.7" stroke="#e08791"/><circle cx="136.9" cy="1145.7" r="5.7" stroke="#e08791"/><circle cx="136.9" cy="1088.5" r="5.7" stroke="#2b9bb0"/><circle cx="138.5" cy="1129.6" r="5.7" stroke="#e08791"/><circle cx="138.5" cy="1161.9" r="5.7" stroke="#2b9bb0"/><circle cx="140.2" cy="1070.3" r="5.7" stroke="#e08791"/><circle cx="140.2" cy="1156.9" r="5.7" stroke="#2b9bb0"/><circle cx="141.8" cy="1127.3" r="5.7" stroke="#e08791"/><circle cx="141.8" cy="1159.3" r="5.7" stroke="#2b9bb0"/><circle cx="143.5" cy="1149.7" r="5.7" stroke="#2b9bb0"/><circle cx="143.5" cy="1116.8" r="5.7" stroke="#e08791"/><circle cx="145.1" cy="1186.4" r="5.7" stroke="#2b9bb0"/><circle cx="145.1" cy="1123.9" r="5.7" stroke="#e08791"/><circle cx="146.8" cy="1095.3" r="5.7" stroke="#e08791"/><circle cx="146.8" cy="1123.9" r="5.7" stroke="#2b9bb0"/><circle cx="148.4" cy="1183.1" r="5.7" stroke="#2b9bb0"/><circle cx="148.4" cy="1075.9" r="5.7" stroke="#e08791"/><circle cx="150.0" cy="1192.9" r="5.7" stroke="#2b9bb0"/><circle cx="150.0" cy="1069.6" r="5.7" stroke="#e08791"/><circle cx="151.7" cy="1138.6" r="5.7" stroke="#2b9bb0"/><circle cx="151.7" cy="1121.9" r="5.7" stroke="#e08791"/><circle cx="153.3" cy="1153.0" r="5.7" stroke="#2b9bb0"/><circle cx="153.3" cy="1124.5" r="5.7" stroke="#e08791"/><circle cx="155.0" cy="1177.7" r="5.7" stroke="#2b9bb0"/><circle cx="155.0" cy="1190.2" r="5.7" stroke="#e08791"/><circle cx="156.6" cy="1177.9" r="5.7" stroke="#2b9bb0"/><circle cx="156.6" cy="1156.6" r="5.7" stroke="#e08791"/><circle cx="158.3" cy="1035.3" r="5.7" stroke="#e08791"/><circle cx="158.3" cy="1105.1" r="5.7" stroke="#2b9bb0"/><circle cx="159.9" cy="1135.3" r="5.7" stroke="#e08791"/><circle cx="159.9" cy="1148.8" r="5.7" stroke="#2b9bb0"/><circle cx="161.6" cy="1106.1" r="5.7" stroke="#e08791"/><circle cx="161.6" cy="1148.7" r="5.7" stroke="#2b9bb0"/><circle cx="163.2" cy="1154.9" r="5.7" stroke="#2b9bb0"/><circle cx="163.2" cy="1123.7" r="5.7" stroke="#e08791"/><circle cx="164.9" cy="1128.6" r="5.7" stroke="#e08791"/><circle cx="164.9" cy="1125.9" r="5.7" stroke="#2b9bb0"/><circle cx="166.5" cy="1167.4" r="5.7" stroke="#2b9bb0"/><circle cx="166.5" cy="1119.3" r="5.7" stroke="#e08791"/><circle cx="168.2" cy="1083.0" r="5.7" stroke="#2b9bb0"/><circle cx="168.2" cy="1101.6" r="5.7" stroke="#e08791"/><circle cx="169.8" cy="1136.6" r="5.7" stroke="#e08791"/><circle cx="169.8" cy="1154.1" r="5.7" stroke="#2b9bb0"/><circle cx="171.5" cy="1129.4" r="5.7" stroke="#e08791"/><circle cx="171.5" cy="1112.7" r="5.7" stroke="#2b9bb0"/><circle cx="173.1" cy="1090.3" r="5.7" stroke="#e08791"/><circle cx="173.1" cy="1163.5" r="5.7" stroke="#2b9bb0"/><circle cx="174.8" cy="1089.1" r="5.7" stroke="#e08791"/><circle cx="174.8" cy="1204.0" r="5.7" stroke="#2b9bb0"/><circle cx="176.4" cy="1164.2" r="5.7" stroke="#2b9bb0"/><circle cx="176.4" cy="1118.3" r="5.7" stroke="#e08791"/><circle cx="178.1" cy="1151.4" r="5.7" stroke="#2b9bb0"/><circle cx="178.1" cy="1111.2" r="5.7" stroke="#e08791"/><circle cx="179.7" cy="1084.0" r="5.7" stroke="#2b9bb0"/><circle cx="179.7" cy="1149.9" r="5.7" stroke="#e08791"/><circle cx="181.4" cy="1111.7" r="5.7" stroke="#2b9bb0"/><circle cx="181.4" cy="1033.2" r="5.7" stroke="#e08791"/><circle cx="183.0" cy="1151.4" r="5.7" stroke="#e08791"/><circle cx="183.0" cy="1157.4" r="5.7" stroke="#2b9bb0"/><circle cx="184.6" cy="1237.0" r="5.7" stroke="#2b9bb0"/><circle cx="184.6" cy="1128.4" r="5.7" stroke="#e08791"/><circle cx="186.3" cy="1218.0" r="5.7" stroke="#e08791"/><circle cx="186.3" cy="1002.5" r="5.7" stroke="#2b9bb0"/><circle cx="187.9" cy="1152.9" r="5.7" stroke="#2b9bb0"/><circle cx="187.9" cy="1222.8" r="5.7" stroke="#e08791"/><circle cx="189.6" cy="1105.2" r="5.7" stroke="#e08791"/><circle cx="189.6" cy="1119.9" r="5.7" stroke="#2b9bb0"/><circle cx="191.2" cy="1157.0" r="5.7" stroke="#e08791"/><circle cx="191.2" cy="1152.1" r="5.7" stroke="#2b9bb0"/><circle cx="192.9" cy="1022.5" r="5.7" stroke="#2b9bb0"/><circle cx="192.9" cy="1136.0" r="5.7" stroke="#e08791"/><circle cx="194.5" cy="1153.1" r="5.7" stroke="#2b9bb0"/><circle cx="194.5" cy="1142.4" r="5.7" stroke="#e08791"/><circle cx="196.2" cy="1099.9" r="5.7" stroke="#e08791"/><circle cx="196.2" cy="1212.4" r="5.7" stroke="#2b9bb0"/><circle cx="197.8" cy="1167.0" r="5.7" stroke="#2b9bb0"/><circle cx="197.8" cy="1080.1" r="5.7" stroke="#e08791"/><circle cx="199.5" cy="1087.6" r="5.7" stroke="#e08791"/><circle cx="199.5" cy="1178.9" r="5.7" stroke="#2b9bb0"/><circle cx="201.1" cy="1212.0" r="5.7" stroke="#2b9bb0"/><circle cx="201.1" cy="1072.9" r="5.7" stroke="#e08791"/><circle cx="202.8" cy="1158.6" r="5.7" stroke="#2b9bb0"/><circle cx="202.8" cy="1139.0" r="5.7" stroke="#e08791"/><circle cx="204.4" cy="1206.2" r="5.7" stroke="#e08791"/><circle cx="204.4" cy="1133.0" r="5.7" stroke="#2b9bb0"/><circle cx="206.1" cy="1031.6" r="5.7" stroke="#e08791"/><circle cx="206.1" cy="1164.8" r="5.7" stroke="#2b9bb0"/><circle cx="207.7" cy="1138.8" r="5.7" stroke="#2b9bb0"/><circle cx="207.7" cy="1130.1" r="5.7" stroke="#e08791"/><circle cx="209.4" cy="1064.1" r="5.7" stroke="#2b9bb0"/><circle cx="209.4" cy="1137.8" r="5.7" stroke="#e08791"/><circle cx="211.0" cy="1135.5" r="5.7" stroke="#2b9bb0"/><circle cx="211.0" cy="1116.8" r="5.7" stroke="#e08791"/><circle cx="212.7" cy="1057.9" r="5.7" stroke="#e08791"/><circle cx="212.7" cy="1168.4" r="5.7" stroke="#2b9bb0"/><circle cx="214.3" cy="1093.2" r="5.7" stroke="#e08791"/><circle cx="214.3" cy="1152.2" r="5.7" stroke="#2b9bb0"/><circle cx="216.0" cy="1168.3" r="5.7" stroke="#2b9bb0"/><circle cx="216.0" cy="1118.9" r="5.7" stroke="#e08791"/><circle cx="217.6" cy="1162.0" r="5.7" stroke="#2b9bb0"/><circle cx="217.6" cy="1148.6" r="5.7" stroke="#e08791"/><circle cx="219.3" cy="1165.5" r="5.7" stroke="#2b9bb0"/><circle cx="219.3" cy="1121.4" r="5.7" stroke="#e08791"/><circle cx="220.9" cy="1116.6" r="5.7" stroke="#2b9bb0"/><circle cx="220.9" cy="1132.7" r="5.7" stroke="#e08791"/><circle cx="222.5" cy="1120.3" r="5.7" stroke="#e08791"/><circle cx="222.5" cy="1204.9" r="5.7" stroke="#2b9bb0"/><circle cx="224.2" cy="1156.0" r="5.7" stroke="#2b9bb0"/><circle cx="224.2" cy="1159.2" r="5.7" stroke="#e08791"/><circle cx="225.8" cy="1156.8" r="5.7" stroke="#e08791"/><circle cx="225.8" cy="1030.6" r="5.7" stroke="#2b9bb0"/><circle cx="227.5" cy="1160.4" r="5.7" stroke="#2b9bb0"/><circle cx="227.5" cy="1022.2" r="5.7" stroke="#e08791"/><circle cx="229.1" cy="1170.2" r="5.7" stroke="#2b9bb0"/><circle cx="229.1" cy="1072.1" r="5.7" stroke="#e08791"/><circle cx="230.8" cy="1134.9" r="5.7" stroke="#e08791"/><circle cx="230.8" cy="1151.9" r="5.7" stroke="#2b9bb0"/><circle cx="232.4" cy="1178.0" r="5.7" stroke="#2b9bb0"/><circle cx="232.4" cy="1149.0" r="5.7" stroke="#e08791"/><circle cx="234.1" cy="1168.9" r="5.7" stroke="#e08791"/><circle cx="234.1" cy="1125.8" r="5.7" stroke="#2b9bb0"/><circle cx="235.7" cy="1059.8" r="5.7" stroke="#2b9bb0"/><circle cx="235.7" cy="1231.2" r="5.7" stroke="#e08791"/><circle cx="237.4" cy="1205.2" r="5.7" stroke="#2b9bb0"/><circle cx="237.4" cy="1077.1" r="5.7" stroke="#e08791"/><circle cx="239.0" cy="1143.7" r="5.7" stroke="#2b9bb0"/><circle cx="239.0" cy="1156.2" r="5.7" stroke="#e08791"/><circle cx="240.7" cy="1122.1" r="5.7" stroke="#2b9bb0"/><circle cx="240.7" cy="1143.8" r="5.7" stroke="#e08791"/><circle cx="242.3" cy="1129.5" r="5.7" stroke="#e08791"/><circle cx="242.3" cy="1153.5" r="5.7" stroke="#2b9bb0"/><circle cx="244.0" cy="1134.9" r="5.7" stroke="#e08791"/><circle cx="244.0" cy="1206.9" r="5.7" stroke="#2b9bb0"/><circle cx="245.6" cy="1155.7" r="5.7" stroke="#2b9bb0"/><circle cx="245.6" cy="1237.9" r="5.7" stroke="#e08791"/><circle cx="247.3" cy="1120.1" r="5.7" stroke="#e08791"/><circle cx="247.3" cy="1172.7" r="5.7" stroke="#2b9bb0"/><circle cx="248.9" cy="1177.2" r="5.7" stroke="#2b9bb0"/><circle cx="248.9" cy="1078.6" r="5.7" stroke="#e08791"/><circle cx="250.6" cy="1169.4" r="5.7" stroke="#2b9bb0"/><circle cx="250.6" cy="1091.2" r="5.7" stroke="#e08791"/><circle cx="252.2" cy="1082.7" r="5.7" stroke="#e08791"/><circle cx="252.2" cy="1142.8" r="5.7" stroke="#2b9bb0"/><circle cx="253.9" cy="1086.1" r="5.7" stroke="#e08791"/><circle cx="253.9" cy="1186.0" r="5.7" stroke="#2b9bb0"/><circle cx="255.5" cy="1144.1" r="5.7" stroke="#2b9bb0"/><circle cx="255.5" cy="1093.0" r="5.7" stroke="#e08791"/><circle cx="257.1" cy="1139.9" r="5.7" stroke="#e08791"/><circle cx="257.1" cy="1139.0" r="5.7" stroke="#2b9bb0"/><circle cx="258.8" cy="990.0" r="5.7" stroke="#2b9bb0"/><circle cx="258.8" cy="1134.5" r="5.7" stroke="#e08791"/><circle cx="260.4" cy="1149.2" r="5.7" stroke="#2b9bb0"/><circle cx="260.4" cy="1110.3" r="5.7" stroke="#e08791"/><circle cx="262.1" cy="1100.3" r="5.7" stroke="#e08791"/><circle cx="262.1" cy="1161.7" r="5.7" stroke="#2b9bb0"/><circle cx="263.7" cy="1138.0" r="5.7" stroke="#2b9bb0"/><circle cx="263.7" cy="1091.1" r="5.7" stroke="#e08791"/><circle cx="265.4" cy="1169.0" r="5.7" stroke="#2b9bb0"/><circle cx="265.4" cy="1121.8" r="5.7" stroke="#e08791"/><circle cx="267.0" cy="1088.1" r="5.7" stroke="#2b9bb0"/><circle cx="267.0" cy="1130.3" r="5.7" stroke="#e08791"/><circle cx="268.7" cy="1151.0" r="5.7" stroke="#2b9bb0"/><circle cx="268.7" cy="1155.3" r="5.7" stroke="#e08791"/><circle cx="270.3" cy="1110.2" r="5.7" stroke="#e08791"/><circle cx="270.3" cy="1134.4" r="5.7" stroke="#2b9bb0"/><circle cx="272.0" cy="1170.2" r="5.7" stroke="#2b9bb0"/><circle cx="272.0" cy="1127.2" r="5.7" stroke="#e08791"/><circle cx="273.6" cy="1146.7" r="5.7" stroke="#e08791"/><circle cx="273.6" cy="1149.1" r="5.7" stroke="#2b9bb0"/><circle cx="275.3" cy="1150.1" r="5.7" stroke="#2b9bb0"/><circle cx="275.3" cy="998.0" r="5.7" stroke="#e08791"/><circle cx="276.9" cy="1146.9" r="5.7" stroke="#2b9bb0"/><circle cx="276.9" cy="1028.0" r="5.7" stroke="#e08791"/><circle cx="278.6" cy="1123.1" r="5.7" stroke="#e08791"/><circle cx="278.6" cy="1136.2" r="5.7" stroke="#2b9bb0"/><circle cx="280.2" cy="1199.8" r="5.7" stroke="#2b9bb0"/><circle cx="280.2" cy="1145.8" r="5.7" stroke="#e08791"/><circle cx="281.9" cy="1116.7" r="5.7" stroke="#e08791"/><circle cx="281.9" cy="1136.0" r="5.7" stroke="#2b9bb0"/><circle cx="283.5" cy="1129.7" r="5.7" stroke="#e08791"/><circle cx="283.5" cy="1173.9" r="5.7" stroke="#2b9bb0"/><circle cx="285.2" cy="1157.3" r="5.7" stroke="#2b9bb0"/><circle cx="285.2" cy="1101.9" r="5.7" stroke="#e08791"/><circle cx="286.8" cy="1160.4" r="5.7" stroke="#2b9bb0"/><circle cx="286.8" cy="1124.4" r="5.7" stroke="#e08791"/><circle cx="288.5" cy="1119.3" r="5.7" stroke="#e08791"/><circle cx="288.5" cy="1151.8" r="5.7" stroke="#2b9bb0"/><circle cx="290.1" cy="1085.9" r="5.7" stroke="#e08791"/><circle cx="290.1" cy="1174.8" r="5.7" stroke="#2b9bb0"/><circle cx="291.8" cy="1185.1" r="5.7" stroke="#2b9bb0"/><circle cx="291.8" cy="1066.9" r="5.7" stroke="#e08791"/><circle cx="293.4" cy="1159.3" r="5.7" stroke="#2b9bb0"/><circle cx="293.4" cy="1007.9" r="5.7" stroke="#e08791"/><circle cx="295.0" cy="1131.1" r="5.7" stroke="#e08791"/><circle cx="295.0" cy="1124.4" r="5.7" stroke="#2b9bb0"/><circle cx="296.7" cy="1118.2" r="5.7" stroke="#e08791"/><circle cx="296.7" cy="1166.5" r="5.7" stroke="#2b9bb0"/><circle cx="298.3" cy="1129.3" r="5.7" stroke="#2b9bb0"/><circle cx="298.3" cy="1097.5" r="5.7" stroke="#e08791"/><circle cx="300.0" cy="1043.2" r="5.7" stroke="#e08791"/><circle cx="300.0" cy="1190.3" r="5.7" stroke="#2b9bb0"/><circle cx="301.6" cy="948.0" r="5.7" stroke="#e08791"/><circle cx="301.6" cy="1152.7" r="5.7" stroke="#2b9bb0"/><circle cx="303.3" cy="1105.2" r="5.7" stroke="#e08791"/><circle cx="303.3" cy="1179.9" r="5.7" stroke="#2b9bb0"/><circle cx="304.9" cy="1178.8" r="5.7" stroke="#2b9bb0"/><circle cx="304.9" cy="1138.5" r="5.7" stroke="#e08791"/><circle cx="306.6" cy="1181.8" r="5.7" stroke="#2b9bb0"/><circle cx="306.6" cy="1124.7" r="5.7" stroke="#e08791"/><circle cx="308.2" cy="1140.1" r="5.7" stroke="#2b9bb0"/><circle cx="308.2" cy="1080.8" r="5.7" stroke="#e08791"/><circle cx="309.9" cy="1128.9" r="5.7" stroke="#e08791"/><circle cx="309.9" cy="1118.6" r="5.7" stroke="#2b9bb0"/><circle cx="311.5" cy="1159.1" r="5.7" stroke="#2b9bb0"/><circle cx="311.5" cy="1090.7" r="5.7" stroke="#e08791"/><circle cx="313.2" cy="1144.4" r="5.7" stroke="#e08791"/><circle cx="313.2" cy="1190.4" r="5.7" stroke="#2b9bb0"/><circle cx="314.8" cy="1264.0" r="5.7" stroke="#2b9bb0"/><circle cx="314.8" cy="1109.8" r="5.7" stroke="#e08791"/><circle cx="316.5" cy="1136.9" r="5.7" stroke="#e08791"/><circle cx="316.5" cy="1127.4" r="5.7" stroke="#2b9bb0"/><circle cx="318.1" cy="1129.4" r="5.7" stroke="#e08791"/><circle cx="318.1" cy="1121.5" r="5.7" stroke="#2b9bb0"/><circle cx="319.8" cy="1128.6" r="5.7" stroke="#2b9bb0"/><circle cx="319.8" cy="1133.2" r="5.7" stroke="#e08791"/><circle cx="321.4" cy="1122.5" r="5.7" stroke="#2b9bb0"/><circle cx="321.4" cy="1079.0" r="5.7" stroke="#e08791"/><circle cx="323.1" cy="1189.5" r="5.7" stroke="#e08791"/><circle cx="323.1" cy="1195.6" r="5.7" stroke="#2b9bb0"/><circle cx="324.7" cy="1144.3" r="5.7" stroke="#2b9bb0"/><circle cx="324.7" cy="1217.8" r="5.7" stroke="#e08791"/><circle cx="326.4" cy="1160.3" r="5.7" stroke="#2b9bb0"/><circle cx="326.4" cy="1105.4" r="5.7" stroke="#e08791"/><circle cx="328.0" cy="1195.4" r="5.7" stroke="#e08791"/><circle cx="328.0" cy="1163.5" r="5.7" stroke="#2b9bb0"/><circle cx="329.6" cy="1185.0" r="5.7" stroke="#e08791"/><circle cx="329.6" cy="1157.6" r="5.7" stroke="#2b9bb0"/><circle cx="331.3" cy="1097.4" r="5.7" stroke="#e08791"/><circle cx="331.3" cy="1170.7" r="5.7" stroke="#2b9bb0"/><circle cx="332.9" cy="1153.7" r="5.7" stroke="#2b9bb0"/><circle cx="332.9" cy="1156.1" r="5.7" stroke="#e08791"/><circle cx="334.6" cy="1138.4" r="5.7" stroke="#e08791"/><circle cx="334.6" cy="1195.3" r="5.7" stroke="#2b9bb0"/><circle cx="336.2" cy="1181.9" r="5.7" stroke="#2b9bb0"/><circle cx="336.2" cy="1103.2" r="5.7" stroke="#e08791"/><circle cx="337.9" cy="1070.3" r="5.7" stroke="#2b9bb0"/><circle cx="337.9" cy="1040.8" r="5.7" stroke="#e08791"/><circle cx="339.5" cy="1103.3" r="5.7" stroke="#2b9bb0"/><circle cx="339.5" cy="1207.8" r="5.7" stroke="#e08791"/><circle cx="341.2" cy="1147.1" r="5.7" stroke="#2b9bb0"/><circle cx="341.2" cy="1145.3" r="5.7" stroke="#e08791"/><circle cx="342.8" cy="1074.2" r="5.7" stroke="#2b9bb0"/><circle cx="342.8" cy="1112.2" r="5.7" stroke="#e08791"/><circle cx="344.5" cy="1147.0" r="5.7" stroke="#2b9bb0"/><circle cx="344.5" cy="1144.9" r="5.7" stroke="#e08791"/><circle cx="346.1" cy="1124.0" r="5.7" stroke="#2b9bb0"/><circle cx="346.1" cy="1192.5" r="5.7" stroke="#e08791"/><circle cx="347.8" cy="1253.0" r="5.7" stroke="#e08791"/><circle cx="347.8" cy="1134.7" r="5.7" stroke="#2b9bb0"/><circle cx="349.4" cy="1143.8" r="5.7" stroke="#2b9bb0"/><circle cx="349.4" cy="1079.3" r="5.7" stroke="#e08791"/><circle cx="351.1" cy="1169.7" r="5.7" stroke="#2b9bb0"/><circle cx="351.1" cy="1139.0" r="5.7" stroke="#e08791"/><circle cx="352.7" cy="1088.1" r="5.7" stroke="#e08791"/><circle cx="352.7" cy="1165.6" r="5.7" stroke="#2b9bb0"/><circle cx="354.4" cy="1103.9" r="5.7" stroke="#e08791"/><circle cx="354.4" cy="1227.4" r="5.7" stroke="#2b9bb0"/><circle cx="356.0" cy="1136.0" r="5.7" stroke="#e08791"/><circle cx="356.0" cy="1127.6" r="5.7" stroke="#2b9bb0"/><circle cx="357.7" cy="1113.8" r="5.7" stroke="#e08791"/><circle cx="357.7" cy="1050.2" r="5.7" stroke="#2b9bb0"/><circle cx="359.3" cy="1107.4" r="5.7" stroke="#e08791"/><circle cx="359.3" cy="1001.7" r="5.7" stroke="#2b9bb0"/><circle cx="361.0" cy="1143.7" r="5.7" stroke="#2b9bb0"/><circle cx="361.0" cy="1112.1" r="5.7" stroke="#e08791"/><circle cx="362.6" cy="1367.0" r="5.7" stroke="#2b9bb0"/><circle cx="362.6" cy="1106.2" r="5.7" stroke="#e08791"/><circle cx="364.3" cy="1179.6" r="5.7" stroke="#2b9bb0"/><circle cx="364.3" cy="1087.5" r="5.7" stroke="#e08791"/><circle cx="365.9" cy="1152.3" r="5.7" stroke="#e08791"/><circle cx="365.9" cy="1158.4" r="5.7" stroke="#2b9bb0"/><circle cx="367.5" cy="1137.4" r="5.7" stroke="#e08791"/><circle cx="367.5" cy="1096.6" r="5.7" stroke="#2b9bb0"/><circle cx="369.2" cy="1164.1" r="5.7" stroke="#e08791"/><circle cx="369.2" cy="1187.9" r="5.7" stroke="#2b9bb0"/><circle cx="370.8" cy="1132.2" r="5.7" stroke="#2b9bb0"/><circle cx="370.8" cy="1124.0" r="5.7" stroke="#e08791"/><circle cx="372.5" cy="1194.6" r="5.7" stroke="#e08791"/><circle cx="372.5" cy="1193.0" r="5.7" stroke="#2b9bb0"/><circle cx="374.1" cy="1201.6" r="5.7" stroke="#2b9bb0"/><circle cx="374.1" cy="1139.9" r="5.7" stroke="#e08791"/><circle cx="375.8" cy="1095.3" r="5.7" stroke="#e08791"/><circle cx="375.8" cy="1018.3" r="5.7" stroke="#2b9bb0"/><circle cx="377.4" cy="1155.0" r="5.7" stroke="#2b9bb0"/><circle cx="377.4" cy="1019.8" r="5.7" stroke="#e08791"/><circle cx="379.1" cy="1104.3" r="5.7" stroke="#e08791"/><circle cx="379.1" cy="1132.3" r="5.7" stroke="#2b9bb0"/><circle cx="380.7" cy="1152.7" r="5.7" stroke="#2b9bb0"/><circle cx="380.7" cy="1040.1" r="5.7" stroke="#e08791"/><circle cx="382.4" cy="1156.4" r="5.7" stroke="#e08791"/><circle cx="382.4" cy="1151.7" r="5.7" stroke="#2b9bb0"/><circle cx="384.0" cy="1046.2" r="5.7" stroke="#e08791"/><circle cx="384.0" cy="1171.2" r="5.7" stroke="#2b9bb0"/><circle cx="385.7" cy="1124.8" r="5.7" stroke="#e08791"/><circle cx="385.7" cy="1122.8" r="5.7" stroke="#2b9bb0"/><circle cx="387.3" cy="1092.2" r="5.7" stroke="#e08791"/><circle cx="387.3" cy="1143.2" r="5.7" stroke="#2b9bb0"/><circle cx="389.0" cy="1117.8" r="5.7" stroke="#e08791"/><circle cx="389.0" cy="1124.8" r="5.7" stroke="#2b9bb0"/><circle cx="390.6" cy="1195.6" r="5.7" stroke="#e08791"/><circle cx="390.6" cy="1141.0" r="5.7" stroke="#2b9bb0"/><circle cx="392.3" cy="1060.0" r="5.7" stroke="#e08791"/><circle cx="392.3" cy="1154.0" r="5.7" stroke="#2b9bb0"/><circle cx="393.9" cy="1128.7" r="5.7" stroke="#2b9bb0"/><circle cx="393.9" cy="1050.3" r="5.7" stroke="#e08791"/><circle cx="395.6" cy="1119.6" r="5.7" stroke="#e08791"/><circle cx="395.6" cy="990.0" r="5.7" stroke="#2b9bb0"/><circle cx="397.2" cy="1080.1" r="5.7" stroke="#e08791"/><circle cx="397.2" cy="1121.5" r="5.7" stroke="#2b9bb0"/><circle cx="398.9" cy="1163.0" r="5.7" stroke="#e08791"/><circle cx="398.9" cy="1138.6" r="5.7" stroke="#2b9bb0"/><circle cx="400.5" cy="1181.8" r="5.7" stroke="#2b9bb0"/><circle cx="400.5" cy="1126.7" r="5.7" stroke="#e08791"/><circle cx="402.2" cy="1225.8" r="5.7" stroke="#e08791"/><circle cx="402.2" cy="1169.3" r="5.7" stroke="#2b9bb0"/><circle cx="403.8" cy="1122.7" r="5.7" stroke="#e08791"/><circle cx="403.8" cy="1050.3" r="5.7" stroke="#2b9bb0"/><circle cx="405.4" cy="1148.6" r="5.7" stroke="#e08791"/><circle cx="405.4" cy="1184.1" r="5.7" stroke="#2b9bb0"/><circle cx="407.1" cy="1086.6" r="5.7" stroke="#e08791"/><circle cx="407.1" cy="1138.4" r="5.7" stroke="#2b9bb0"/><circle cx="408.7" cy="1157.1" r="5.7" stroke="#2b9bb0"/><circle cx="408.7" cy="1108.4" r="5.7" stroke="#e08791"/><circle cx="410.4" cy="1173.1" r="5.7" stroke="#e08791"/><circle cx="410.4" cy="1112.5" r="5.7" stroke="#2b9bb0"/><circle cx="412.0" cy="957.3" r="5.7" stroke="#e08791"/><circle cx="412.0" cy="1125.0" r="5.7" stroke="#2b9bb0"/><circle cx="413.7" cy="1169.7" r="5.7" stroke="#2b9bb0"/><circle cx="413.7" cy="1079.9" r="5.7" stroke="#e08791"/><circle cx="415.3" cy="1144.7" r="5.7" stroke="#e08791"/><circle cx="415.3" cy="1139.9" r="5.7" stroke="#2b9bb0"/><circle cx="417.0" cy="1100.7" r="5.7" stroke="#e08791"/><circle cx="417.0" cy="1154.7" r="5.7" stroke="#2b9bb0"/><circle cx="418.6" cy="1236.8" r="5.7" stroke="#e08791"/><circle cx="418.6" cy="1229.5" r="5.7" stroke="#2b9bb0"/><circle cx="420.3" cy="1100.8" r="5.7" stroke="#e08791"/><circle cx="420.3" cy="1192.9" r="5.7" stroke="#2b9bb0"/><circle cx="421.9" cy="1079.7" r="5.7" stroke="#2b9bb0"/><circle cx="421.9" cy="1152.0" r="5.7" stroke="#e08791"/><circle cx="423.6" cy="1119.6" r="5.7" stroke="#e08791"/><circle cx="423.6" cy="1192.0" r="5.7" stroke="#2b9bb0"/><circle cx="425.2" cy="1105.5" r="5.7" stroke="#e08791"/><circle cx="425.2" cy="1190.8" r="5.7" stroke="#2b9bb0"/><circle cx="426.9" cy="1135.5" r="5.7" stroke="#2b9bb0"/><circle cx="426.9" cy="1063.8" r="5.7" stroke="#e08791"/><circle cx="428.5" cy="1103.0" r="5.7" stroke="#e08791"/><circle cx="428.5" cy="1167.3" r="5.7" stroke="#2b9bb0"/><circle cx="430.2" cy="1159.1" r="5.7" stroke="#2b9bb0"/><circle cx="430.2" cy="1208.1" r="5.7" stroke="#e08791"/><circle cx="431.8" cy="1149.1" r="5.7" stroke="#e08791"/><circle cx="431.8" cy="1153.2" r="5.7" stroke="#2b9bb0"/><circle cx="433.5" cy="1096.1" r="5.7" stroke="#2b9bb0"/><circle cx="433.5" cy="1189.1" r="5.7" stroke="#e08791"/><circle cx="435.1" cy="1196.4" r="5.7" stroke="#e08791"/><circle cx="435.1" cy="1060.9" r="5.7" stroke="#2b9bb0"/><circle cx="436.8" cy="1207.0" r="5.7" stroke="#2b9bb0"/><circle cx="436.8" cy="1113.0" r="5.7" stroke="#e08791"/><circle cx="438.4" cy="1111.9" r="5.7" stroke="#2b9bb0"/><circle cx="438.4" cy="1121.6" r="5.7" stroke="#e08791"/><circle cx="440.0" cy="1118.6" r="5.7" stroke="#e08791"/><circle cx="440.0" cy="1185.7" r="5.7" stroke="#2b9bb0"/><circle cx="441.7" cy="1124.9" r="5.7" stroke="#2b9bb0"/><circle cx="441.7" cy="1157.2" r="5.7" stroke="#e08791"/><circle cx="443.3" cy="1123.9" r="5.7" stroke="#e08791"/><circle cx="443.3" cy="1172.1" r="5.7" stroke="#2b9bb0"/><circle cx="445.0" cy="1148.8" r="5.7" stroke="#e08791"/><circle cx="445.0" cy="1203.2" r="5.7" stroke="#2b9bb0"/><circle cx="446.6" cy="1161.6" r="5.7" stroke="#2b9bb0"/><circle cx="446.6" cy="1000.4" r="5.7" stroke="#e08791"/><circle cx="448.3" cy="1154.7" r="5.7" stroke="#2b9bb0"/><circle cx="448.3" cy="1170.1" r="5.7" stroke="#e08791"/><circle cx="449.9" cy="1139.3" r="5.7" stroke="#2b9bb0"/><circle cx="449.9" cy="1159.4" r="5.7" stroke="#e08791"/><circle cx="451.6" cy="1099.7" r="5.7" stroke="#e08791"/><circle cx="451.6" cy="1182.5" r="5.7" stroke="#2b9bb0"/><circle cx="453.2" cy="1180.9" r="5.7" stroke="#2b9bb0"/><circle cx="453.2" cy="1074.7" r="5.7" stroke="#e08791"/><circle cx="454.9" cy="1154.7" r="5.7" stroke="#2b9bb0"/><circle cx="454.9" cy="1090.2" r="5.7" stroke="#e08791"/><circle cx="456.5" cy="1051.7" r="5.7" stroke="#e08791"/><circle cx="456.5" cy="1142.0" r="5.7" stroke="#2b9bb0"/><circle cx="458.2" cy="1089.7" r="5.7" stroke="#e08791"/><circle cx="458.2" cy="1156.3" r="5.7" stroke="#2b9bb0"/><circle cx="459.8" cy="1212.1" r="5.7" stroke="#2b9bb0"/><circle cx="459.8" cy="1175.3" r="5.7" stroke="#e08791"/><circle cx="461.5" cy="1100.8" r="5.7" stroke="#e08791"/><circle cx="461.5" cy="1094.5" r="5.7" stroke="#2b9bb0"/><circle cx="463.1" cy="1132.5" r="5.7" stroke="#2b9bb0"/><circle cx="463.1" cy="1174.9" r="5.7" stroke="#e08791"/><circle cx="464.8" cy="1051.6" r="5.7" stroke="#e08791"/><circle cx="464.8" cy="1062.3" r="5.7" stroke="#2b9bb0"/><circle cx="466.4" cy="1145.5" r="5.7" stroke="#2b9bb0"/><circle cx="466.4" cy="1062.1" r="5.7" stroke="#e08791"/><circle cx="468.1" cy="1166.6" r="5.7" stroke="#2b9bb0"/><circle cx="468.1" cy="1193.5" r="5.7" stroke="#e08791"/><circle cx="469.7" cy="1138.3" r="5.7" stroke="#e08791"/><circle cx="469.7" cy="1150.1" r="5.7" stroke="#2b9bb0"/><circle cx="471.4" cy="1102.9" r="5.7" stroke="#e08791"/><circle cx="471.4" cy="1154.0" r="5.7" stroke="#2b9bb0"/><circle cx="473.0" cy="1120.1" r="5.7" stroke="#e08791"/><circle cx="473.0" cy="1147.3" r="5.7" stroke="#2b9bb0"/><circle cx="474.7" cy="1162.9" r="5.7" stroke="#2b9bb0"/><circle cx="474.7" cy="1101.2" r="5.7" stroke="#e08791"/><circle cx="476.3" cy="1127.4" r="5.7" stroke="#e08791"/><circle cx="476.3" cy="1185.8" r="5.7" stroke="#2b9bb0"/><circle cx="477.9" cy="1162.9" r="5.7" stroke="#2b9bb0"/><circle cx="477.9" cy="1137.2" r="5.7" stroke="#e08791"/><circle cx="479.6" cy="1136.3" r="5.7" stroke="#2b9bb0"/><circle cx="479.6" cy="1152.5" r="5.7" stroke="#e08791"/><circle cx="481.2" cy="1194.2" r="5.7" stroke="#2b9bb0"/><circle cx="481.2" cy="1131.6" r="5.7" stroke="#e08791"/><circle cx="482.9" cy="994.0" r="5.7" stroke="#e08791"/><circle cx="482.9" cy="1132.4" r="5.7" stroke="#2b9bb0"/><circle cx="484.5" cy="1123.4" r="5.7" stroke="#e08791"/><circle cx="484.5" cy="1057.3" r="5.7" stroke="#2b9bb0"/><circle cx="486.2" cy="1121.3" r="5.7" stroke="#e08791"/><circle cx="486.2" cy="1136.4" r="5.7" stroke="#2b9bb0"/><circle cx="487.8" cy="1146.0" r="5.7" stroke="#e08791"/><circle cx="487.8" cy="1185.8" r="5.7" stroke="#2b9bb0"/><circle cx="489.5" cy="1165.3" r="5.7" stroke="#2b9bb0"/><circle cx="489.5" cy="1091.2" r="5.7" stroke="#e08791"/><circle cx="491.1" cy="1155.4" r="5.7" stroke="#2b9bb0"/><circle cx="491.1" cy="1140.6" r="5.7" stroke="#e08791"/><circle cx="492.8" cy="1159.9" r="5.7" stroke="#2b9bb0"/><circle cx="492.8" cy="1111.8" r="5.7" stroke="#e08791"/><circle cx="494.4" cy="1158.1" r="5.7" stroke="#2b9bb0"/><circle cx="494.4" cy="1105.4" r="5.7" stroke="#e08791"/><circle cx="496.1" cy="1106.2" r="5.7" stroke="#2b9bb0"/><circle cx="496.1" cy="1019.5" r="5.7" stroke="#e08791"/><circle cx="497.7" cy="1038.2" r="5.7" stroke="#2b9bb0"/><circle cx="497.7" cy="1102.4" r="5.7" stroke="#e08791"/><circle cx="499.4" cy="1097.0" r="5.7" stroke="#e08791"/><circle cx="499.4" cy="1121.4" r="5.7" stroke="#2b9bb0"/><circle cx="501.0" cy="1190.0" r="5.7" stroke="#2b9bb0"/><circle cx="501.0" cy="1093.2" r="5.7" stroke="#e08791"/><circle cx="502.7" cy="1138.9" r="5.7" stroke="#2b9bb0"/><circle cx="502.7" cy="1152.7" r="5.7" stroke="#e08791"/><circle cx="504.3" cy="1123.4" r="5.7" stroke="#e08791"/><circle cx="504.3" cy="1190.8" r="5.7" stroke="#2b9bb0"/><circle cx="506.0" cy="1077.5" r="5.7" stroke="#e08791"/><circle cx="506.0" cy="1113.1" r="5.7" stroke="#2b9bb0"/><circle cx="507.6" cy="1185.3" r="5.7" stroke="#2b9bb0"/><circle cx="507.6" cy="1111.1" r="5.7" stroke="#e08791"/><circle cx="509.3" cy="1175.7" r="5.7" stroke="#2b9bb0"/><circle cx="509.3" cy="1137.0" r="5.7" stroke="#e08791"/><circle cx="510.9" cy="1159.6" r="5.7" stroke="#2b9bb0"/><circle cx="510.9" cy="1139.5" r="5.7" stroke="#e08791"/><circle cx="512.5" cy="1121.9" r="5.7" stroke="#e08791"/><circle cx="512.5" cy="1151.5" r="5.7" stroke="#2b9bb0"/><circle cx="514.2" cy="1144.1" r="5.7" stroke="#2b9bb0"/><circle cx="514.2" cy="1075.1" r="5.7" stroke="#e08791"/><circle cx="515.8" cy="1094.5" r="5.7" stroke="#e08791"/><circle cx="515.8" cy="1164.0" r="5.7" stroke="#2b9bb0"/><circle cx="517.5" cy="1118.9" r="5.7" stroke="#e08791"/><circle cx="517.5" cy="1123.9" r="5.7" stroke="#2b9bb0"/><circle cx="519.1" cy="1150.4" r="5.7" stroke="#2b9bb0"/><circle cx="519.1" cy="1113.8" r="5.7" stroke="#e08791"/><circle cx="520.8" cy="1158.6" r="5.7" stroke="#e08791"/><circle cx="520.8" cy="1195.0" r="5.7" stroke="#2b9bb0"/><circle cx="522.4" cy="1082.7" r="5.7" stroke="#2b9bb0"/><circle cx="522.4" cy="1074.7" r="5.7" stroke="#e08791"/><circle cx="524.1" cy="1218.4" r="5.7" stroke="#2b9bb0"/><circle cx="524.1" cy="1116.7" r="5.7" stroke="#e08791"/><circle cx="525.7" cy="1168.7" r="5.7" stroke="#2b9bb0"/><circle cx="525.7" cy="1190.7" r="5.7" stroke="#e08791"/><circle cx="527.4" cy="1158.6" r="5.7" stroke="#2b9bb0"/><circle cx="527.4" cy="1114.6" r="5.7" stroke="#e08791"/><circle cx="529.0" cy="1090.7" r="5.7" stroke="#e08791"/><circle cx="529.0" cy="1114.5" r="5.7" stroke="#2b9bb0"/><circle cx="530.7" cy="1078.2" r="5.7" stroke="#2b9bb0"/><circle cx="530.7" cy="1103.0" r="5.7" stroke="#e08791"/><circle cx="532.3" cy="1157.6" r="5.7" stroke="#2b9bb0"/><circle cx="532.3" cy="1097.3" r="5.7" stroke="#e08791"/><circle cx="534.0" cy="1123.6" r="5.7" stroke="#2b9bb0"/><circle cx="534.0" cy="1117.1" r="5.7" stroke="#e08791"/><circle cx="535.6" cy="1084.8" r="5.7" stroke="#e08791"/><circle cx="535.6" cy="1168.3" r="5.7" stroke="#2b9bb0"/><circle cx="537.3" cy="1161.2" r="5.7" stroke="#2b9bb0"/><circle cx="537.3" cy="1164.9" r="5.7" stroke="#e08791"/><circle cx="538.9" cy="1053.5" r="5.7" stroke="#e08791"/><circle cx="538.9" cy="1147.2" r="5.7" stroke="#2b9bb0"/><circle cx="540.6" cy="976.8" r="5.7" stroke="#e08791"/><circle cx="540.6" cy="1162.2" r="5.7" stroke="#2b9bb0"/><circle cx="542.2" cy="1132.5" r="5.7" stroke="#e08791"/><circle cx="542.2" cy="1086.2" r="5.7" stroke="#2b9bb0"/><circle cx="543.9" cy="1121.4" r="5.7" stroke="#e08791"/><circle cx="543.9" cy="1179.4" r="5.7" stroke="#2b9bb0"/><circle cx="545.5" cy="1072.9" r="5.7" stroke="#e08791"/><circle cx="545.5" cy="1142.5" r="5.7" stroke="#2b9bb0"/><circle cx="547.2" cy="1158.0" r="5.7" stroke="#2b9bb0"/><circle cx="547.2" cy="1085.8" r="5.7" stroke="#e08791"/><circle cx="548.8" cy="1155.0" r="5.7" stroke="#2b9bb0"/><circle cx="548.8" cy="1116.7" r="5.7" stroke="#e08791"/><circle cx="550.4" cy="1180.5" r="5.7" stroke="#2b9bb0"/><circle cx="550.4" cy="1156.1" r="5.7" stroke="#e08791"/><circle cx="552.1" cy="1153.4" r="5.7" stroke="#2b9bb0"/><circle cx="552.1" cy="1109.9" r="5.7" stroke="#e08791"/><circle cx="553.7" cy="1165.1" r="5.7" stroke="#2b9bb0"/><circle cx="553.7" cy="1124.0" r="5.7" stroke="#e08791"/><circle cx="555.4" cy="1108.1" r="5.7" stroke="#e08791"/><circle cx="555.4" cy="1146.0" r="5.7" stroke="#2b9bb0"/><circle cx="557.0" cy="1139.4" r="5.7" stroke="#2b9bb0"/><circle cx="557.0" cy="1085.3" r="5.7" stroke="#e08791"/><circle cx="558.7" cy="1184.7" r="5.7" stroke="#2b9bb0"/><circle cx="558.7" cy="1132.7" r="5.7" stroke="#e08791"/><circle cx="560.3" cy="1155.3" r="5.7" stroke="#2b9bb0"/><circle cx="560.3" cy="1169.3" r="5.7" stroke="#e08791"/><circle cx="562.0" cy="1119.9" r="5.7" stroke="#e08791"/><circle cx="562.0" cy="1174.3" r="5.7" stroke="#2b9bb0"/><circle cx="563.6" cy="1090.4" r="5.7" stroke="#e08791"/><circle cx="563.6" cy="1027.2" r="5.7" stroke="#2b9bb0"/><circle cx="565.3" cy="1117.1" r="5.7" stroke="#e08791"/><circle cx="565.3" cy="1158.9" r="5.7" stroke="#2b9bb0"/><circle cx="566.9" cy="1123.5" r="5.7" stroke="#e08791"/><circle cx="566.9" cy="1250.0" r="5.7" stroke="#2b9bb0"/><circle cx="568.6" cy="1172.0" r="5.7" stroke="#2b9bb0"/><circle cx="568.6" cy="1190.0" r="5.7" stroke="#e08791"/><circle cx="570.2" cy="1151.2" r="5.7" stroke="#e08791"/><circle cx="570.2" cy="1172.0" r="5.7" stroke="#2b9bb0"/><circle cx="571.9" cy="1112.9" r="5.7" stroke="#e08791"/><circle cx="571.9" cy="1137.7" r="5.7" stroke="#2b9bb0"/><circle cx="573.5" cy="1180.4" r="5.7" stroke="#2b9bb0"/><circle cx="573.5" cy="1085.2" r="5.7" stroke="#e08791"/><circle cx="575.2" cy="1097.4" r="5.7" stroke="#e08791"/><circle cx="575.2" cy="1186.1" r="5.7" stroke="#2b9bb0"/><circle cx="576.8" cy="1144.2" r="5.7" stroke="#e08791"/><circle cx="576.8" cy="1150.3" r="5.7" stroke="#2b9bb0"/><circle cx="578.5" cy="1150.1" r="5.7" stroke="#2b9bb0"/><circle cx="578.5" cy="1098.8" r="5.7" stroke="#e08791"/><circle cx="580.1" cy="1184.5" r="5.7" stroke="#2b9bb0"/><circle cx="580.1" cy="1098.4" r="5.7" stroke="#e08791"/><circle cx="581.8" cy="1171.5" r="5.7" stroke="#e08791"/><circle cx="581.8" cy="1139.4" r="5.7" stroke="#2b9bb0"/><circle cx="583.4" cy="1171.7" r="5.7" stroke="#e08791"/><circle cx="583.4" cy="1200.7" r="5.7" stroke="#2b9bb0"/><circle cx="585.0" cy="1151.8" r="5.7" stroke="#2b9bb0"/><circle cx="585.0" cy="1097.2" r="5.7" stroke="#e08791"/><circle cx="586.7" cy="1038.1" r="5.7" stroke="#e08791"/><circle cx="586.7" cy="1117.8" r="5.7" stroke="#2b9bb0"/><circle cx="588.3" cy="1071.9" r="5.7" stroke="#e08791"/><circle cx="588.3" cy="1128.3" r="5.7" stroke="#2b9bb0"/><circle cx="590.0" cy="1146.9" r="5.7" stroke="#e08791"/><circle cx="590.0" cy="1129.8" r="5.7" stroke="#2b9bb0"/><circle cx="591.6" cy="1128.6" r="5.7" stroke="#e08791"/><circle cx="591.6" cy="1139.9" r="5.7" stroke="#2b9bb0"/><circle cx="593.3" cy="1160.6" r="5.7" stroke="#2b9bb0"/><circle cx="593.3" cy="1148.7" r="5.7" stroke="#e08791"/><circle cx="594.9" cy="1105.5" r="5.7" stroke="#e08791"/><circle cx="594.9" cy="1144.3" r="5.7" stroke="#2b9bb0"/><circle cx="596.6" cy="1136.3" r="5.7" stroke="#2b9bb0"/><circle cx="596.6" cy="1133.0" r="5.7" stroke="#e08791"/><circle cx="598.2" cy="1135.9" r="5.7" stroke="#e08791"/><circle cx="598.2" cy="1121.4" r="5.7" stroke="#2b9bb0"/><circle cx="599.9" cy="1112.7" r="5.7" stroke="#e08791"/><circle cx="599.9" cy="1155.7" r="5.7" stroke="#2b9bb0"/><circle cx="601.5" cy="1135.0" r="5.7" stroke="#e08791"/><circle cx="601.5" cy="1137.8" r="5.7" stroke="#2b9bb0"/><circle cx="603.2" cy="1093.1" r="5.7" stroke="#e08791"/><circle cx="603.2" cy="1091.9" r="5.7" stroke="#2b9bb0"/><circle cx="604.8" cy="1193.2" r="5.7" stroke="#2b9bb0"/><circle cx="604.8" cy="1089.8" r="5.7" stroke="#e08791"/><circle cx="606.5" cy="1069.1" r="5.7" stroke="#e08791"/><circle cx="606.5" cy="1123.7" r="5.7" stroke="#2b9bb0"/><circle cx="608.1" cy="1112.2" r="5.7" stroke="#e08791"/><circle cx="608.1" cy="1157.5" r="5.7" stroke="#2b9bb0"/><circle cx="609.8" cy="1111.3" r="5.7" stroke="#e08791"/><circle cx="609.8" cy="1149.5" r="5.7" stroke="#2b9bb0"/><circle cx="611.4" cy="1099.8" r="5.7" stroke="#e08791"/><circle cx="611.4" cy="1155.8" r="5.7" stroke="#2b9bb0"/><circle cx="613.1" cy="1100.6" r="5.7" stroke="#e08791"/><circle cx="613.1" cy="1180.2" r="5.7" stroke="#2b9bb0"/><circle cx="614.7" cy="1250.0" r="5.7" stroke="#2b9bb0"/><circle cx="614.7" cy="1056.5" r="5.7" stroke="#e08791"/><circle cx="616.4" cy="1150.9" r="5.7" stroke="#e08791"/><circle cx="616.4" cy="1142.4" r="5.7" stroke="#2b9bb0"/><circle cx="618.0" cy="1134.5" r="5.7" stroke="#e08791"/><circle cx="618.0" cy="1182.0" r="5.7" stroke="#2b9bb0"/><circle cx="619.7" cy="1176.2" r="5.7" stroke="#2b9bb0"/><circle cx="619.7" cy="1091.1" r="5.7" stroke="#e08791"/><circle cx="621.3" cy="1237.4" r="5.7" stroke="#2b9bb0"/><circle cx="621.3" cy="1109.7" r="5.7" stroke="#e08791"/><circle cx="622.9" cy="1150.8" r="5.7" stroke="#2b9bb0"/><circle cx="622.9" cy="1077.2" r="5.7" stroke="#e08791"/><circle cx="624.6" cy="1142.1" r="5.7" stroke="#e08791"/><circle cx="624.6" cy="1146.4" r="5.7" stroke="#2b9bb0"/><circle cx="626.2" cy="1075.5" r="5.7" stroke="#e08791"/><circle cx="626.2" cy="1170.4" r="5.7" stroke="#2b9bb0"/><circle cx="627.9" cy="1154.9" r="5.7" stroke="#2b9bb0"/><circle cx="627.9" cy="1138.4" r="5.7" stroke="#e08791"/><circle cx="629.5" cy="1189.1" r="5.7" stroke="#2b9bb0"/><circle cx="629.5" cy="985.0" r="5.7" stroke="#e08791"/><circle cx="631.2" cy="1142.5" r="5.7" stroke="#e08791"/><circle cx="631.2" cy="1137.0" r="5.7" stroke="#2b9bb0"/><circle cx="632.8" cy="1192.6" r="5.7" stroke="#2b9bb0"/><circle cx="632.8" cy="1091.5" r="5.7" stroke="#e08791"/><circle cx="634.5" cy="1129.5" r="5.7" stroke="#e08791"/><circle cx="634.5" cy="1106.5" r="5.7" stroke="#2b9bb0"/><circle cx="636.1" cy="1166.0" r="5.7" stroke="#2b9bb0"/><circle cx="636.1" cy="1108.5" r="5.7" stroke="#e08791"/><circle cx="637.8" cy="979.0" r="5.7" stroke="#2b9bb0"/><circle cx="637.8" cy="1122.9" r="5.7" stroke="#e08791"/><circle cx="639.4" cy="1132.1" r="5.7" stroke="#e08791"/><circle cx="639.4" cy="1120.5" r="5.7" stroke="#2b9bb0"/><circle cx="641.1" cy="1191.2" r="5.7" stroke="#2b9bb0"/><circle cx="641.1" cy="1109.3" r="5.7" stroke="#e08791"/><circle cx="642.7" cy="1200.8" r="5.7" stroke="#2b9bb0"/><circle cx="642.7" cy="1105.5" r="5.7" stroke="#e08791"/><circle cx="644.4" cy="1110.0" r="5.7" stroke="#e08791"/><circle cx="644.4" cy="1166.3" r="5.7" stroke="#2b9bb0"/><circle cx="646.0" cy="1085.9" r="5.7" stroke="#e08791"/><circle cx="646.0" cy="1121.6" r="5.7" stroke="#2b9bb0"/><circle cx="647.7" cy="1140.7" r="5.7" stroke="#e08791"/><circle cx="647.7" cy="1130.6" r="5.7" stroke="#2b9bb0"/><circle cx="649.3" cy="930.0" r="5.7" stroke="#e08791"/><circle cx="649.3" cy="1097.9" r="5.7" stroke="#2b9bb0"/><circle cx="651.0" cy="1111.2" r="5.7" stroke="#e08791"/><circle cx="651.0" cy="1157.5" r="5.7" stroke="#2b9bb0"/><circle cx="652.6" cy="1168.8" r="5.7" stroke="#2b9bb0"/><circle cx="652.6" cy="966.1" r="5.7" stroke="#e08791"/><circle cx="654.3" cy="1116.7" r="5.7" stroke="#e08791"/><circle cx="654.3" cy="1149.0" r="5.7" stroke="#2b9bb0"/><circle cx="655.9" cy="1146.2" r="5.7" stroke="#2b9bb0"/><circle cx="655.9" cy="1096.5" r="5.7" stroke="#e08791"/><circle cx="657.6" cy="1167.2" r="5.7" stroke="#2b9bb0"/><circle cx="657.6" cy="1167.6" r="5.7" stroke="#e08791"/><circle cx="659.2" cy="1120.6" r="5.7" stroke="#e08791"/><circle cx="659.2" cy="1157.9" r="5.7" stroke="#2b9bb0"/><circle cx="660.8" cy="1155.2" r="5.7" stroke="#2b9bb0"/><circle cx="660.8" cy="1187.8" r="5.7" stroke="#e08791"/><circle cx="662.5" cy="1154.7" r="5.7" stroke="#e08791"/><circle cx="662.5" cy="1126.6" r="5.7" stroke="#2b9bb0"/><circle cx="664.1" cy="1158.7" r="5.7" stroke="#e08791"/><circle cx="664.1" cy="1118.5" r="5.7" stroke="#2b9bb0"/><circle cx="665.8" cy="1148.5" r="5.7" stroke="#e08791"/><circle cx="665.8" cy="1149.4" r="5.7" stroke="#2b9bb0"/><circle cx="667.4" cy="1168.8" r="5.7" stroke="#e08791"/><circle cx="667.4" cy="1135.9" r="5.7" stroke="#2b9bb0"/><circle cx="669.1" cy="1124.3" r="5.7" stroke="#e08791"/><circle cx="669.1" cy="1131.3" r="5.7" stroke="#2b9bb0"/><circle cx="670.7" cy="1080.7" r="5.7" stroke="#2b9bb0"/><circle cx="670.7" cy="1161.1" r="5.7" stroke="#e08791"/><circle cx="672.4" cy="1175.1" r="5.7" stroke="#2b9bb0"/><circle cx="672.4" cy="1100.8" r="5.7" stroke="#e08791"/><circle cx="674.0" cy="1241.8" r="5.7" stroke="#e08791"/><circle cx="674.0" cy="1138.1" r="5.7" stroke="#2b9bb0"/><circle cx="675.7" cy="1110.6" r="5.7" stroke="#e08791"/><circle cx="675.7" cy="1207.8" r="5.7" stroke="#2b9bb0"/><circle cx="677.3" cy="1167.8" r="5.7" stroke="#2b9bb0"/><circle cx="677.3" cy="1156.7" r="5.7" stroke="#e08791"/><circle cx="679.0" cy="1159.4" r="5.7" stroke="#e08791"/><circle cx="679.0" cy="1187.7" r="5.7" stroke="#2b9bb0"/><circle cx="680.6" cy="1105.4" r="5.7" stroke="#e08791"/><circle cx="680.6" cy="1160.0" r="5.7" stroke="#2b9bb0"/><circle cx="682.3" cy="1123.1" r="5.7" stroke="#e08791"/><circle cx="682.3" cy="1223.7" r="5.7" stroke="#2b9bb0"/><circle cx="683.9" cy="1139.1" r="5.7" stroke="#e08791"/><circle cx="683.9" cy="1158.0" r="5.7" stroke="#2b9bb0"/><circle cx="685.6" cy="1161.8" r="5.7" stroke="#2b9bb0"/><circle cx="685.6" cy="1121.5" r="5.7" stroke="#e08791"/><circle cx="687.2" cy="1150.0" r="5.7" stroke="#e08791"/><circle cx="687.2" cy="1157.9" r="5.7" stroke="#2b9bb0"/><circle cx="688.9" cy="1193.3" r="5.7" stroke="#e08791"/><circle cx="688.9" cy="1147.9" r="5.7" stroke="#2b9bb0"/><circle cx="690.5" cy="1151.8" r="5.7" stroke="#e08791"/><circle cx="690.5" cy="1148.2" r="5.7" stroke="#2b9bb0"/><circle cx="692.2" cy="1170.0" r="5.7" stroke="#2b9bb0"/><circle cx="692.2" cy="1176.6" r="5.7" stroke="#e08791"/><circle cx="693.8" cy="1223.4" r="5.7" stroke="#e08791"/><circle cx="693.8" cy="1161.2" r="5.7" stroke="#2b9bb0"/><circle cx="695.4" cy="1111.1" r="5.7" stroke="#e08791"/><circle cx="695.4" cy="1178.3" r="5.7" stroke="#2b9bb0"/><circle cx="697.1" cy="1124.7" r="5.7" stroke="#2b9bb0"/><circle cx="697.1" cy="1085.3" r="5.7" stroke="#e08791"/><circle cx="698.7" cy="1076.8" r="5.7" stroke="#e08791"/><circle cx="698.7" cy="1155.6" r="5.7" stroke="#2b9bb0"/><circle cx="700.4" cy="1093.6" r="5.7" stroke="#e08791"/><circle cx="700.4" cy="1158.3" r="5.7" stroke="#2b9bb0"/><circle cx="702.0" cy="1178.8" r="5.7" stroke="#2b9bb0"/><circle cx="702.0" cy="1147.6" r="5.7" stroke="#e08791"/><circle cx="703.7" cy="1120.4" r="5.7" stroke="#e08791"/><circle cx="703.7" cy="1188.8" r="5.7" stroke="#2b9bb0"/><circle cx="705.3" cy="1092.9" r="5.7" stroke="#2b9bb0"/><circle cx="705.3" cy="1093.8" r="5.7" stroke="#e08791"/><circle cx="707.0" cy="1073.4" r="5.7" stroke="#e08791"/><circle cx="707.0" cy="1139.4" r="5.7" stroke="#2b9bb0"/><circle cx="708.6" cy="1123.5" r="5.7" stroke="#2b9bb0"/><circle cx="708.6" cy="1160.3" r="5.7" stroke="#e08791"/><circle cx="710.3" cy="1137.0" r="5.7" stroke="#e08791"/><circle cx="710.3" cy="1144.7" r="5.7" stroke="#2b9bb0"/><circle cx="711.9" cy="1107.7" r="5.7" stroke="#e08791"/><circle cx="711.9" cy="1126.9" r="5.7" stroke="#2b9bb0"/><circle cx="713.6" cy="1131.0" r="5.7" stroke="#2b9bb0"/><circle cx="713.6" cy="1262.0" r="5.7" stroke="#e08791"/><circle cx="715.2" cy="1123.7" r="5.7" stroke="#2b9bb0"/><circle cx="715.2" cy="1149.5" r="5.7" stroke="#e08791"/><circle cx="716.9" cy="1164.8" r="5.7" stroke="#2b9bb0"/><circle cx="716.9" cy="1156.0" r="5.7" stroke="#e08791"/><circle cx="718.5" cy="1133.7" r="5.7" stroke="#2b9bb0"/><circle cx="718.5" cy="1157.8" r="5.7" stroke="#e08791"/><circle cx="720.2" cy="1149.2" r="5.7" stroke="#e08791"/><circle cx="720.2" cy="1138.1" r="5.7" stroke="#2b9bb0"/><circle cx="721.8" cy="1098.2" r="5.7" stroke="#e08791"/><circle cx="721.8" cy="1138.8" r="5.7" stroke="#2b9bb0"/><circle cx="723.5" cy="1153.3" r="5.7" stroke="#2b9bb0"/><circle cx="723.5" cy="1097.6" r="5.7" stroke="#e08791"/><circle cx="725.1" cy="1157.0" r="5.7" stroke="#2b9bb0"/><circle cx="725.1" cy="1060.6" r="5.7" stroke="#e08791"/><circle cx="726.8" cy="1173.5" r="5.7" stroke="#2b9bb0"/><circle cx="726.8" cy="1109.1" r="5.7" stroke="#e08791"/><circle cx="728.4" cy="1239.6" r="5.7" stroke="#e08791"/><circle cx="728.4" cy="1158.6" r="5.7" stroke="#2b9bb0"/><circle cx="730.1" cy="1129.6" r="5.7" stroke="#e08791"/><circle cx="730.1" cy="1136.6" r="5.7" stroke="#2b9bb0"/><circle cx="731.7" cy="1163.5" r="5.7" stroke="#2b9bb0"/><circle cx="731.7" cy="984.5" r="5.7" stroke="#e08791"/><circle cx="733.3" cy="1095.7" r="5.7" stroke="#e08791"/><circle cx="733.3" cy="1169.6" r="5.7" stroke="#2b9bb0"/><circle cx="735.0" cy="1169.6" r="5.7" stroke="#2b9bb0"/><circle cx="735.0" cy="1068.8" r="5.7" stroke="#e08791"/><circle cx="736.6" cy="1170.5" r="5.7" stroke="#2b9bb0"/><circle cx="736.6" cy="1121.7" r="5.7" stroke="#e08791"/><circle cx="738.3" cy="1169.2" r="5.7" stroke="#2b9bb0"/><circle cx="738.3" cy="1175.7" r="5.7" stroke="#e08791"/><circle cx="739.9" cy="1152.7" r="5.7" stroke="#e08791"/><circle cx="739.9" cy="1139.8" r="5.7" stroke="#2b9bb0"/><circle cx="741.6" cy="1160.2" r="5.7" stroke="#2b9bb0"/><circle cx="741.6" cy="1082.4" r="5.7" stroke="#e08791"/><circle cx="743.2" cy="1137.6" r="5.7" stroke="#2b9bb0"/><circle cx="743.2" cy="1134.4" r="5.7" stroke="#e08791"/><circle cx="744.9" cy="1122.5" r="5.7" stroke="#e08791"/><circle cx="744.9" cy="1161.4" r="5.7" stroke="#2b9bb0"/><circle cx="746.5" cy="1155.8" r="5.7" stroke="#2b9bb0"/><circle cx="746.5" cy="1054.3" r="5.7" stroke="#e08791"/><circle cx="748.2" cy="1121.2" r="5.7" stroke="#e08791"/><circle cx="748.2" cy="1039.4" r="5.7" stroke="#2b9bb0"/><circle cx="749.8" cy="1203.2" r="5.7" stroke="#2b9bb0"/><circle cx="749.8" cy="1108.8" r="5.7" stroke="#e08791"/><circle cx="751.5" cy="1155.7" r="5.7" stroke="#e08791"/><circle cx="751.5" cy="1180.0" r="5.7" stroke="#2b9bb0"/><circle cx="753.1" cy="1122.4" r="5.7" stroke="#2b9bb0"/><circle cx="753.1" cy="1114.2" r="5.7" stroke="#e08791"/><circle cx="754.8" cy="1146.5" r="5.7" stroke="#2b9bb0"/><circle cx="754.8" cy="1109.5" r="5.7" stroke="#e08791"/><circle cx="756.4" cy="1087.8" r="5.7" stroke="#e08791"/><circle cx="756.4" cy="1172.0" r="5.7" stroke="#2b9bb0"/><circle cx="758.1" cy="1183.4" r="5.7" stroke="#2b9bb0"/><circle cx="758.1" cy="1115.8" r="5.7" stroke="#e08791"/><circle cx="759.7" cy="1145.7" r="5.7" stroke="#2b9bb0"/><circle cx="759.7" cy="1146.8" r="5.7" stroke="#e08791"/><circle cx="761.4" cy="1158.1" r="5.7" stroke="#2b9bb0"/><circle cx="761.4" cy="1115.4" r="5.7" stroke="#e08791"/><circle cx="763.0" cy="1085.3" r="5.7" stroke="#e08791"/><circle cx="763.0" cy="1127.0" r="5.7" stroke="#2b9bb0"/><circle cx="764.7" cy="1178.0" r="5.7" stroke="#2b9bb0"/><circle cx="764.7" cy="1062.3" r="5.7" stroke="#e08791"/><circle cx="766.3" cy="1135.3" r="5.7" stroke="#2b9bb0"/><circle cx="766.3" cy="1019.1" r="5.7" stroke="#e08791"/><circle cx="767.9" cy="985.0" r="5.7" stroke="#e08791"/><circle cx="767.9" cy="1135.6" r="5.7" stroke="#2b9bb0"/><circle cx="769.6" cy="1121.5" r="5.7" stroke="#e08791"/><circle cx="769.6" cy="1154.8" r="5.7" stroke="#2b9bb0"/><circle cx="771.2" cy="1112.1" r="5.7" stroke="#e08791"/><circle cx="771.2" cy="1180.9" r="5.7" stroke="#2b9bb0"/><circle cx="772.9" cy="1126.9" r="5.7" stroke="#e08791"/><circle cx="772.9" cy="1153.2" r="5.7" stroke="#2b9bb0"/><circle cx="774.5" cy="1077.0" r="5.7" stroke="#e08791"/><circle cx="774.5" cy="1149.7" r="5.7" stroke="#2b9bb0"/><circle cx="776.2" cy="1039.4" r="5.7" stroke="#e08791"/><circle cx="776.2" cy="1190.4" r="5.7" stroke="#2b9bb0"/><circle cx="777.8" cy="1073.8" r="5.7" stroke="#2b9bb0"/><circle cx="777.8" cy="1132.5" r="5.7" stroke="#e08791"/><circle cx="779.5" cy="1202.2" r="5.7" stroke="#e08791"/><circle cx="779.5" cy="1179.4" r="5.7" stroke="#2b9bb0"/><circle cx="781.1" cy="1155.7" r="5.7" stroke="#e08791"/><circle cx="781.1" cy="1188.9" r="5.7" stroke="#2b9bb0"/><circle cx="782.8" cy="1126.6" r="5.7" stroke="#e08791"/><circle cx="782.8" cy="1140.4" r="5.7" stroke="#2b9bb0"/><circle cx="784.4" cy="1176.7" r="5.7" stroke="#2b9bb0"/><circle cx="784.4" cy="1141.7" r="5.7" stroke="#e08791"/><circle cx="786.1" cy="1148.7" r="5.7" stroke="#2b9bb0"/><circle cx="786.1" cy="1138.5" r="5.7" stroke="#e08791"/><circle cx="787.7" cy="1150.8" r="5.7" stroke="#e08791"/><circle cx="787.7" cy="1174.5" r="5.7" stroke="#2b9bb0"/><circle cx="789.4" cy="1022.3" r="5.7" stroke="#2b9bb0"/><circle cx="789.4" cy="1110.1" r="5.7" stroke="#e08791"/><circle cx="791.0" cy="1127.0" r="5.7" stroke="#e08791"/><circle cx="791.0" cy="1210.2" r="5.7" stroke="#2b9bb0"/><circle cx="792.7" cy="1114.4" r="5.7" stroke="#e08791"/><circle cx="792.7" cy="1204.1" r="5.7" stroke="#2b9bb0"/><circle cx="794.3" cy="1163.7" r="5.7" stroke="#2b9bb0"/><circle cx="794.3" cy="1173.8" r="5.7" stroke="#e08791"/><circle cx="796.0" cy="1132.7" r="5.7" stroke="#2b9bb0"/><circle cx="796.0" cy="1068.0" r="5.7" stroke="#e08791"/><circle cx="797.6" cy="1082.3" r="5.7" stroke="#e08791"/><circle cx="797.6" cy="1180.0" r="5.7" stroke="#2b9bb0"/><circle cx="799.3" cy="1131.4" r="5.7" stroke="#2b9bb0"/><circle cx="799.3" cy="1126.8" r="5.7" stroke="#e08791"/><circle cx="800.9" cy="1103.6" r="5.7" stroke="#2b9bb0"/><circle cx="800.9" cy="1117.8" r="5.7" stroke="#e08791"/><circle cx="802.6" cy="1052.2" r="5.7" stroke="#e08791"/><circle cx="802.6" cy="1159.4" r="5.7" stroke="#2b9bb0"/><circle cx="804.2" cy="1137.1" r="5.7" stroke="#2b9bb0"/><circle cx="804.2" cy="1033.2" r="5.7" stroke="#e08791"/><circle cx="805.8" cy="1138.2" r="5.7" stroke="#e08791"/><circle cx="805.8" cy="1150.6" r="5.7" stroke="#2b9bb0"/><circle cx="807.5" cy="1075.7" r="5.7" stroke="#2b9bb0"/><circle cx="807.5" cy="1142.9" r="5.7" stroke="#e08791"/><circle cx="809.1" cy="1177.8" r="5.7" stroke="#2b9bb0"/><circle cx="809.1" cy="1138.6" r="5.7" stroke="#e08791"/><circle cx="810.8" cy="1123.9" r="5.7" stroke="#e08791"/><circle cx="810.8" cy="1195.1" r="5.7" stroke="#2b9bb0"/><circle cx="812.4" cy="1191.6" r="5.7" stroke="#2b9bb0"/><circle cx="812.4" cy="1106.9" r="5.7" stroke="#e08791"/><circle cx="814.1" cy="1183.5" r="5.7" stroke="#2b9bb0"/><circle cx="814.1" cy="1076.0" r="5.7" stroke="#e08791"/><circle cx="815.7" cy="1140.3" r="5.7" stroke="#e08791"/><circle cx="815.7" cy="1162.8" r="5.7" stroke="#2b9bb0"/><circle cx="817.4" cy="1132.7" r="5.7" stroke="#e08791"/><circle cx="817.4" cy="1175.5" r="5.7" stroke="#2b9bb0"/><circle cx="819.0" cy="1140.7" r="5.7" stroke="#e08791"/><circle cx="819.0" cy="1156.4" r="5.7" stroke="#2b9bb0"/><circle cx="820.7" cy="1181.8" r="5.7" stroke="#2b9bb0"/><circle cx="820.7" cy="993.3" r="5.7" stroke="#e08791"/><circle cx="822.3" cy="1162.2" r="5.7" stroke="#e08791"/><circle cx="822.3" cy="1170.4" r="5.7" stroke="#2b9bb0"/><circle cx="824.0" cy="1095.1" r="5.7" stroke="#e08791"/><circle cx="824.0" cy="1109.7" r="5.7" stroke="#2b9bb0"/><circle cx="825.6" cy="1127.8" r="5.7" stroke="#e08791"/><circle cx="825.6" cy="1157.9" r="5.7" stroke="#2b9bb0"/><circle cx="827.3" cy="1073.8" r="5.7" stroke="#e08791"/><circle cx="827.3" cy="1024.0" r="5.7" stroke="#2b9bb0"/><circle cx="828.9" cy="1159.0" r="5.7" stroke="#2b9bb0"/><circle cx="828.9" cy="1102.6" r="5.7" stroke="#e08791"/><circle cx="830.6" cy="1146.5" r="5.7" stroke="#2b9bb0"/><circle cx="830.6" cy="1119.2" r="5.7" stroke="#e08791"/><circle cx="832.2" cy="1010.1" r="5.7" stroke="#2b9bb0"/><circle cx="832.2" cy="1102.1" r="5.7" stroke="#e08791"/><circle cx="833.9" cy="1164.2" r="5.7" stroke="#2b9bb0"/><circle cx="833.9" cy="1147.7" r="5.7" stroke="#e08791"/><circle cx="835.5" cy="1229.0" r="5.7" stroke="#e08791"/><circle cx="835.5" cy="1148.2" r="5.7" stroke="#2b9bb0"/><circle cx="837.2" cy="1082.6" r="5.7" stroke="#e08791"/><circle cx="837.2" cy="1164.2" r="5.7" stroke="#2b9bb0"/><circle cx="838.8" cy="1083.7" r="5.7" stroke="#e08791"/><circle cx="838.8" cy="1228.9" r="5.7" stroke="#2b9bb0"/><circle cx="840.4" cy="1184.3" r="5.7" stroke="#2b9bb0"/><circle cx="840.4" cy="1060.5" r="5.7" stroke="#e08791"/><circle cx="842.1" cy="1115.9" r="5.7" stroke="#2b9bb0"/><circle cx="842.1" cy="1030.7" r="5.7" stroke="#e08791"/><circle cx="843.7" cy="1235.4" r="5.7" stroke="#2b9bb0"/><circle cx="843.7" cy="1134.8" r="5.7" stroke="#e08791"/><circle cx="845.4" cy="1165.0" r="5.7" stroke="#e08791"/><circle cx="845.4" cy="1123.4" r="5.7" stroke="#2b9bb0"/><circle cx="847.0" cy="1140.6" r="5.7" stroke="#e08791"/><circle cx="847.0" cy="1154.5" r="5.7" stroke="#2b9bb0"/><circle cx="848.7" cy="1138.0" r="5.7" stroke="#e08791"/><circle cx="848.7" cy="1136.6" r="5.7" stroke="#2b9bb0"/><circle cx="850.3" cy="1133.8" r="5.7" stroke="#2b9bb0"/><circle cx="850.3" cy="1100.8" r="5.7" stroke="#e08791"/><circle cx="852.0" cy="1153.0" r="5.7" stroke="#2b9bb0"/><circle cx="852.0" cy="1090.0" r="5.7" stroke="#e08791"/><circle cx="853.6" cy="1080.6" r="5.7" stroke="#e08791"/><circle cx="853.6" cy="1014.3" r="5.7" stroke="#2b9bb0"/><circle cx="855.3" cy="1149.3" r="5.7" stroke="#2b9bb0"/><circle cx="855.3" cy="1087.1" r="5.7" stroke="#e08791"/><circle cx="856.9" cy="1073.9" r="5.7" stroke="#e08791"/><circle cx="856.9" cy="1173.9" r="5.7" stroke="#2b9bb0"/><circle cx="858.6" cy="1119.4" r="5.7" stroke="#2b9bb0"/><circle cx="858.6" cy="1153.3" r="5.7" stroke="#e08791"/><circle cx="860.2" cy="1142.5" r="5.7" stroke="#2b9bb0"/><circle cx="860.2" cy="1111.4" r="5.7" stroke="#e08791"/><circle cx="861.9" cy="1139.7" r="5.7" stroke="#e08791"/><circle cx="861.9" cy="1165.3" r="5.7" stroke="#2b9bb0"/><circle cx="863.5" cy="1160.8" r="5.7" stroke="#2b9bb0"/><circle cx="863.5" cy="1129.7" r="5.7" stroke="#e08791"/><circle cx="865.2" cy="1069.1" r="5.7" stroke="#e08791"/><circle cx="865.2" cy="1174.8" r="5.7" stroke="#2b9bb0"/><circle cx="866.8" cy="1235.3" r="5.7" stroke="#2b9bb0"/><circle cx="866.8" cy="1089.2" r="5.7" stroke="#e08791"/><circle cx="868.5" cy="1044.4" r="5.7" stroke="#e08791"/><circle cx="868.5" cy="1153.9" r="5.7" stroke="#2b9bb0"/><circle cx="870.1" cy="1129.4" r="5.7" stroke="#e08791"/><circle cx="870.1" cy="1138.0" r="5.7" stroke="#2b9bb0"/><circle cx="871.8" cy="1089.0" r="5.7" stroke="#2b9bb0"/><circle cx="871.8" cy="1021.5" r="5.7" stroke="#e08791"/><circle cx="873.4" cy="1189.0" r="5.7" stroke="#2b9bb0"/><circle cx="873.4" cy="1130.1" r="5.7" stroke="#e08791"/><circle cx="875.1" cy="1146.1" r="5.7" stroke="#e08791"/><circle cx="875.1" cy="1094.6" r="5.7" stroke="#2b9bb0"/><circle cx="876.7" cy="1257.0" r="5.7" stroke="#2b9bb0"/><circle cx="876.7" cy="1133.0" r="5.7" stroke="#e08791"/><circle cx="878.3" cy="1157.5" r="5.7" stroke="#2b9bb0"/><circle cx="878.3" cy="1142.7" r="5.7" stroke="#e08791"/><circle cx="880.0" cy="1145.8" r="5.7" stroke="#2b9bb0"/><circle cx="880.0" cy="1080.8" r="5.7" stroke="#e08791"/><circle cx="881.6" cy="1110.3" r="5.7" stroke="#e08791"/><circle cx="881.6" cy="1152.0" r="5.7" stroke="#2b9bb0"/><circle cx="883.3" cy="986.0" r="5.7" stroke="#2b9bb0"/><circle cx="883.3" cy="1113.1" r="5.7" stroke="#e08791"/><circle cx="884.9" cy="1123.6" r="5.7" stroke="#e08791"/><circle cx="884.9" cy="1165.9" r="5.7" stroke="#2b9bb0"/><circle cx="886.6" cy="975.0" r="5.7" stroke="#e08791"/><circle cx="886.6" cy="994.0" r="5.7" stroke="#2b9bb0"/><circle cx="888.2" cy="1105.3" r="5.7" stroke="#e08791"/><circle cx="888.2" cy="1116.2" r="5.7" stroke="#2b9bb0"/><circle cx="889.9" cy="1106.2" r="5.7" stroke="#e08791"/><circle cx="889.9" cy="1097.6" r="5.7" stroke="#2b9bb0"/><circle cx="891.5" cy="1060.7" r="5.7" stroke="#e08791"/><circle cx="891.5" cy="1150.2" r="5.7" stroke="#2b9bb0"/><circle cx="893.2" cy="1144.4" r="5.7" stroke="#2b9bb0"/><circle cx="893.2" cy="1076.9" r="5.7" stroke="#e08791"/><circle cx="894.8" cy="1148.6" r="5.7" stroke="#e08791"/><circle cx="894.8" cy="1156.8" r="5.7" stroke="#2b9bb0"/><circle cx="896.5" cy="1125.9" r="5.7" stroke="#e08791"/><circle cx="896.5" cy="1166.5" r="5.7" stroke="#2b9bb0"/><circle cx="898.1" cy="1125.8" r="5.7" stroke="#e08791"/><circle cx="898.1" cy="1097.5" r="5.7" stroke="#2b9bb0"/><circle cx="899.8" cy="1131.2" r="5.7" stroke="#e08791"/><circle cx="899.8" cy="1176.6" r="5.7" stroke="#2b9bb0"/><circle cx="901.4" cy="1195.3" r="5.7" stroke="#2b9bb0"/><circle cx="901.4" cy="1073.9" r="5.7" stroke="#e08791"/><circle cx="903.1" cy="1159.8" r="5.7" stroke="#e08791"/><circle cx="903.1" cy="1160.4" r="5.7" stroke="#2b9bb0"/><circle cx="904.7" cy="1231.0" r="5.7" stroke="#e08791"/><circle cx="904.7" cy="1141.3" r="5.7" stroke="#2b9bb0"/><circle cx="906.4" cy="1111.0" r="5.7" stroke="#e08791"/><circle cx="906.4" cy="1126.2" r="5.7" stroke="#2b9bb0"/><circle cx="908.0" cy="1098.6" r="5.7" stroke="#e08791"/><circle cx="908.0" cy="1179.1" r="5.7" stroke="#2b9bb0"/><circle cx="909.7" cy="1118.6" r="5.7" stroke="#2b9bb0"/><circle cx="909.7" cy="1146.6" r="5.7" stroke="#e08791"/><circle cx="911.3" cy="1088.9" r="5.7" stroke="#e08791"/><circle cx="911.3" cy="1136.1" r="5.7" stroke="#2b9bb0"/><circle cx="912.9" cy="1100.6" r="5.7" stroke="#e08791"/><circle cx="912.9" cy="1138.4" r="5.7" stroke="#2b9bb0"/><circle cx="914.6" cy="1103.7" r="5.7" stroke="#e08791"/><circle cx="914.6" cy="1146.8" r="5.7" stroke="#2b9bb0"/><circle cx="916.2" cy="1136.9" r="5.7" stroke="#e08791"/><circle cx="916.2" cy="1133.3" r="5.7" stroke="#2b9bb0"/><circle cx="917.9" cy="1067.0" r="5.7" stroke="#e08791"/><circle cx="917.9" cy="1118.7" r="5.7" stroke="#2b9bb0"/><circle cx="919.5" cy="1023.0" r="5.7" stroke="#2b9bb0"/><circle cx="919.5" cy="1153.1" r="5.7" stroke="#e08791"/><circle cx="921.2" cy="955.0" r="5.7" stroke="#e08791"/><circle cx="921.2" cy="1167.4" r="5.7" stroke="#2b9bb0"/><circle cx="922.8" cy="1019.3" r="5.7" stroke="#2b9bb0"/><circle cx="922.8" cy="965.5" r="5.7" stroke="#e08791"/><circle cx="924.5" cy="1134.2" r="5.7" stroke="#2b9bb0"/><circle cx="924.5" cy="1094.1" r="5.7" stroke="#e08791"/><circle cx="926.1" cy="1183.3" r="5.7" stroke="#2b9bb0"/><circle cx="926.1" cy="1189.6" r="5.7" stroke="#e08791"/><circle cx="927.8" cy="1133.2" r="5.7" stroke="#2b9bb0"/><circle cx="927.8" cy="1104.9" r="5.7" stroke="#e08791"/><circle cx="929.4" cy="1116.7" r="5.7" stroke="#2b9bb0"/><circle cx="929.4" cy="1111.2" r="5.7" stroke="#e08791"/><circle cx="931.1" cy="1065.2" r="5.7" stroke="#e08791"/><circle cx="931.1" cy="1037.0" r="5.7" stroke="#2b9bb0"/><circle cx="932.7" cy="1079.1" r="5.7" stroke="#e08791"/><circle cx="932.7" cy="1186.3" r="5.7" stroke="#2b9bb0"/><circle cx="934.4" cy="1121.1" r="5.7" stroke="#2b9bb0"/><circle cx="934.4" cy="1128.6" r="5.7" stroke="#e08791"/><circle cx="936.0" cy="1088.2" r="5.7" stroke="#e08791"/><circle cx="936.0" cy="1169.5" r="5.7" stroke="#2b9bb0"/><circle cx="937.7" cy="1189.7" r="5.7" stroke="#e08791"/><circle cx="937.7" cy="1132.5" r="5.7" stroke="#2b9bb0"/><circle cx="939.3" cy="1164.2" r="5.7" stroke="#2b9bb0"/><circle cx="939.3" cy="1133.2" r="5.7" stroke="#e08791"/><circle cx="941.0" cy="1214.1" r="5.7" stroke="#e08791"/><circle cx="941.0" cy="1182.4" r="5.7" stroke="#2b9bb0"/><circle cx="942.6" cy="1116.8" r="5.7" stroke="#e08791"/><circle cx="942.6" cy="1142.2" r="5.7" stroke="#2b9bb0"/><circle cx="944.3" cy="1106.5" r="5.7" stroke="#e08791"/><circle cx="944.3" cy="958.0" r="5.7" stroke="#2b9bb0"/><circle cx="945.9" cy="1126.4" r="5.7" stroke="#2b9bb0"/><circle cx="945.9" cy="1111.8" r="5.7" stroke="#e08791"/><circle cx="947.6" cy="1135.7" r="5.7" stroke="#e08791"/><circle cx="947.6" cy="1167.3" r="5.7" stroke="#2b9bb0"/><circle cx="949.2" cy="938.0" r="5.7" stroke="#e08791"/><circle cx="949.2" cy="1164.3" r="5.7" stroke="#2b9bb0"/><circle cx="950.8" cy="1123.3" r="5.7" stroke="#e08791"/><circle cx="950.8" cy="1139.0" r="5.7" stroke="#2b9bb0"/><circle cx="952.5" cy="1128.2" r="5.7" stroke="#e08791"/><circle cx="952.5" cy="1156.8" r="5.7" stroke="#2b9bb0"/><circle cx="954.1" cy="1079.1" r="5.7" stroke="#e08791"/><circle cx="954.1" cy="1173.6" r="5.7" stroke="#2b9bb0"/><circle cx="955.8" cy="1154.0" r="5.7" stroke="#2b9bb0"/><circle cx="955.8" cy="998.4" r="5.7" stroke="#e08791"/><circle cx="957.4" cy="1070.5" r="5.7" stroke="#e08791"/><circle cx="957.4" cy="1136.4" r="5.7" stroke="#2b9bb0"/><circle cx="959.1" cy="1148.2" r="5.7" stroke="#e08791"/><circle cx="959.1" cy="1139.2" r="5.7" stroke="#2b9bb0"/><circle cx="960.7" cy="1098.4" r="5.7" stroke="#2b9bb0"/><circle cx="960.7" cy="1112.9" r="5.7" stroke="#e08791"/><circle cx="962.4" cy="1137.0" r="5.7" stroke="#2b9bb0"/><circle cx="962.4" cy="1138.4" r="5.7" stroke="#e08791"/><circle cx="964.0" cy="1189.0" r="5.7" stroke="#2b9bb0"/><circle cx="964.0" cy="1092.6" r="5.7" stroke="#e08791"/><circle cx="965.7" cy="1193.2" r="5.7" stroke="#2b9bb0"/><circle cx="965.7" cy="1126.4" r="5.7" stroke="#e08791"/><circle cx="967.3" cy="1203.6" r="5.7" stroke="#2b9bb0"/><circle cx="967.3" cy="1140.9" r="5.7" stroke="#e08791"/><circle cx="969.0" cy="1177.8" r="5.7" stroke="#2b9bb0"/><circle cx="969.0" cy="1098.1" r="5.7" stroke="#e08791"/><circle cx="970.6" cy="1168.7" r="5.7" stroke="#2b9bb0"/><circle cx="970.6" cy="1210.7" r="5.7" stroke="#e08791"/><circle cx="972.3" cy="1096.6" r="5.7" stroke="#e08791"/><circle cx="972.3" cy="1177.2" r="5.7" stroke="#2b9bb0"/><circle cx="973.9" cy="1169.3" r="5.7" stroke="#e08791"/><circle cx="973.9" cy="1145.6" r="5.7" stroke="#2b9bb0"/><circle cx="975.6" cy="1151.3" r="5.7" stroke="#e08791"/><circle cx="975.6" cy="1162.6" r="5.7" stroke="#2b9bb0"/><circle cx="977.2" cy="1104.2" r="5.7" stroke="#e08791"/><circle cx="977.2" cy="1176.6" r="5.7" stroke="#2b9bb0"/><circle cx="978.9" cy="1129.7" r="5.7" stroke="#e08791"/><circle cx="978.9" cy="1143.1" r="5.7" stroke="#2b9bb0"/><circle cx="980.5" cy="1068.6" r="5.7" stroke="#e08791"/><circle cx="980.5" cy="1128.3" r="5.7" stroke="#2b9bb0"/><circle cx="982.2" cy="1030.6" r="5.7" stroke="#e08791"/><circle cx="982.2" cy="1078.6" r="5.7" stroke="#2b9bb0"/><circle cx="983.8" cy="1120.7" r="5.7" stroke="#e08791"/><circle cx="983.8" cy="1156.8" r="5.7" stroke="#2b9bb0"/><circle cx="985.5" cy="1154.2" r="5.7" stroke="#2b9bb0"/><circle cx="985.5" cy="1189.8" r="5.7" stroke="#e08791"/><circle cx="987.1" cy="1089.2" r="5.7" stroke="#e08791"/><circle cx="987.1" cy="1155.3" r="5.7" stroke="#2b9bb0"/><circle cx="988.7" cy="1145.4" r="5.7" stroke="#e08791"/><circle cx="988.7" cy="1141.4" r="5.7" stroke="#2b9bb0"/><circle cx="990.4" cy="1166.0" r="5.7" stroke="#2b9bb0"/><circle cx="990.4" cy="1082.9" r="5.7" stroke="#e08791"/><circle cx="992.0" cy="1145.1" r="5.7" stroke="#e08791"/><circle cx="992.0" cy="1138.8" r="5.7" stroke="#2b9bb0"/><circle cx="993.7" cy="1195.1" r="5.7" stroke="#2b9bb0"/><circle cx="993.7" cy="1069.5" r="5.7" stroke="#e08791"/><circle cx="995.3" cy="1208.3" r="5.7" stroke="#2b9bb0"/><circle cx="995.3" cy="1193.1" r="5.7" stroke="#e08791"/><circle cx="997.0" cy="1167.7" r="5.7" stroke="#2b9bb0"/><circle cx="997.0" cy="1117.1" r="5.7" stroke="#e08791"/><circle cx="998.6" cy="1118.1" r="5.7" stroke="#2b9bb0"/><circle cx="998.6" cy="1195.9" r="5.7" stroke="#e08791"/><circle cx="1000.3" cy="970.0" r="5.7" stroke="#e08791"/><circle cx="1000.3" cy="1083.4" r="5.7" stroke="#2b9bb0"/><circle cx="1001.9" cy="1161.8" r="5.7" stroke="#2b9bb0"/><circle cx="1001.9" cy="1064.4" r="5.7" stroke="#e08791"/><circle cx="1003.6" cy="1090.5" r="5.7" stroke="#e08791"/><circle cx="1003.6" cy="1141.9" r="5.7" stroke="#2b9bb0"/><circle cx="1005.2" cy="1122.8" r="5.7" stroke="#2b9bb0"/><circle cx="1005.2" cy="1086.9" r="5.7" stroke="#e08791"/><circle cx="1006.9" cy="1125.9" r="5.7" stroke="#e08791"/><circle cx="1006.9" cy="1150.5" r="5.7" stroke="#2b9bb0"/><circle cx="1008.5" cy="1148.5" r="5.7" stroke="#e08791"/><circle cx="1008.5" cy="1169.6" r="5.7" stroke="#2b9bb0"/><circle cx="1010.2" cy="1146.3" r="5.7" stroke="#2b9bb0"/><circle cx="1010.2" cy="1071.6" r="5.7" stroke="#e08791"/><circle cx="1011.8" cy="1171.9" r="5.7" stroke="#2b9bb0"/><circle cx="1011.8" cy="1092.0" r="5.7" stroke="#e08791"/><circle cx="1013.5" cy="980.4" r="5.7" stroke="#e08791"/><circle cx="1013.5" cy="1177.3" r="5.7" stroke="#2b9bb0"/><circle cx="1015.1" cy="1097.1" r="5.7" stroke="#e08791"/><circle cx="1015.1" cy="1123.2" r="5.7" stroke="#2b9bb0"/><circle cx="1016.8" cy="1126.1" r="5.7" stroke="#2b9bb0"/><circle cx="1016.8" cy="1107.4" r="5.7" stroke="#e08791"/><circle cx="1018.4" cy="1093.2" r="5.7" stroke="#e08791"/><circle cx="1018.4" cy="1116.3" r="5.7" stroke="#2b9bb0"/><circle cx="1020.1" cy="1163.4" r="5.7" stroke="#2b9bb0"/><circle cx="1020.1" cy="1120.4" r="5.7" stroke="#e08791"/><circle cx="1021.7" cy="1130.4" r="5.7" stroke="#2b9bb0"/><circle cx="1021.7" cy="1110.2" r="5.7" stroke="#e08791"/><circle cx="1023.3" cy="1160.8" r="5.7" stroke="#2b9bb0"/><circle cx="1023.3" cy="1146.2" r="5.7" stroke="#e08791"/><circle cx="1025.0" cy="1055.8" r="5.7" stroke="#2b9bb0"/><circle cx="1025.0" cy="1051.3" r="5.7" stroke="#e08791"/><circle cx="1026.6" cy="1104.7" r="5.7" stroke="#2b9bb0"/><circle cx="1026.6" cy="1117.9" r="5.7" stroke="#e08791"/><circle cx="1028.3" cy="1073.0" r="5.7" stroke="#e08791"/><circle cx="1028.3" cy="1103.1" r="5.7" stroke="#2b9bb0"/><circle cx="1029.9" cy="1129.4" r="5.7" stroke="#2b9bb0"/><circle cx="1029.9" cy="1105.9" r="5.7" stroke="#e08791"/><circle cx="1031.6" cy="1078.8" r="5.7" stroke="#e08791"/><circle cx="1031.6" cy="1161.6" r="5.7" stroke="#2b9bb0"/><circle cx="1033.2" cy="1119.8" r="5.7" stroke="#e08791"/><circle cx="1033.2" cy="1140.6" r="5.7" stroke="#2b9bb0"/><circle cx="1034.9" cy="1145.2" r="5.7" stroke="#2b9bb0"/><circle cx="1034.9" cy="1099.7" r="5.7" stroke="#e08791"/><circle cx="1036.5" cy="1100.0" r="5.7" stroke="#e08791"/><circle cx="1036.5" cy="1226.2" r="5.7" stroke="#2b9bb0"/><circle cx="1038.2" cy="1097.3" r="5.7" stroke="#e08791"/><circle cx="1038.2" cy="1136.6" r="5.7" stroke="#2b9bb0"/><circle cx="1039.8" cy="1155.7" r="5.7" stroke="#2b9bb0"/><circle cx="1039.8" cy="1110.6" r="5.7" stroke="#e08791"/><circle cx="1041.5" cy="1118.3" r="5.7" stroke="#e08791"/><circle cx="1041.5" cy="1158.5" r="5.7" stroke="#2b9bb0"/><circle cx="1043.1" cy="1162.2" r="5.7" stroke="#2b9bb0"/><circle cx="1043.1" cy="1103.4" r="5.7" stroke="#e08791"/><circle cx="1044.8" cy="1160.3" r="5.7" stroke="#2b9bb0"/><circle cx="1044.8" cy="1110.1" r="5.7" stroke="#e08791"/><circle cx="1046.4" cy="1069.5" r="5.7" stroke="#e08791"/><circle cx="1046.4" cy="1133.9" r="5.7" stroke="#2b9bb0"/><circle cx="1048.1" cy="1158.8" r="5.7" stroke="#2b9bb0"/><circle cx="1048.1" cy="1169.4" r="5.7" stroke="#e08791"/><circle cx="1049.7" cy="1231.9" r="5.7" stroke="#e08791"/><circle cx="1049.7" cy="1049.4" r="5.7" stroke="#2b9bb0"/><circle cx="1051.4" cy="1152.2" r="5.7" stroke="#e08791"/><circle cx="1051.4" cy="1130.9" r="5.7" stroke="#2b9bb0"/><circle cx="1053.0" cy="1090.9" r="5.7" stroke="#e08791"/><circle cx="1053.0" cy="1128.9" r="5.7" stroke="#2b9bb0"/><circle cx="1054.7" cy="1124.0" r="5.7" stroke="#2b9bb0"/><circle cx="1054.7" cy="1123.4" r="5.7" stroke="#e08791"/><circle cx="1056.3" cy="1088.5" r="5.7" stroke="#e08791"/><circle cx="1056.3" cy="1172.4" r="5.7" stroke="#2b9bb0"/><circle cx="1058.0" cy="1130.4" r="5.7" stroke="#e08791"/><circle cx="1058.0" cy="1171.1" r="5.7" stroke="#2b9bb0"/><circle cx="1059.6" cy="1155.8" r="5.7" stroke="#e08791"/><circle cx="1059.6" cy="1142.9" r="5.7" stroke="#2b9bb0"/><circle cx="1061.2" cy="1147.8" r="5.7" stroke="#2b9bb0"/><circle cx="1061.2" cy="1072.5" r="5.7" stroke="#e08791"/><circle cx="1062.9" cy="1149.8" r="5.7" stroke="#e08791"/><circle cx="1062.9" cy="1163.2" r="5.7" stroke="#2b9bb0"/><circle cx="1064.5" cy="1147.2" r="5.7" stroke="#2b9bb0"/><circle cx="1064.5" cy="1101.3" r="5.7" stroke="#e08791"/><circle cx="1066.2" cy="1173.1" r="5.7" stroke="#2b9bb0"/><circle cx="1066.2" cy="1129.2" r="5.7" stroke="#e08791"/><circle cx="1067.8" cy="1098.0" r="5.7" stroke="#2b9bb0"/><circle cx="1067.8" cy="1035.7" r="5.7" stroke="#e08791"/><circle cx="1069.5" cy="1125.5" r="5.7" stroke="#e08791"/><circle cx="1069.5" cy="1149.6" r="5.7" stroke="#2b9bb0"/><circle cx="1071.1" cy="1136.3" r="5.7" stroke="#2b9bb0"/><circle cx="1071.1" cy="1142.2" r="5.7" stroke="#e08791"/><circle cx="1072.8" cy="1111.2" r="5.7" stroke="#2b9bb0"/><circle cx="1072.8" cy="1123.7" r="5.7" stroke="#e08791"/><circle cx="1074.4" cy="1118.3" r="5.7" stroke="#e08791"/><circle cx="1074.4" cy="1027.2" r="5.7" stroke="#2b9bb0"/><circle cx="1076.1" cy="1142.0" r="5.7" stroke="#2b9bb0"/><circle cx="1076.1" cy="1111.2" r="5.7" stroke="#e08791"/><circle cx="1077.7" cy="1159.7" r="5.7" stroke="#2b9bb0"/><circle cx="1077.7" cy="1120.0" r="5.7" stroke="#e08791"/><circle cx="1079.4" cy="1118.7" r="5.7" stroke="#e08791"/><circle cx="1079.4" cy="1136.5" r="5.7" stroke="#2b9bb0"/><circle cx="1081.0" cy="1155.8" r="5.7" stroke="#2b9bb0"/><circle cx="1081.0" cy="1074.0" r="5.7" stroke="#e08791"/><circle cx="1082.7" cy="1093.2" r="5.7" stroke="#e08791"/><circle cx="1082.7" cy="1112.1" r="5.7" stroke="#2b9bb0"/><circle cx="1084.3" cy="1124.0" r="5.7" stroke="#e08791"/><circle cx="1084.3" cy="1112.2" r="5.7" stroke="#2b9bb0"/><circle cx="1086.0" cy="1109.1" r="5.7" stroke="#e08791"/><circle cx="1086.0" cy="1154.7" r="5.7" stroke="#2b9bb0"/><circle cx="1087.6" cy="1110.2" r="5.7" stroke="#e08791"/><circle cx="1087.6" cy="1122.7" r="5.7" stroke="#2b9bb0"/><circle cx="1089.3" cy="1149.1" r="5.7" stroke="#e08791"/><circle cx="1089.3" cy="1184.5" r="5.7" stroke="#2b9bb0"/><circle cx="1090.9" cy="1108.8" r="5.7" stroke="#2b9bb0"/><circle cx="1090.9" cy="1094.4" r="5.7" stroke="#e08791"/><circle cx="1092.6" cy="1031.3" r="5.7" stroke="#2b9bb0"/><circle cx="1092.6" cy="1086.6" r="5.7" stroke="#e08791"/><circle cx="1094.2" cy="1104.6" r="5.7" stroke="#e08791"/><circle cx="1094.2" cy="1182.9" r="5.7" stroke="#2b9bb0"/><circle cx="1095.8" cy="1134.1" r="5.7" stroke="#e08791"/><circle cx="1095.8" cy="1177.7" r="5.7" stroke="#2b9bb0"/><circle cx="1097.5" cy="1088.1" r="5.7" stroke="#e08791"/><circle cx="1097.5" cy="1121.1" r="5.7" stroke="#2b9bb0"/><circle cx="1099.1" cy="1212.3" r="5.7" stroke="#2b9bb0"/><circle cx="1099.1" cy="1112.0" r="5.7" stroke="#e08791"/><circle cx="1100.8" cy="1155.0" r="5.7" stroke="#2b9bb0"/><circle cx="1100.8" cy="1146.4" r="5.7" stroke="#e08791"/><circle cx="1102.4" cy="1114.1" r="5.7" stroke="#e08791"/><circle cx="1102.4" cy="1149.2" r="5.7" stroke="#2b9bb0"/><circle cx="1104.1" cy="1100.4" r="5.7" stroke="#e08791"/><circle cx="1104.1" cy="1163.0" r="5.7" stroke="#2b9bb0"/><circle cx="1105.7" cy="1143.1" r="5.7" stroke="#e08791"/><circle cx="1105.7" cy="1250.0" r="5.7" stroke="#2b9bb0"/><circle cx="1107.4" cy="1101.2" r="5.7" stroke="#e08791"/><circle cx="1107.4" cy="1145.7" r="5.7" stroke="#2b9bb0"/><circle cx="1109.0" cy="1135.0" r="5.7" stroke="#e08791"/><circle cx="1109.0" cy="1143.6" r="5.7" stroke="#2b9bb0"/><circle cx="1110.7" cy="1170.4" r="5.7" stroke="#2b9bb0"/><circle cx="1110.7" cy="1158.0" r="5.7" stroke="#e08791"/><circle cx="1112.3" cy="1149.6" r="5.7" stroke="#2b9bb0"/><circle cx="1112.3" cy="1158.4" r="5.7" stroke="#e08791"/><circle cx="1114.0" cy="1136.8" r="5.7" stroke="#e08791"/><circle cx="1114.0" cy="1152.9" r="5.7" stroke="#2b9bb0"/><circle cx="1115.6" cy="1114.4" r="5.7" stroke="#e08791"/><circle cx="1115.6" cy="1162.4" r="5.7" stroke="#2b9bb0"/><circle cx="1117.3" cy="1154.6" r="5.7" stroke="#e08791"/><circle cx="1117.3" cy="1176.1" r="5.7" stroke="#2b9bb0"/><circle cx="1118.9" cy="1084.7" r="5.7" stroke="#2b9bb0"/><circle cx="1118.9" cy="1118.9" r="5.7" stroke="#e08791"/><circle cx="1120.6" cy="1168.0" r="5.7" stroke="#2b9bb0"/><circle cx="1120.6" cy="1118.2" r="5.7" stroke="#e08791"/><circle cx="1122.2" cy="1179.1" r="5.7" stroke="#2b9bb0"/><circle cx="1122.2" cy="1204.1" r="5.7" stroke="#e08791"/><circle cx="1123.9" cy="1104.3" r="5.7" stroke="#2b9bb0"/><circle cx="1123.9" cy="1122.1" r="5.7" stroke="#e08791"/><circle cx="1125.5" cy="1120.9" r="5.7" stroke="#e08791"/><circle cx="1125.5" cy="1124.8" r="5.7" stroke="#2b9bb0"/><circle cx="1127.2" cy="1151.6" r="5.7" stroke="#2b9bb0"/><circle cx="1127.2" cy="1141.1" r="5.7" stroke="#e08791"/><circle cx="1128.8" cy="1119.0" r="5.7" stroke="#e08791"/><circle cx="1128.8" cy="1161.9" r="5.7" stroke="#2b9bb0"/><circle cx="1130.5" cy="1082.1" r="5.7" stroke="#2b9bb0"/><circle cx="1130.5" cy="1160.7" r="5.7" stroke="#e08791"/><circle cx="1132.1" cy="1111.4" r="5.7" stroke="#2b9bb0"/><circle cx="1132.1" cy="1167.2" r="5.7" stroke="#e08791"/><circle cx="1133.7" cy="1102.6" r="5.7" stroke="#e08791"/><circle cx="1133.7" cy="1116.3" r="5.7" stroke="#2b9bb0"/><circle cx="1135.4" cy="1150.8" r="5.7" stroke="#e08791"/><circle cx="1135.4" cy="1168.4" r="5.7" stroke="#2b9bb0"/><circle cx="1137.0" cy="1133.1" r="5.7" stroke="#e08791"/><circle cx="1137.0" cy="1184.1" r="5.7" stroke="#2b9bb0"/><circle cx="1138.7" cy="1006.7" r="5.7" stroke="#2b9bb0"/><circle cx="1138.7" cy="1163.2" r="5.7" stroke="#e08791"/><circle cx="1140.3" cy="1155.0" r="5.7" stroke="#2b9bb0"/><circle cx="1140.3" cy="1141.3" r="5.7" stroke="#e08791"/><circle cx="1142.0" cy="1138.3" r="5.7" stroke="#2b9bb0"/><circle cx="1142.0" cy="1085.4" r="5.7" stroke="#e08791"/><circle cx="1143.6" cy="1156.9" r="5.7" stroke="#2b9bb0"/><circle cx="1143.6" cy="1111.9" r="5.7" stroke="#e08791"/><circle cx="1145.3" cy="1107.4" r="5.7" stroke="#e08791"/><circle cx="1145.3" cy="1121.2" r="5.7" stroke="#2b9bb0"/><circle cx="1146.9" cy="1029.3" r="5.7" stroke="#e08791"/><circle cx="1146.9" cy="1171.5" r="5.7" stroke="#2b9bb0"/><circle cx="1148.6" cy="1173.2" r="5.7" stroke="#2b9bb0"/><circle cx="1148.6" cy="1113.6" r="5.7" stroke="#e08791"/><circle cx="1150.2" cy="1132.5" r="5.7" stroke="#2b9bb0"/><circle cx="1150.2" cy="1111.7" r="5.7" stroke="#e08791"/><circle cx="1151.9" cy="1180.3" r="5.7" stroke="#e08791"/><circle cx="1151.9" cy="1182.4" r="5.7" stroke="#2b9bb0"/><circle cx="1153.5" cy="1111.2" r="5.7" stroke="#e08791"/><circle cx="1153.5" cy="1137.8" r="5.7" stroke="#2b9bb0"/><circle cx="1155.2" cy="1111.2" r="5.7" stroke="#e08791"/><circle cx="1155.2" cy="1202.3" r="5.7" stroke="#2b9bb0"/><circle cx="1156.8" cy="1213.5" r="5.7" stroke="#2b9bb0"/><circle cx="1156.8" cy="1019.6" r="5.7" stroke="#e08791"/><circle cx="1158.5" cy="1142.5" r="5.7" stroke="#2b9bb0"/><circle cx="1158.5" cy="1083.6" r="5.7" stroke="#e08791"/><circle cx="1160.1" cy="1179.2" r="5.7" stroke="#2b9bb0"/><circle cx="1160.1" cy="1189.2" r="5.7" stroke="#e08791"/><circle cx="1161.8" cy="1132.4" r="5.7" stroke="#e08791"/><circle cx="1161.8" cy="1192.3" r="5.7" stroke="#2b9bb0"/><circle cx="1163.4" cy="1164.1" r="5.7" stroke="#2b9bb0"/><circle cx="1163.4" cy="1098.9" r="5.7" stroke="#e08791"/><circle cx="1165.1" cy="1120.3" r="5.7" stroke="#e08791"/><circle cx="1165.1" cy="1175.6" r="5.7" stroke="#2b9bb0"/><circle cx="1166.7" cy="1139.0" r="5.7" stroke="#e08791"/><circle cx="1166.7" cy="1163.9" r="5.7" stroke="#2b9bb0"/><circle cx="1168.3" cy="1133.4" r="5.7" stroke="#2b9bb0"/><circle cx="1168.3" cy="1115.6" r="5.7" stroke="#e08791"/><circle cx="1170.0" cy="1109.9" r="5.7" stroke="#e08791"/><circle cx="1170.0" cy="1168.2" r="5.7" stroke="#2b9bb0"/><circle cx="1171.6" cy="1124.6" r="5.7" stroke="#e08791"/><circle cx="1171.6" cy="1128.8" r="5.7" stroke="#2b9bb0"/><circle cx="1173.3" cy="1137.1" r="5.7" stroke="#e08791"/><circle cx="1173.3" cy="1159.9" r="5.7" stroke="#2b9bb0"/><circle cx="1174.9" cy="1143.8" r="5.7" stroke="#2b9bb0"/><circle cx="1174.9" cy="1098.2" r="5.7" stroke="#e08791"/><circle cx="1176.6" cy="1176.7" r="5.7" stroke="#2b9bb0"/><circle cx="1176.6" cy="1100.2" r="5.7" stroke="#e08791"/><circle cx="1178.2" cy="1109.4" r="5.7" stroke="#2b9bb0"/><circle cx="1178.2" cy="1057.4" r="5.7" stroke="#e08791"/><circle cx="1179.9" cy="968.0" r="5.7" stroke="#e08791"/><circle cx="1179.9" cy="1000.0" r="5.7" stroke="#2b9bb0"/><circle cx="1181.5" cy="1129.5" r="5.7" stroke="#2b9bb0"/><circle cx="1181.5" cy="1211.2" r="5.7" stroke="#e08791"/><circle cx="1183.2" cy="1157.8" r="5.7" stroke="#2b9bb0"/><circle cx="1183.2" cy="1086.1" r="5.7" stroke="#e08791"/><circle cx="1184.8" cy="1120.6" r="5.7" stroke="#e08791"/><circle cx="1184.8" cy="1166.0" r="5.7" stroke="#2b9bb0"/><circle cx="1186.5" cy="1125.1" r="5.7" stroke="#2b9bb0"/><circle cx="1186.5" cy="1080.9" r="5.7" stroke="#e08791"/><circle cx="1188.1" cy="1052.9" r="5.7" stroke="#e08791"/><circle cx="1188.1" cy="1013.9" r="5.7" stroke="#2b9bb0"/><circle cx="1189.8" cy="1175.7" r="5.7" stroke="#2b9bb0"/><circle cx="1189.8" cy="1125.1" r="5.7" stroke="#e08791"/><circle cx="1191.4" cy="1117.5" r="5.7" stroke="#e08791"/><circle cx="1191.4" cy="1165.3" r="5.7" stroke="#2b9bb0"/><circle cx="1193.1" cy="1166.7" r="5.7" stroke="#2b9bb0"/><circle cx="1193.1" cy="1080.2" r="5.7" stroke="#e08791"/><circle cx="1194.7" cy="1182.7" r="5.7" stroke="#2b9bb0"/><circle cx="1194.7" cy="1094.5" r="5.7" stroke="#e08791"/><circle cx="1196.4" cy="1043.8" r="5.7" stroke="#e08791"/><circle cx="1196.4" cy="1138.3" r="5.7" stroke="#2b9bb0"/><circle cx="1198.0" cy="1140.9" r="5.7" stroke="#2b9bb0"/><circle cx="1198.0" cy="1176.8" r="5.7" stroke="#e08791"/><circle cx="1199.7" cy="1174.5" r="5.7" stroke="#2b9bb0"/><circle cx="1199.7" cy="1110.3" r="5.7" stroke="#e08791"/><circle cx="1201.3" cy="1122.5" r="5.7" stroke="#e08791"/><circle cx="1201.3" cy="1163.6" r="5.7" stroke="#2b9bb0"/><circle cx="1203.0" cy="1150.6" r="5.7" stroke="#e08791"/><circle cx="1203.0" cy="1134.5" r="5.7" stroke="#2b9bb0"/><circle cx="1204.6" cy="1206.6" r="5.7" stroke="#2b9bb0"/><circle cx="1204.6" cy="1098.9" r="5.7" stroke="#e08791"/><circle cx="1206.2" cy="1104.8" r="5.7" stroke="#2b9bb0"/><circle cx="1206.2" cy="1104.3" r="5.7" stroke="#e08791"/><circle cx="1207.9" cy="1140.8" r="5.7" stroke="#2b9bb0"/><circle cx="1207.9" cy="1096.4" r="5.7" stroke="#e08791"/><circle cx="1209.5" cy="1164.2" r="5.7" stroke="#e08791"/><circle cx="1209.5" cy="1131.2" r="5.7" stroke="#2b9bb0"/><circle cx="1211.2" cy="1126.3" r="5.7" stroke="#2b9bb0"/><circle cx="1211.2" cy="1077.2" r="5.7" stroke="#e08791"/><circle cx="1212.8" cy="1128.8" r="5.7" stroke="#2b9bb0"/><circle cx="1212.8" cy="1134.0" r="5.7" stroke="#e08791"/><circle cx="1214.5" cy="1106.4" r="5.7" stroke="#e08791"/><circle cx="1214.5" cy="1171.4" r="5.7" stroke="#2b9bb0"/><circle cx="1216.1" cy="1099.2" r="5.7" stroke="#e08791"/><circle cx="1216.1" cy="1156.5" r="5.7" stroke="#2b9bb0"/><circle cx="1217.8" cy="1121.8" r="5.7" stroke="#e08791"/><circle cx="1217.8" cy="1130.1" r="5.7" stroke="#2b9bb0"/><circle cx="1219.4" cy="1014.6" r="5.7" stroke="#e08791"/><circle cx="1219.4" cy="1151.8" r="5.7" stroke="#2b9bb0"/><circle cx="1221.1" cy="1127.6" r="5.7" stroke="#e08791"/><circle cx="1221.1" cy="1137.1" r="5.7" stroke="#2b9bb0"/><circle cx="1222.7" cy="1002.1" r="5.7" stroke="#2b9bb0"/><circle cx="1222.7" cy="1156.7" r="5.7" stroke="#e08791"/><circle cx="1224.4" cy="1139.3" r="5.7" stroke="#e08791"/><circle cx="1224.4" cy="1149.0" r="5.7" stroke="#2b9bb0"/><circle cx="1226.0" cy="1169.3" r="5.7" stroke="#2b9bb0"/><circle cx="1226.0" cy="1182.9" r="5.7" stroke="#e08791"/><circle cx="1227.7" cy="1117.7" r="5.7" stroke="#2b9bb0"/><circle cx="1227.7" cy="1145.0" r="5.7" stroke="#e08791"/><circle cx="1229.3" cy="1151.9" r="5.7" stroke="#2b9bb0"/><circle cx="1229.3" cy="1173.6" r="5.7" stroke="#e08791"/><circle cx="1231.0" cy="1171.9" r="5.7" stroke="#e08791"/><circle cx="1231.0" cy="1171.9" r="5.7" stroke="#2b9bb0"/><circle cx="1232.6" cy="1094.6" r="5.7" stroke="#e08791"/><circle cx="1232.6" cy="1165.5" r="5.7" stroke="#2b9bb0"/><circle cx="1234.3" cy="1138.0" r="5.7" stroke="#2b9bb0"/><circle cx="1234.3" cy="986.4" r="5.7" stroke="#e08791"/><circle cx="1235.9" cy="1134.1" r="5.7" stroke="#2b9bb0"/><circle cx="1235.9" cy="1121.7" r="5.7" stroke="#e08791"/><circle cx="1237.6" cy="1173.1" r="5.7" stroke="#2b9bb0"/><circle cx="1237.6" cy="1102.3" r="5.7" stroke="#e08791"/><circle cx="1239.2" cy="1142.0" r="5.7" stroke="#2b9bb0"/><circle cx="1239.2" cy="1130.0" r="5.7" stroke="#e08791"/><circle cx="1240.9" cy="1121.0" r="5.7" stroke="#2b9bb0"/><circle cx="1240.9" cy="1141.2" r="5.7" stroke="#e08791"/><circle cx="1242.5" cy="1041.8" r="5.7" stroke="#2b9bb0"/><circle cx="1242.5" cy="1070.9" r="5.7" stroke="#e08791"/><circle cx="1244.1" cy="1223.7" r="5.7" stroke="#2b9bb0"/><circle cx="1244.1" cy="1107.7" r="5.7" stroke="#e08791"/><circle cx="1245.8" cy="1089.7" r="5.7" stroke="#e08791"/><circle cx="1245.8" cy="1149.3" r="5.7" stroke="#2b9bb0"/><circle cx="1247.4" cy="1132.3" r="5.7" stroke="#e08791"/><circle cx="1247.4" cy="1164.2" r="5.7" stroke="#2b9bb0"/><circle cx="1249.1" cy="1107.0" r="5.7" stroke="#e08791"/><circle cx="1249.1" cy="1153.1" r="5.7" stroke="#2b9bb0"/><circle cx="1250.7" cy="1118.5" r="5.7" stroke="#e08791"/><circle cx="1250.7" cy="1132.6" r="5.7" stroke="#2b9bb0"/><circle cx="1252.4" cy="1096.7" r="5.7" stroke="#e08791"/><circle cx="1252.4" cy="1179.7" r="5.7" stroke="#2b9bb0"/><circle cx="1254.0" cy="1162.1" r="5.7" stroke="#2b9bb0"/><circle cx="1254.0" cy="1085.9" r="5.7" stroke="#e08791"/><circle cx="1255.7" cy="1105.4" r="5.7" stroke="#e08791"/><circle cx="1255.7" cy="1169.6" r="5.7" stroke="#2b9bb0"/><circle cx="1257.3" cy="1182.1" r="5.7" stroke="#e08791"/><circle cx="1257.3" cy="1165.7" r="5.7" stroke="#2b9bb0"/><circle cx="1259.0" cy="1155.2" r="5.7" stroke="#2b9bb0"/><circle cx="1259.0" cy="1081.3" r="5.7" stroke="#e08791"/><circle cx="1260.6" cy="1159.1" r="5.7" stroke="#2b9bb0"/><circle cx="1260.6" cy="1166.4" r="5.7" stroke="#e08791"/><circle cx="1262.3" cy="1115.8" r="5.7" stroke="#e08791"/><circle cx="1262.3" cy="1169.4" r="5.7" stroke="#2b9bb0"/><circle cx="1263.9" cy="1143.0" r="5.7" stroke="#e08791"/><circle cx="1263.9" cy="1156.2" r="5.7" stroke="#2b9bb0"/><circle cx="1265.6" cy="1091.9" r="5.7" stroke="#e08791"/><circle cx="1265.6" cy="1043.7" r="5.7" stroke="#2b9bb0"/><circle cx="1267.2" cy="1013.9" r="5.7" stroke="#e08791"/><circle cx="1267.2" cy="1158.3" r="5.7" stroke="#2b9bb0"/><circle cx="1268.9" cy="1150.0" r="5.7" stroke="#e08791"/><circle cx="1268.9" cy="1130.9" r="5.7" stroke="#2b9bb0"/><circle cx="1270.5" cy="1085.5" r="5.7" stroke="#e08791"/><circle cx="1270.5" cy="1147.6" r="5.7" stroke="#2b9bb0"/><circle cx="1272.2" cy="1170.2" r="5.7" stroke="#2b9bb0"/><circle cx="1272.2" cy="1155.8" r="5.7" stroke="#e08791"/><circle cx="1273.8" cy="1147.6" r="5.7" stroke="#e08791"/><circle cx="1273.8" cy="1122.5" r="5.7" stroke="#2b9bb0"/><circle cx="1275.5" cy="1120.1" r="5.7" stroke="#e08791"/><circle cx="1275.5" cy="1194.1" r="5.7" stroke="#2b9bb0"/><circle cx="1277.1" cy="1158.6" r="5.7" stroke="#2b9bb0"/><circle cx="1277.1" cy="1092.6" r="5.7" stroke="#e08791"/><circle cx="1278.7" cy="1159.4" r="5.7" stroke="#2b9bb0"/><circle cx="1278.7" cy="1109.9" r="5.7" stroke="#e08791"/><circle cx="1280.4" cy="1152.4" r="5.7" stroke="#e08791"/><circle cx="1280.4" cy="1270.0" r="5.7" stroke="#2b9bb0"/><circle cx="1282.0" cy="1002.8" r="5.7" stroke="#e08791"/><circle cx="1282.0" cy="1150.5" r="5.7" stroke="#2b9bb0"/><circle cx="1283.7" cy="1183.9" r="5.7" stroke="#2b9bb0"/><circle cx="1283.7" cy="1120.6" r="5.7" stroke="#e08791"/><circle cx="1285.3" cy="1124.7" r="5.7" stroke="#e08791"/><circle cx="1285.3" cy="1062.9" r="5.7" stroke="#2b9bb0"/><circle cx="1287.0" cy="1082.7" r="5.7" stroke="#2b9bb0"/><circle cx="1287.0" cy="1103.3" r="5.7" stroke="#e08791"/><circle cx="1288.6" cy="1081.5" r="5.7" stroke="#e08791"/><circle cx="1288.6" cy="1152.0" r="5.7" stroke="#2b9bb0"/><circle cx="1290.3" cy="1041.7" r="5.7" stroke="#e08791"/><circle cx="1290.3" cy="1177.7" r="5.7" stroke="#2b9bb0"/><circle cx="1291.9" cy="1146.1" r="5.7" stroke="#2b9bb0"/><circle cx="1291.9" cy="1080.9" r="5.7" stroke="#e08791"/><circle cx="1293.6" cy="1169.1" r="5.7" stroke="#2b9bb0"/><circle cx="1293.6" cy="1132.2" r="5.7" stroke="#e08791"/><circle cx="1295.2" cy="1093.6" r="5.7" stroke="#e08791"/><circle cx="1295.2" cy="1173.2" r="5.7" stroke="#2b9bb0"/><circle cx="1296.9" cy="1063.1" r="5.7" stroke="#e08791"/><circle cx="1296.9" cy="1181.6" r="5.7" stroke="#2b9bb0"/><circle cx="1298.5" cy="1124.6" r="5.7" stroke="#e08791"/><circle cx="1298.5" cy="1137.4" r="5.7" stroke="#2b9bb0"/><circle cx="1300.2" cy="1118.5" r="5.7" stroke="#2b9bb0"/><circle cx="1300.2" cy="1110.1" r="5.7" stroke="#e08791"/><circle cx="1301.8" cy="1155.6" r="5.7" stroke="#2b9bb0"/><circle cx="1301.8" cy="1104.0" r="5.7" stroke="#e08791"/><circle cx="1303.5" cy="1086.0" r="5.7" stroke="#e08791"/><circle cx="1303.5" cy="1189.7" r="5.7" stroke="#2b9bb0"/><circle cx="1305.1" cy="1113.8" r="5.7" stroke="#e08791"/><circle cx="1305.1" cy="1171.6" r="5.7" stroke="#2b9bb0"/><circle cx="1306.8" cy="1000.0" r="5.7" stroke="#2b9bb0"/><circle cx="1306.8" cy="1110.9" r="5.7" stroke="#e08791"/><circle cx="1308.4" cy="1161.0" r="5.7" stroke="#e08791"/><circle cx="1308.4" cy="1171.7" r="5.7" stroke="#2b9bb0"/><circle cx="1310.1" cy="1069.3" r="5.7" stroke="#e08791"/><circle cx="1310.1" cy="1146.4" r="5.7" stroke="#2b9bb0"/><circle cx="1311.7" cy="1083.7" r="5.7" stroke="#e08791"/><circle cx="1311.7" cy="1082.8" r="5.7" stroke="#2b9bb0"/><circle cx="1313.4" cy="1110.3" r="5.7" stroke="#e08791"/><circle cx="1313.4" cy="1237.2" r="5.7" stroke="#2b9bb0"/><circle cx="1315.0" cy="1153.4" r="5.7" stroke="#2b9bb0"/><circle cx="1315.0" cy="1086.2" r="5.7" stroke="#e08791"/><circle cx="1316.6" cy="1102.7" r="5.7" stroke="#e08791"/><circle cx="1316.6" cy="1125.1" r="5.7" stroke="#2b9bb0"/><circle cx="1318.3" cy="1084.0" r="5.7" stroke="#e08791"/><circle cx="1318.3" cy="1084.6" r="5.7" stroke="#2b9bb0"/><circle cx="1319.9" cy="1147.0" r="5.7" stroke="#e08791"/><circle cx="1319.9" cy="1146.0" r="5.7" stroke="#2b9bb0"/><circle cx="1321.6" cy="1167.3" r="5.7" stroke="#e08791"/><circle cx="1321.6" cy="1152.3" r="5.7" stroke="#2b9bb0"/><circle cx="1323.2" cy="1093.6" r="5.7" stroke="#e08791"/><circle cx="1323.2" cy="1135.3" r="5.7" stroke="#2b9bb0"/><circle cx="1324.9" cy="1088.7" r="5.7" stroke="#e08791"/><circle cx="1324.9" cy="1156.2" r="5.7" stroke="#2b9bb0"/><circle cx="1326.5" cy="1140.8" r="5.7" stroke="#e08791"/><circle cx="1326.5" cy="1148.9" r="5.7" stroke="#2b9bb0"/><circle cx="1328.2" cy="1126.8" r="5.7" stroke="#e08791"/><circle cx="1328.2" cy="1181.7" r="5.7" stroke="#2b9bb0"/><circle cx="1329.8" cy="1189.5" r="5.7" stroke="#e08791"/><circle cx="1329.8" cy="1153.8" r="5.7" stroke="#2b9bb0"/><circle cx="1331.5" cy="1065.2" r="5.7" stroke="#e08791"/><circle cx="1331.5" cy="1000.0" r="5.7" stroke="#2b9bb0"/><circle cx="1333.1" cy="1114.2" r="5.7" stroke="#e08791"/><circle cx="1333.1" cy="1139.1" r="5.7" stroke="#2b9bb0"/><circle cx="1334.8" cy="1156.3" r="5.7" stroke="#2b9bb0"/><circle cx="1334.8" cy="1154.1" r="5.7" stroke="#e08791"/><circle cx="1336.4" cy="1152.7" r="5.7" stroke="#2b9bb0"/><circle cx="1336.4" cy="1080.0" r="5.7" stroke="#e08791"/><circle cx="1338.1" cy="1203.6" r="5.7" stroke="#2b9bb0"/><circle cx="1338.1" cy="1166.8" r="5.7" stroke="#e08791"/><circle cx="1339.7" cy="947.0" r="5.7" stroke="#e08791"/><circle cx="1339.7" cy="979.0" r="5.7" stroke="#2b9bb0"/><circle cx="1341.4" cy="1221.5" r="5.7" stroke="#e08791"/><circle cx="1341.4" cy="1133.6" r="5.7" stroke="#2b9bb0"/><circle cx="1343.0" cy="1091.6" r="5.7" stroke="#2b9bb0"/><circle cx="1343.0" cy="1059.4" r="5.7" stroke="#e08791"/><circle cx="1344.7" cy="1162.8" r="5.7" stroke="#2b9bb0"/><circle cx="1344.7" cy="1104.3" r="5.7" stroke="#e08791"/><circle cx="1346.3" cy="1140.0" r="5.7" stroke="#2b9bb0"/><circle cx="1346.3" cy="1123.2" r="5.7" stroke="#e08791"/><circle cx="1348.0" cy="1093.6" r="5.7" stroke="#2b9bb0"/><circle cx="1348.0" cy="1035.0" r="5.7" stroke="#e08791"/><circle cx="1349.6" cy="1125.9" r="5.7" stroke="#2b9bb0"/><circle cx="1349.6" cy="1143.2" r="5.7" stroke="#e08791"/><circle cx="1351.2" cy="1123.1" r="5.7" stroke="#e08791"/><circle cx="1351.2" cy="1155.2" r="5.7" stroke="#2b9bb0"/><circle cx="1352.9" cy="1138.5" r="5.7" stroke="#2b9bb0"/><circle cx="1352.9" cy="1057.2" r="5.7" stroke="#e08791"/><circle cx="1354.5" cy="1180.9" r="5.7" stroke="#2b9bb0"/><circle cx="1354.5" cy="1125.0" r="5.7" stroke="#e08791"/><circle cx="1356.2" cy="1180.9" r="5.7" stroke="#2b9bb0"/><circle cx="1356.2" cy="1092.6" r="5.7" stroke="#e08791"/><circle cx="1357.8" cy="1152.8" r="5.7" stroke="#e08791"/><circle cx="1357.8" cy="1170.5" r="5.7" stroke="#2b9bb0"/><circle cx="1359.5" cy="1129.8" r="5.7" stroke="#e08791"/><circle cx="1359.5" cy="1133.5" r="5.7" stroke="#2b9bb0"/><circle cx="1361.1" cy="1170.9" r="5.7" stroke="#2b9bb0"/><circle cx="1361.1" cy="1142.2" r="5.7" stroke="#e08791"/><circle cx="1362.8" cy="1047.1" r="5.7" stroke="#2b9bb0"/><circle cx="1362.8" cy="1121.3" r="5.7" stroke="#e08791"/><circle cx="1364.4" cy="1162.2" r="5.7" stroke="#2b9bb0"/><circle cx="1364.4" cy="1176.9" r="5.7" stroke="#e08791"/><circle cx="1366.1" cy="1110.2" r="5.7" stroke="#e08791"/><circle cx="1366.1" cy="1177.7" r="5.7" stroke="#2b9bb0"/><circle cx="1367.7" cy="1078.2" r="5.7" stroke="#e08791"/><circle cx="1367.7" cy="1183.2" r="5.7" stroke="#2b9bb0"/><circle cx="1369.4" cy="1191.4" r="5.7" stroke="#2b9bb0"/><circle cx="1369.4" cy="1097.8" r="5.7" stroke="#e08791"/><circle cx="1371.0" cy="1144.5" r="5.7" stroke="#2b9bb0"/><circle cx="1371.0" cy="1124.4" r="5.7" stroke="#e08791"/><circle cx="1372.7" cy="1158.4" r="5.7" stroke="#2b9bb0"/><circle cx="1372.7" cy="1156.0" r="5.7" stroke="#e08791"/><circle cx="1374.3" cy="1155.7" r="5.7" stroke="#2b9bb0"/><circle cx="1374.3" cy="1079.4" r="5.7" stroke="#e08791"/><circle cx="1376.0" cy="1191.5" r="5.7" stroke="#2b9bb0"/><circle cx="1376.0" cy="1109.6" r="5.7" stroke="#e08791"/><circle cx="1377.6" cy="1148.0" r="5.7" stroke="#e08791"/><circle cx="1377.6" cy="1276.0" r="5.7" stroke="#2b9bb0"/><circle cx="1379.3" cy="1139.6" r="5.7" stroke="#e08791"/><circle cx="1379.3" cy="1136.3" r="5.7" stroke="#2b9bb0"/><circle cx="1380.9" cy="1158.4" r="5.7" stroke="#2b9bb0"/><circle cx="1380.9" cy="1133.4" r="5.7" stroke="#e08791"/><circle cx="1382.6" cy="1135.2" r="5.7" stroke="#2b9bb0"/><circle cx="1382.6" cy="1128.3" r="5.7" stroke="#e08791"/><circle cx="1384.2" cy="1172.6" r="5.7" stroke="#2b9bb0"/><circle cx="1384.2" cy="1089.5" r="5.7" stroke="#e08791"/><circle cx="1385.9" cy="1171.1" r="5.7" stroke="#2b9bb0"/><circle cx="1385.9" cy="1101.8" r="5.7" stroke="#e08791"/><circle cx="1387.5" cy="1143.2" r="5.7" stroke="#e08791"/><circle cx="1387.5" cy="1179.0" r="5.7" stroke="#2b9bb0"/><circle cx="1389.1" cy="1179.7" r="5.7" stroke="#2b9bb0"/><circle cx="1389.1" cy="1090.2" r="5.7" stroke="#e08791"/><circle cx="1390.8" cy="1166.9" r="5.7" stroke="#e08791"/><circle cx="1390.8" cy="1200.4" r="5.7" stroke="#2b9bb0"/><circle cx="1392.4" cy="1155.7" r="5.7" stroke="#e08791"/><circle cx="1392.4" cy="1209.9" r="5.7" stroke="#2b9bb0"/><circle cx="1394.1" cy="1172.5" r="5.7" stroke="#2b9bb0"/><circle cx="1394.1" cy="1137.5" r="5.7" stroke="#e08791"/><circle cx="1395.7" cy="1136.0" r="5.7" stroke="#2b9bb0"/><circle cx="1395.7" cy="1150.1" r="5.7" stroke="#e08791"/><circle cx="1397.4" cy="1037.2" r="5.7" stroke="#e08791"/><circle cx="1397.4" cy="1176.1" r="5.7" stroke="#2b9bb0"/><circle cx="1399.0" cy="1142.2" r="5.7" stroke="#e08791"/><circle cx="1399.0" cy="1148.5" r="5.7" stroke="#2b9bb0"/><circle cx="1400.7" cy="1170.5" r="5.7" stroke="#2b9bb0"/><circle cx="1400.7" cy="1100.1" r="5.7" stroke="#e08791"/><circle cx="1402.3" cy="1104.7" r="5.7" stroke="#e08791"/><circle cx="1402.3" cy="1185.1" r="5.7" stroke="#2b9bb0"/><circle cx="1404.0" cy="1081.8" r="5.7" stroke="#e08791"/><circle cx="1404.0" cy="1146.4" r="5.7" stroke="#2b9bb0"/><circle cx="1405.6" cy="1166.3" r="5.7" stroke="#2b9bb0"/><circle cx="1405.6" cy="1122.5" r="5.7" stroke="#e08791"/><circle cx="1407.3" cy="1164.6" r="5.7" stroke="#2b9bb0"/><circle cx="1407.3" cy="1118.8" r="5.7" stroke="#e08791"/><circle cx="1408.9" cy="1158.0" r="5.7" stroke="#2b9bb0"/><circle cx="1408.9" cy="1133.3" r="5.7" stroke="#e08791"/><circle cx="1410.6" cy="1134.0" r="5.7" stroke="#e08791"/><circle cx="1410.6" cy="1154.2" r="5.7" stroke="#2b9bb0"/><circle cx="1412.2" cy="1213.3" r="5.7" stroke="#e08791"/><circle cx="1412.2" cy="1096.8" r="5.7" stroke="#2b9bb0"/><circle cx="1413.9" cy="1157.5" r="5.7" stroke="#2b9bb0"/><circle cx="1413.9" cy="1176.2" r="5.7" stroke="#e08791"/><circle cx="1415.5" cy="999.8" r="5.7" stroke="#e08791"/><circle cx="1415.5" cy="1155.3" r="5.7" stroke="#2b9bb0"/><circle cx="1417.2" cy="1126.1" r="5.7" stroke="#e08791"/><circle cx="1417.2" cy="1110.2" r="5.7" stroke="#2b9bb0"/><circle cx="1418.8" cy="1151.5" r="5.7" stroke="#2b9bb0"/><circle cx="1418.8" cy="1132.6" r="5.7" stroke="#e08791"/><circle cx="1420.5" cy="1033.6" r="5.7" stroke="#e08791"/><circle cx="1420.5" cy="1166.4" r="5.7" stroke="#2b9bb0"/><circle cx="1422.1" cy="1090.1" r="5.7" stroke="#e08791"/><circle cx="1422.1" cy="1146.0" r="5.7" stroke="#2b9bb0"/><circle cx="1423.7" cy="1153.0" r="5.7" stroke="#2b9bb0"/><circle cx="1423.7" cy="1162.8" r="5.7" stroke="#e08791"/><circle cx="1425.4" cy="1106.7" r="5.7" stroke="#2b9bb0"/><circle cx="1425.4" cy="1104.2" r="5.7" stroke="#e08791"/><circle cx="1427.0" cy="1129.3" r="5.7" stroke="#2b9bb0"/><circle cx="1427.0" cy="1138.4" r="5.7" stroke="#e08791"/><circle cx="1428.7" cy="1138.8" r="5.7" stroke="#2b9bb0"/><circle cx="1428.7" cy="1134.7" r="5.7" stroke="#e08791"/><circle cx="1430.3" cy="1137.2" r="5.7" stroke="#e08791"/><circle cx="1430.3" cy="1194.6" r="5.7" stroke="#2b9bb0"/><circle cx="1432.0" cy="1095.3" r="5.7" stroke="#e08791"/><circle cx="1432.0" cy="1188.9" r="5.7" stroke="#2b9bb0"/><circle cx="1433.6" cy="1136.9" r="5.7" stroke="#e08791"/><circle cx="1433.6" cy="1112.0" r="5.7" stroke="#2b9bb0"/><circle cx="1435.3" cy="1133.3" r="5.7" stroke="#2b9bb0"/><circle cx="1435.3" cy="1106.7" r="5.7" stroke="#e08791"/><circle cx="1436.9" cy="1139.1" r="5.7" stroke="#2b9bb0"/><circle cx="1436.9" cy="1064.7" r="5.7" stroke="#e08791"/><circle cx="1438.6" cy="1171.9" r="5.7" stroke="#2b9bb0"/><circle cx="1438.6" cy="1135.4" r="5.7" stroke="#e08791"/><circle cx="1440.2" cy="1114.9" r="5.7" stroke="#2b9bb0"/><circle cx="1440.2" cy="1084.7" r="5.7" stroke="#e08791"/><circle cx="1441.9" cy="1082.2" r="5.7" stroke="#e08791"/><circle cx="1441.9" cy="1058.2" r="5.7" stroke="#2b9bb0"/><circle cx="1443.5" cy="1095.6" r="5.7" stroke="#e08791"/><circle cx="1443.5" cy="1126.4" r="5.7" stroke="#2b9bb0"/><circle cx="1445.2" cy="1149.0" r="5.7" stroke="#e08791"/><circle cx="1445.2" cy="1157.3" r="5.7" stroke="#2b9bb0"/><circle cx="1446.8" cy="1132.3" r="5.7" stroke="#e08791"/><circle cx="1446.8" cy="1151.8" r="5.7" stroke="#2b9bb0"/><circle cx="1448.5" cy="1126.7" r="5.7" stroke="#2b9bb0"/><circle cx="1448.5" cy="1086.1" r="5.7" stroke="#e08791"/><circle cx="1450.1" cy="1071.5" r="5.7" stroke="#e08791"/><circle cx="1450.1" cy="1178.3" r="5.7" stroke="#2b9bb0"/><circle cx="1451.8" cy="1157.9" r="5.7" stroke="#2b9bb0"/><circle cx="1451.8" cy="1095.5" r="5.7" stroke="#e08791"/><circle cx="1453.4" cy="1137.4" r="5.7" stroke="#e08791"/><circle cx="1453.4" cy="1167.5" r="5.7" stroke="#2b9bb0"/><circle cx="1455.1" cy="1146.9" r="5.7" stroke="#2b9bb0"/><circle cx="1455.1" cy="1170.1" r="5.7" stroke="#e08791"/><circle cx="1456.7" cy="1083.2" r="5.7" stroke="#e08791"/><circle cx="1456.7" cy="1127.0" r="5.7" stroke="#2b9bb0"/><circle cx="1458.4" cy="1017.9" r="5.7" stroke="#e08791"/><circle cx="1458.4" cy="1047.3" r="5.7" stroke="#2b9bb0"/><circle cx="1460.0" cy="1152.3" r="5.7" stroke="#e08791"/><circle cx="1460.0" cy="1124.2" r="5.7" stroke="#2b9bb0"/></g>
<line x1="110.5" y1="1179.3" x2="1461.0" y2="1179.3" stroke="#222" stroke-width="1.6"/>
<line x1="110.5" y1="920.0" x2="110.5" y2="1424.0" stroke="#222" stroke-width="1.8"/>
<line x1="110.5" y1="920.6" x2="121.5" y2="920.6" stroke="#222" stroke-width="1.6"/>
<line x1="110.5" y1="1049.8" x2="121.5" y2="1049.8" stroke="#222" stroke-width="1.6"/>
<line x1="110.5" y1="1179.3" x2="121.5" y2="1179.3" stroke="#222" stroke-width="1.6"/>
<line x1="110.5" y1="1308.9" x2="121.5" y2="1308.9" stroke="#222" stroke-width="1.6"/>
<line x1="527.2" y1="1296.9" x2="1045.4" y2="1296.9" stroke="#555" stroke-width="2.0" stroke-dasharray="10.4,1.5,2.4,1.6"/>
</g>
<text x="0.5" y="902.0" font-size="42" text-anchor="start" font-weight="bold" fill="#000">e</text>
<text class="t" x="0.0" y="0.0" transform="translate(23.1,1166.7) rotate(-90)" font-size="31" text-anchor="middle" font-weight="normal" fill="#111" textLength="320" lengthAdjust="spacingAndGlyphs">change in prob. correct</text>
<text class="t" transform="translate(60.8,921.5) rotate(-45)" x="0" y="11.5" font-size="32" text-anchor="middle" fill="#111">0.8</text>
<text class="t" transform="translate(60.8,1050.0) rotate(-45)" x="0" y="11.5" font-size="32" text-anchor="middle" fill="#111">0.4</text>
<text class="t" transform="translate(62.0,1179.3) rotate(-45)" x="0" y="11.5" font-size="32" text-anchor="middle" fill="#111">0</text>
<text class="t" transform="translate(59.0,1313.5) rotate(-45)" x="0" y="11.5" font-size="32" text-anchor="middle" fill="#111">-0.4</text>
<text class="t" x="745.5" y="1334.5" font-size="31" text-anchor="start" font-weight="normal" fill="#111" textLength="80.5" lengthAdjust="spacingAndGlyphs">words</text>
<line x1="1257.0" y1="1326.1" x2="1289.0" y2="1326.1" stroke="#2b9bb0" stroke-width="2.2"/>
<circle cx="1294.8" cy="1326.1" r="5" fill="#fff" stroke="#2b9bb0" stroke-width="2.4"/>
<line x1="1257.0" y1="1367.7" x2="1289.0" y2="1367.7" stroke="#e08791" stroke-width="2.2"/>
<circle cx="1294.8" cy="1367.7" r="5" fill="#fff" stroke="#e08791" stroke-width="2.4"/>
<text class="t" x="1322.7" y="1334.0" font-size="31" text-anchor="start" font-weight="normal" fill="#111" textLength="149" lengthAdjust="spacingAndGlyphs">experiment</text>
<text class="t" x="1322.7" y="1375.8" font-size="31" text-anchor="start" font-weight="normal" fill="#111" textLength="140" lengthAdjust="spacingAndGlyphs">replication</text>
</svg>
</body></html>
